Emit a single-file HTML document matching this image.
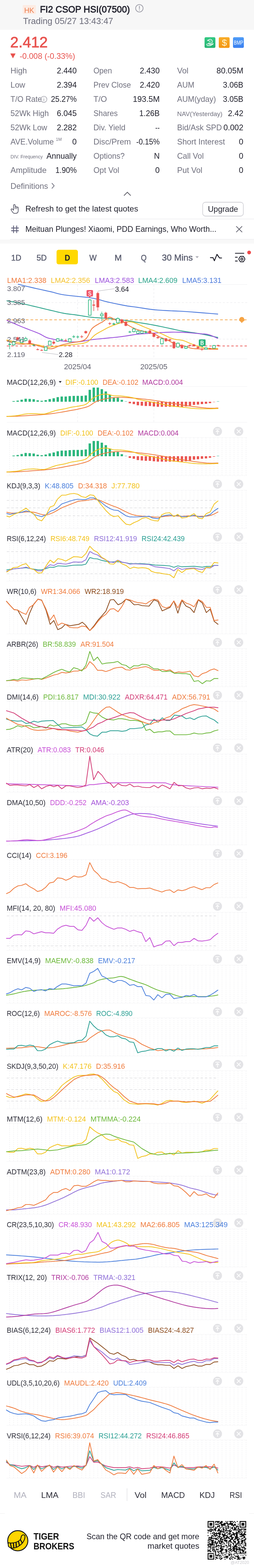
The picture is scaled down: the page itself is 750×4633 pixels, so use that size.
<!DOCTYPE html>
<html><head><meta charset="utf-8"><title>FI2 CSOP HSI(07500)</title>
<style>
html,body{margin:0;padding:0;background:#fff;}
#page{position:relative;width:750px;height:4633px;overflow:hidden;background:#fff;}
svg{position:absolute;left:0;top:0;font-family:"Liberation Sans",Arial,sans-serif;}
</style></head><body><div id="page">
<svg width="750" height="4633" viewBox="0 0 750 4633" xmlns="http://www.w3.org/2000/svg">
<rect x="0" y="0" width="750" height="88" fill="#f7f7f7"/>
<rect x="67" y="15" width="39" height="26" rx="2" fill="#fdebe2"/>
<text x="71.5" y="38.0" font-size="22" fill="#ec7e4f" textLength="29.5" lengthAdjust="spacingAndGlyphs">HK</text>
<text x="118.0" y="37.0" font-size="27.6" fill="#1d1d29" stroke="#1d1d29" stroke-width="0.99" textLength="265.7" lengthAdjust="spacingAndGlyphs">FI2 CSOP HSI(07500)</text>
<circle cx="411.5" cy="24.5" r="11" fill="none" stroke="#9b9ba6" stroke-width="2"/>
<rect x="410.5" y="17.5" width="2.2" height="9" fill="#9b9ba6"/><rect x="410.5" y="28.5" width="2.2" height="2.4" fill="#9b9ba6"/>
<text x="68.0" y="71.0" font-size="25.7" fill="#6c6c7a" textLength="266.2" lengthAdjust="spacingAndGlyphs">Trading 05/27 13:43:47</text>
<text x="30.0" y="140.0" font-size="43.5" fill="#e8524e" stroke="#e8524e" stroke-width="1.04" textLength="111.0" lengthAdjust="spacingAndGlyphs">2.412</text>
<path d="M30.5,158 L46,158 L38.2,172.5 Z" fill="#e8524e"/>
<text x="58.0" y="173.5" font-size="24.5" fill="#e8524e" textLength="163.8" lengthAdjust="spacingAndGlyphs">-0.008 (-0.33%)</text>
<defs><linearGradient id="gG" x1="0" y1="0" x2="0" y2="1"><stop offset="0" stop-color="#34c983"/><stop offset="1" stop-color="#24b372"/></linearGradient><linearGradient id="gO" x1="0" y1="0" x2="0" y2="1"><stop offset="0" stop-color="#f9ad2a"/><stop offset="1" stop-color="#f39512"/></linearGradient><linearGradient id="gB" x1="0" y1="0" x2="0" y2="1"><stop offset="0" stop-color="#4f9cf7"/><stop offset="1" stop-color="#3a7ff0"/></linearGradient></defs>
<rect x="604" y="110" width="32" height="31.5" rx="4" fill="url(#gG)"/>
<g stroke="#fff" stroke-width="1.8" fill="none" stroke-linecap="round"><path d="M614.5,120 A6.5,6.5 0 1 1 615.5,127"/><path d="M612.5,118.5 L614.5,120.5 L616.8,118.6"/><path d="M609.5,131.5 q4,-3 8,-1 l4,1 q3,0.5 5,-1 l3,-2"/><path d="M611,134.5 q6,1 11,0 l7,-4"/></g>
<text x="617.2" y="126.3" font-size="8.5" fill="#fff" font-weight="bold">C</text>
<rect x="646" y="110" width="32" height="31.5" rx="4" fill="url(#gO)"/>
<text x="655" y="134.5" font-size="26" fill="#fff7d6" textLength="15" lengthAdjust="spacingAndGlyphs">$</text>
<rect x="688" y="110" width="32" height="31.5" rx="4" fill="url(#gB)"/>
<text x="690.5" y="132.4" font-size="16.5" fill="#fff" textLength="27.5" lengthAdjust="spacingAndGlyphs">BMP</text>
<text x="31.0" y="217.0" font-size="23.4" fill="#70707e" textLength="48.4" lengthAdjust="spacingAndGlyphs">High</text>
<text x="167.7" y="217.0" font-size="23.4" fill="#22222e" textLength="58.8" lengthAdjust="spacingAndGlyphs">2.440</text>
<text x="276.0" y="217.0" font-size="23.4" fill="#70707e" textLength="54.6" lengthAdjust="spacingAndGlyphs">Open</text>
<text x="412.7" y="217.0" font-size="23.4" fill="#22222e" textLength="58.8" lengthAdjust="spacingAndGlyphs">2.430</text>
<text x="523.0" y="217.0" font-size="23.4" fill="#70707e" textLength="33.4" lengthAdjust="spacingAndGlyphs">Vol</text>
<text x="639.3" y="217.0" font-size="23.4" fill="#22222e" textLength="79.2" lengthAdjust="spacingAndGlyphs">80.05M</text>
<text x="31.0" y="259.0" font-size="23.4" fill="#70707e" textLength="43.5" lengthAdjust="spacingAndGlyphs">Low</text>
<text x="167.7" y="259.0" font-size="23.4" fill="#22222e" textLength="58.8" lengthAdjust="spacingAndGlyphs">2.394</text>
<text x="276.0" y="259.0" font-size="23.4" fill="#70707e" textLength="110.6" lengthAdjust="spacingAndGlyphs">Prev Close</text>
<text x="412.7" y="259.0" font-size="23.4" fill="#22222e" textLength="58.8" lengthAdjust="spacingAndGlyphs">2.420</text>
<text x="523.0" y="259.0" font-size="23.4" fill="#70707e" textLength="50.7" lengthAdjust="spacingAndGlyphs">AUM</text>
<text x="658.3" y="259.0" font-size="23.4" fill="#22222e" textLength="60.2" lengthAdjust="spacingAndGlyphs">3.06B</text>
<text x="31.0" y="301.0" font-size="23.4" fill="#70707e" textLength="92.7" lengthAdjust="spacingAndGlyphs">T/O Rate</text>
<text x="150.6" y="301.0" font-size="23.4" fill="#22222e" textLength="75.9" lengthAdjust="spacingAndGlyphs">25.27%</text>
<text x="276.0" y="301.0" font-size="23.4" fill="#70707e" textLength="39.7" lengthAdjust="spacingAndGlyphs">T/O</text>
<text x="392.3" y="301.0" font-size="23.4" fill="#22222e" textLength="79.2" lengthAdjust="spacingAndGlyphs">193.5M</text>
<text x="523.0" y="301.0" font-size="23.4" fill="#70707e" textLength="114.6" lengthAdjust="spacingAndGlyphs">AUM(yday)</text>
<text x="658.3" y="301.0" font-size="23.4" fill="#22222e" textLength="60.2" lengthAdjust="spacingAndGlyphs">3.05B</text>
<text x="31.0" y="343.0" font-size="23.4" fill="#70707e" textLength="113.1" lengthAdjust="spacingAndGlyphs">52Wk High</text>
<text x="167.7" y="343.0" font-size="23.4" fill="#22222e" textLength="58.8" lengthAdjust="spacingAndGlyphs">6.045</text>
<text x="276.0" y="343.0" font-size="23.4" fill="#70707e" textLength="71.7" lengthAdjust="spacingAndGlyphs">Shares</text>
<text x="411.3" y="343.0" font-size="23.4" fill="#22222e" textLength="60.2" lengthAdjust="spacingAndGlyphs">1.26B</text>
<text x="523.0" y="343.0" font-size="19" fill="#70707e" textLength="133.9" lengthAdjust="spacingAndGlyphs">NAV(Yesterday)</text>
<text x="672.9" y="343.0" font-size="23.4" fill="#22222e" textLength="45.6" lengthAdjust="spacingAndGlyphs">2.42</text>
<text x="31.0" y="385.0" font-size="23.4" fill="#70707e" textLength="108.3" lengthAdjust="spacingAndGlyphs">52Wk Low</text>
<text x="167.7" y="385.0" font-size="23.4" fill="#22222e" textLength="58.8" lengthAdjust="spacingAndGlyphs">2.282</text>
<text x="276.0" y="385.0" font-size="23.4" fill="#70707e" textLength="94.2" lengthAdjust="spacingAndGlyphs">Div. Yield</text>
<text x="458.6" y="385.0" font-size="23.4" fill="#22222e" textLength="12.9" lengthAdjust="spacingAndGlyphs">--</text>
<text x="523.0" y="385.0" font-size="23.4" fill="#70707e" textLength="132.1" lengthAdjust="spacingAndGlyphs">Bid/Ask SPD</text>
<text x="659.7" y="385.0" font-size="23.4" fill="#22222e" textLength="58.8" lengthAdjust="spacingAndGlyphs">0.002</text>
<text x="31.0" y="427.0" font-size="23.4" fill="#70707e" textLength="127.9" lengthAdjust="spacingAndGlyphs">AVE.Volume</text>
<text x="213.3" y="427.0" font-size="23.4" fill="#22222e" textLength="13.2" lengthAdjust="spacingAndGlyphs">0</text>
<text x="276.0" y="427.0" font-size="23.4" fill="#70707e" textLength="110.4" lengthAdjust="spacingAndGlyphs">Disc/Prem</text>
<text x="402.3" y="427.0" font-size="23.4" fill="#22222e" textLength="69.2" lengthAdjust="spacingAndGlyphs">-0.15%</text>
<text x="523.0" y="427.0" font-size="23.4" fill="#70707e" textLength="141.3" lengthAdjust="spacingAndGlyphs">Short Interest</text>
<text x="705.3" y="427.0" font-size="23.4" fill="#22222e" textLength="13.2" lengthAdjust="spacingAndGlyphs">0</text>
<text x="31.0" y="468.0" font-size="14.5" fill="#70707e" textLength="95.2" lengthAdjust="spacingAndGlyphs">DIV. Frequency</text>
<text x="137.3" y="469.0" font-size="23.4" fill="#22222e" textLength="89.2" lengthAdjust="spacingAndGlyphs">Annually</text>
<text x="276.0" y="469.0" font-size="23.4" fill="#70707e" textLength="92.0" lengthAdjust="spacingAndGlyphs">Options?</text>
<text x="454.8" y="469.0" font-size="23.4" fill="#22222e" textLength="16.7" lengthAdjust="spacingAndGlyphs">N</text>
<text x="523.0" y="469.0" font-size="23.4" fill="#70707e" textLength="78.6" lengthAdjust="spacingAndGlyphs">Call Vol</text>
<text x="705.3" y="469.0" font-size="23.4" fill="#22222e" textLength="13.2" lengthAdjust="spacingAndGlyphs">0</text>
<text x="31.0" y="511.0" font-size="23.4" fill="#70707e" textLength="106.5" lengthAdjust="spacingAndGlyphs">Amplitude</text>
<text x="163.7" y="511.0" font-size="23.4" fill="#22222e" textLength="62.8" lengthAdjust="spacingAndGlyphs">1.90%</text>
<text x="276.0" y="511.0" font-size="23.4" fill="#70707e" textLength="76.1" lengthAdjust="spacingAndGlyphs">Opt Vol</text>
<text x="458.3" y="511.0" font-size="23.4" fill="#22222e" textLength="13.2" lengthAdjust="spacingAndGlyphs">0</text>
<text x="523.0" y="511.0" font-size="23.4" fill="#70707e" textLength="74.5" lengthAdjust="spacingAndGlyphs">Put Vol</text>
<text x="705.3" y="511.0" font-size="23.4" fill="#22222e" textLength="13.2" lengthAdjust="spacingAndGlyphs">0</text>
<circle cx="129.5" cy="293.5" r="9" fill="none" stroke="#9b9ba6" stroke-width="1.5"/><rect x="128.7" y="292" width="1.7" height="6.5" fill="#9b9ba6"/><rect x="128.7" y="288.3" width="1.7" height="1.8" fill="#9b9ba6"/>
<text x="165.0" y="416.0" font-size="12" fill="#70707e" textLength="17.2" lengthAdjust="spacingAndGlyphs">1M</text>
<text x="31.0" y="558.0" font-size="23.4" fill="#70707e" textLength="111.0" lengthAdjust="spacingAndGlyphs">Definitions</text>
<path d="M153,541 L160,549 L153,557" stroke="#70707e" stroke-width="2" fill="none"/>
<path d="M366,578 L376,568 L386,578" stroke="#55555f" stroke-width="2" fill="none"/>
<g stroke="#5a5a6a" stroke-width="2" fill="none" stroke-linejoin="round" stroke-linecap="round"><path d="M40,620 L40,607 q0,-2.6 2.4,-2.6 q2.4,0 2.4,2.6 L44.8,617 M44.8,613 q0,-2.4 2.3,-2.4 q2.3,0 2.3,2.4 L49.4,617 M49.4,614 q0,-2.2 2.2,-2.2 q2.2,0 2.2,2.2 L53.8,622 q0,8 -7,8.5 L43,630.5 q-3.5,0 -6,-4 L33,620.5 q-0.8,-2.5 1.2,-3.2 q2,-0.6 3.5,1.2 L40,621"/></g>
<text x="75.0" y="625.0" font-size="23.9" fill="#22222e" textLength="332.9" lengthAdjust="spacingAndGlyphs">Refresh to get the latest quotes</text>
<rect x="598.5" y="597.5" width="120" height="41" rx="8" fill="#fff" stroke="#bcbcc4" stroke-width="1.3"/>
<text x="614.1" y="626.0" font-size="23.8" fill="#22222e" textLength="88.8" lengthAdjust="spacingAndGlyphs">Upgrade</text>
<rect x="30" y="646.5" width="720" height="1.2" fill="#e8e8ec"/>
<g stroke="#5d5d78" stroke-width="2.4"><path d="M40,666.5 L40,688.5 M49.3,666.5 L49.3,688.5 M33,673.7 L55.5,673.7 M33,681.8 L55.5,681.8"/></g>
<text x="75.0" y="685.0" font-size="23.9" fill="#22222e" textLength="564.0" lengthAdjust="spacingAndGlyphs">Meituan Plunges! Xiaomi, PDD Earnings, Who Worth...</text>
<path d="M697.5,668.5 L715,686 M715,668.5 L697.5,686" stroke="#5f5f6c" stroke-width="2"/>
<rect x="30" y="706.5" width="720" height="1.2" fill="#e8e8ec"/>
<rect x="0" y="708" width="750" height="11.5" fill="#f8f8f8"/>
<text x="33.0" y="770.0" font-size="24.6" fill="#5b5e70" stroke="#5b5e70" stroke-width="0.59" textLength="30.1" lengthAdjust="spacingAndGlyphs">1D</text>
<text x="108.0" y="770.0" font-size="24.6" fill="#5b5e70" stroke="#5b5e70" stroke-width="0.59" textLength="30.1" lengthAdjust="spacingAndGlyphs">5D</text>
<rect x="167" y="738" width="63" height="43" rx="6" fill="#ffd800"/>
<text x="191.0" y="770.0" font-size="24.6" fill="#1d1d29" font-weight="bold" textLength="16.0" lengthAdjust="spacingAndGlyphs">D</text>
<text x="263.7" y="770.0" font-size="24.6" fill="#5b5e70" stroke="#5b5e70" stroke-width="0.59" textLength="21.7" lengthAdjust="spacingAndGlyphs">W</text>
<text x="338.2" y="770.0" font-size="24.6" fill="#5b5e70" stroke="#5b5e70" stroke-width="0.59" textLength="21.5" lengthAdjust="spacingAndGlyphs">M</text>
<text x="416.0" y="770.0" font-size="24.6" fill="#5b5e70" stroke="#5b5e70" stroke-width="0.59" textLength="17.0" lengthAdjust="spacingAndGlyphs">Q</text>
<text x="478.0" y="770.0" font-size="25.4" fill="#5b5e70" stroke="#5b5e70" stroke-width="0.61" textLength="91.2" lengthAdjust="spacingAndGlyphs">30 Mins</text>
<path d="M577,757 L587,757 L582,763 Z" fill="#b0b0b8"/>
<polyline points="621.3,761.3 629,761.3 633,770.4 640.7,751.6 648.2,762.3 654.3,762.3" fill="none" stroke="#1d1d29" stroke-width="2.6" stroke-linejoin="round" stroke-linecap="round"/>
<g stroke="#1d1d29" stroke-width="2.4" fill="none" stroke-linecap="round"><path d="M695,748.4 L720,748.4 M695,760 L700.6,760 M695,771.3 L700.6,771.3"/><polygon points="723.4,765.5 718.8,773.5 709.6,773.5 705.0,765.5 709.6,757.5 718.8,757.5" stroke-linejoin="round"/><circle cx="714.2" cy="765.5" r="3.2"/></g>
<circle cx="735.6" cy="746" r="5.5" fill="#ee4a4a"/>
<text x="21.0" y="836.0" font-size="21.5" fill="#ef7a3c" textLength="115.9" lengthAdjust="spacingAndGlyphs">LMA1:2.338</text>
<text x="150.0" y="836.0" font-size="21.5" fill="#f4c12a" textLength="115.9" lengthAdjust="spacingAndGlyphs">LMA2:2.356</text>
<text x="280.0" y="836.0" font-size="21.5" fill="#9b50dc" textLength="115.9" lengthAdjust="spacingAndGlyphs">LMA3:2.583</text>
<text x="408.0" y="836.0" font-size="21.5" fill="#2aa38a" textLength="115.9" lengthAdjust="spacingAndGlyphs">LMA4:2.609</text>
<text x="538.0" y="836.0" font-size="21.5" fill="#4b79dc" textLength="115.9" lengthAdjust="spacingAndGlyphs">LMA5:3.131</text>
<rect x="20" y="840" width="710" height="1" fill="#ececef"/>
<rect x="20" y="1060" width="710" height="1" fill="#ececef"/>
<line x1="20" y1="894" x2="730" y2="894" stroke="#e4e4e8" stroke-width="1" stroke-dasharray="6,5"/>
<line x1="20" y1="1002" x2="730" y2="1002" stroke="#e4e4e8" stroke-width="1" stroke-dasharray="6,5"/>
<line x1="229" y1="841" x2="229" y2="1060" stroke="#e4e4e8" stroke-width="1" stroke-dasharray="6,5"/>
<line x1="454.3" y1="841" x2="454.3" y2="1060" stroke="#e4e4e8" stroke-width="1" stroke-dasharray="6,5"/>
<line x1="20" y1="945" x2="730" y2="945" stroke="#f3a64a" stroke-width="2" stroke-dasharray="8,6"/>
<circle cx="714" cy="944" r="7.5" fill="#f6a444"/><rect x="706" y="945" width="16" height="2.5" fill="#f6a444"/><circle cx="714" cy="952" r="2" fill="#f6a444"/>
<line x1="20" y1="1022.3" x2="730" y2="1022.3" stroke="#ea5451" stroke-width="2" stroke-dasharray="7,6"/>
<polyline points="54.0,840.0 59.0,841.2 65.8,842.9 73.9,844.8 82.7,846.9 91.6,849.0 100.0,851.0 108.2,852.9 116.7,854.7 125.4,856.6 133.9,858.5 142.2,860.3 150.0,862.0 156.8,863.7 162.6,865.3 168.1,866.8 174.0,868.3 181.1,869.9 190.0,871.4 201.5,872.9 215.3,874.4 230.1,875.9 245.1,877.4 259.1,878.9 271.0,880.6 280.6,882.4 288.6,884.3 295.6,886.2 302.2,888.1 309.1,890.1 316.7,892.0 325.3,893.9 334.6,895.9 344.0,897.9 353.3,899.8 362.1,901.5 370.0,903.0 376.8,904.2 382.8,905.0 388.3,905.8 393.7,906.4 399.3,907.1 405.6,908.0 412.6,909.1 420.0,910.2 427.7,911.5 435.5,912.7 443.3,913.8 451.0,914.7 458.5,915.5 465.9,916.1 473.4,916.6 480.9,917.1 488.6,917.5 496.7,918.0 504.7,918.4 512.4,918.7 520.4,919.0 529.0,919.4 538.7,919.9 550.0,920.6 564.3,921.6 581.5,923.0 599.8,924.5 617.4,925.9 632.4,927.1 643.0,928.0" fill="none" stroke="#4b79dc" stroke-width="2.4" stroke-linejoin="round" stroke-linecap="round"/>
<polyline points="20.5,888.8 24.8,889.6 30.7,890.6 37.8,891.8 45.3,893.2 52.9,894.6 60.0,896.0 66.5,897.4 72.9,898.8 79.3,900.2 85.9,901.7 92.7,903.3 100.0,905.0 107.9,906.9 116.3,908.9 125.0,911.0 133.7,913.1 142.1,915.1 150.0,917.0 157.3,918.7 164.2,920.4 170.9,922.0 177.4,923.4 183.7,924.8 190.0,926.0 196.1,927.0 201.8,927.8 207.5,928.5 213.2,929.1 219.2,929.8 225.6,930.7 232.6,931.8 240.0,932.9 247.7,934.2 255.5,935.4 263.3,936.6 271.0,937.5 278.5,938.2 285.9,938.7 293.4,939.2 300.9,939.6 308.6,940.1 316.7,940.7 325.3,941.5 334.6,942.5 344.0,943.5 353.3,944.5 362.1,945.6 370.0,946.6 376.8,947.6 382.8,948.5 388.3,949.4 393.7,950.4 399.3,951.4 405.6,952.5 412.6,953.6 420.0,954.8 427.7,956.0 435.5,957.3 443.3,958.6 451.0,960.0 458.6,961.5 466.3,963.0 474.0,964.6 481.6,966.2 489.2,967.8 496.7,969.4 504.0,971.0 511.1,972.5 518.1,974.1 525.2,975.6 532.4,977.1 540.0,978.5 547.9,979.8 556.1,981.0 564.4,982.1 572.9,983.3 581.4,984.6 590.0,986.0 599.3,987.8 609.4,989.8 619.6,992.0 629.1,994.0 637.2,995.8 643.0,997.0" fill="none" stroke="#2aa38a" stroke-width="2.4" stroke-linejoin="round" stroke-linecap="round"/>
<polyline points="20.5,946.6 25.7,948.8 32.9,952.0 41.4,955.7 50.5,959.6 59.6,963.5 68.0,967.0 76.0,970.2 84.3,973.4 92.5,976.5 100.4,979.5 107.7,982.4 114.0,985.0 119.2,987.4 123.4,989.7 127.0,991.8 130.3,993.7 133.5,995.4 137.0,997.0 140.7,998.3 144.4,999.4 148.1,1000.3 151.8,1001.1 155.4,1001.8 159.0,1002.6 162.3,1003.4 165.2,1004.2 168.0,1004.9 171.2,1005.7 175.1,1006.3 180.0,1007.0 186.2,1007.7 193.4,1008.6 201.3,1009.4 209.5,1010.1 217.7,1010.4 225.6,1010.4 233.2,1009.8 240.7,1008.8 248.3,1007.5 255.9,1006.1 263.4,1004.7 271.0,1003.6 278.6,1002.7 286.3,1001.9 294.0,1001.2 301.6,1000.4 309.2,999.7 316.7,999.0 324.0,998.3 331.2,997.6 338.4,996.9 345.5,996.2 352.7,995.4 360.0,994.5 367.5,993.4 375.0,992.2 382.7,991.0 390.3,989.7 398.0,988.6 405.6,987.6 413.2,986.8 420.7,986.2 428.3,985.7 435.9,985.3 443.4,984.9 451.0,984.4 458.6,983.9 466.3,983.4 474.0,982.8 481.6,982.4 489.2,982.0 496.7,981.7 504.0,981.5 511.1,981.4 518.1,981.4 525.2,981.5 532.4,981.7 540.0,982.0 548.2,982.5 557.1,983.1 566.1,983.9 574.9,984.6 583.0,985.4 590.0,986.0 595.6,986.4 600.2,986.6 604.2,986.8 607.8,987.1 611.4,987.7 615.5,988.6 620.3,990.1 625.5,992.2 630.8,994.5 635.8,996.7 640.0,998.7 643.0,1000.0" fill="none" stroke="#9b50dc" stroke-width="2.4" stroke-linejoin="round" stroke-linecap="round"/>
<polyline points="20.5,1004.5 25.7,1005.7 32.9,1007.4 41.4,1009.5 50.5,1011.6 59.6,1013.5 68.0,1015.0 76.0,1016.1 84.3,1016.9 92.5,1017.5 100.4,1018.1 107.7,1018.7 114.0,1019.5 119.2,1020.6 123.4,1021.8 127.0,1023.2 130.3,1024.4 133.5,1025.4 137.0,1026.0 140.7,1026.2 144.4,1026.0 148.1,1025.5 151.8,1025.0 155.4,1024.4 159.0,1024.0 162.3,1023.7 165.2,1023.4 168.0,1023.1 171.2,1022.7 175.1,1022.3 180.0,1021.8 186.3,1021.2 193.9,1020.5 202.1,1019.7 210.5,1018.8 218.5,1017.9 225.6,1017.0 231.8,1016.2 237.6,1015.4 242.9,1014.7 248.0,1013.7 252.8,1012.3 257.4,1010.4 261.6,1007.7 265.4,1004.5 269.0,1000.8 272.4,997.0 276.1,993.3 280.0,990.0 284.4,987.0 289.2,984.1 294.1,981.3 298.9,978.7 303.5,976.2 307.6,974.0 311.1,972.1 314.0,970.5 316.7,969.0 319.4,967.7 322.4,966.3 325.8,964.8 329.9,963.1 334.6,961.3 339.5,959.5 344.4,957.8 349.0,956.2 353.0,955.0 356.4,954.1 359.2,953.4 361.8,952.9 364.3,952.5 367.0,952.2 370.0,952.0 373.2,951.7 376.4,951.2 379.8,950.9 383.4,950.8 387.5,951.1 392.0,952.0 397.1,953.6 402.6,955.8 408.5,958.4 414.7,961.2 421.3,964.2 428.0,967.0 435.2,969.8 443.0,972.9 451.0,975.9 459.0,979.0 466.8,982.1 474.0,985.0 480.6,987.9 487.0,990.9 493.0,993.8 498.8,996.6 504.5,999.0 510.0,1001.0 515.4,1002.4 520.6,1003.3 525.7,1003.9 530.6,1004.4 535.4,1005.0 540.0,1006.0 544.5,1007.4 548.7,1009.0 552.8,1010.8 556.9,1012.6 560.9,1014.3 565.0,1016.0 569.2,1017.6 573.3,1019.3 577.5,1020.9 581.7,1022.4 585.8,1023.8 590.0,1025.0 594.1,1026.0 598.2,1026.8 602.3,1027.5 606.4,1028.1 610.7,1028.6 615.0,1029.0 619.8,1029.4 625.1,1029.6 630.6,1029.8 635.6,1029.9 639.9,1029.9 643.0,1030.0" fill="none" stroke="#f4c12a" stroke-width="2.4" stroke-linejoin="round" stroke-linecap="round"/>
<polyline points="20.5,1007.0 23.2,1007.9 27.1,1009.3 31.6,1010.9 36.4,1012.5 41.2,1013.9 45.5,1015.0 49.4,1015.7 53.2,1016.3 56.9,1016.6 60.6,1016.9 64.2,1017.0 68.0,1017.0 71.8,1016.8 75.6,1016.3 79.5,1015.7 83.3,1015.1 87.2,1014.9 91.0,1015.0 94.8,1015.7 98.7,1016.7 102.5,1018.0 106.3,1019.4 110.2,1020.8 114.0,1022.0 117.9,1023.2 121.9,1024.4 125.8,1025.7 129.7,1026.8 133.5,1027.8 137.0,1028.6 140.2,1029.3 143.1,1029.9 145.9,1030.3 148.7,1030.6 151.7,1030.5 155.0,1030.0 158.7,1029.0 162.7,1027.4 166.9,1025.5 171.3,1023.5 175.6,1021.6 180.0,1020.0 184.2,1018.8 188.2,1017.7 192.3,1016.8 196.7,1015.9 201.5,1014.8 207.0,1013.6 213.6,1012.4 221.2,1011.3 229.2,1010.2 237.2,1008.7 244.5,1006.6 250.6,1003.6 255.3,999.4 259.1,994.0 262.2,987.9 265.0,981.9 267.9,976.3 271.0,971.7 274.5,968.2 278.2,965.2 281.9,962.7 285.4,960.6 288.7,958.7 291.6,957.0 294.0,955.5 296.0,954.5 297.7,953.7 299.4,953.0 301.1,952.1 303.0,951.0 305.2,949.4 307.6,947.6 310.0,945.7 312.4,943.8 314.7,942.1 316.7,940.7 318.4,939.6 319.7,938.7 321.0,937.9 322.3,937.4 323.8,937.2 325.8,937.5 328.3,938.4 331.3,940.0 334.5,941.9 337.8,943.8 341.0,945.5 344.0,946.6 346.8,947.0 349.6,946.9 352.3,946.5 354.9,946.1 357.5,946.0 360.0,946.6 362.2,947.8 364.1,949.4 365.9,951.3 367.9,953.4 370.4,955.7 373.7,958.0 377.8,960.5 382.5,963.2 387.7,966.0 393.3,968.8 399.3,971.6 405.6,974.0 412.6,976.2 420.6,978.1 428.9,979.9 437.0,981.7 444.6,983.5 451.0,985.3 456.1,987.2 460.3,989.2 463.9,991.1 467.2,993.1 470.4,994.9 474.0,996.7 477.9,998.3 481.8,999.9 485.6,1001.4 489.5,1002.8 493.2,1004.3 496.7,1005.8 499.8,1007.3 502.5,1008.9 505.1,1010.4 507.8,1011.9 511.0,1013.5 515.0,1015.0 520.1,1016.6 526.2,1018.2 532.7,1019.8 539.2,1021.3 545.1,1022.7 550.0,1024.0 553.5,1025.1 556.1,1026.1 558.1,1026.9 560.0,1027.7 562.2,1028.4 565.0,1029.0 568.3,1029.5 571.6,1029.9 575.1,1030.2 579.2,1030.5 584.1,1030.8 590.0,1031.0 597.8,1031.2 607.6,1031.4 618.1,1031.6 628.2,1031.8 636.9,1031.9 643.0,1032.0" fill="none" stroke="#ef7a3c" stroke-width="2.4" stroke-linejoin="round" stroke-linecap="round"/>
<line x1="28.5" y1="1011" x2="28.5" y2="1032" stroke="#2bb67d" stroke-width="1.6"/>
<rect x="24.5" y="1016" width="8" height="3.0" fill="#2bb67d"/>
<line x1="40.3" y1="1007" x2="40.3" y2="1021" stroke="#2bb67d" stroke-width="1.6"/>
<rect x="36.3" y="1010" width="8" height="9.0" fill="#fff" stroke="#2bb67d" stroke-width="1.8"/>
<line x1="52.2" y1="995" x2="52.2" y2="1006" stroke="#ea5451" stroke-width="1.6"/>
<rect x="48.2" y="997" width="8" height="7.5" fill="#ea5451"/>
<line x1="64.0" y1="1001" x2="64.0" y2="1014" stroke="#2bb67d" stroke-width="1.6"/>
<rect x="60.0" y="1003.5" width="8" height="9.2" fill="#fff" stroke="#2bb67d" stroke-width="1.8"/>
<line x1="75.8" y1="995" x2="75.8" y2="1009" stroke="#2bb67d" stroke-width="1.6"/>
<rect x="71.8" y="1000" width="8" height="6.0" fill="#fff" stroke="#2bb67d" stroke-width="1.8"/>
<line x1="87.7" y1="1003" x2="87.7" y2="1018" stroke="#ea5451" stroke-width="1.6"/>
<rect x="83.7" y="1006" width="8" height="10.0" fill="#ea5451"/>
<line x1="99.5" y1="1017" x2="99.5" y2="1023" stroke="#2bb67d" stroke-width="1.6"/>
<rect x="95.5" y="1019" width="8" height="2.0" fill="#2bb67d"/>
<line x1="111.3" y1="1029" x2="111.3" y2="1035" stroke="#ea5451" stroke-width="1.6"/>
<rect x="107.3" y="1032" width="8" height="2.0" fill="#ea5451"/>
<line x1="123.1" y1="1032" x2="123.1" y2="1037" stroke="#ea5451" stroke-width="1.6"/>
<rect x="119.1" y="1034" width="8" height="2.0" fill="#ea5451"/>
<line x1="135.0" y1="1023" x2="135.0" y2="1037" stroke="#2bb67d" stroke-width="1.6"/>
<rect x="131.0" y="1025" width="8" height="10.5" fill="#fff" stroke="#2bb67d" stroke-width="1.8"/>
<line x1="146.8" y1="1006" x2="146.8" y2="1021" stroke="#2bb67d" stroke-width="1.6"/>
<rect x="142.8" y="1008" width="8" height="11.5" fill="#fff" stroke="#2bb67d" stroke-width="1.8"/>
<line x1="158.6" y1="1005" x2="158.6" y2="1018" stroke="#ea5451" stroke-width="1.6"/>
<rect x="154.6" y="1010" width="8" height="5.0" fill="#ea5451"/>
<line x1="170.5" y1="999" x2="170.5" y2="1010" stroke="#2bb67d" stroke-width="1.6"/>
<rect x="166.5" y="1001" width="8" height="7.0" fill="#fff" stroke="#2bb67d" stroke-width="1.8"/>
<line x1="182.3" y1="1000" x2="182.3" y2="1007" stroke="#2bb67d" stroke-width="1.6"/>
<rect x="178.3" y="1003" width="8" height="2.0" fill="#2bb67d"/>
<line x1="194.1" y1="1001" x2="194.1" y2="1010" stroke="#ea5451" stroke-width="1.6"/>
<rect x="190.1" y="1005" width="8" height="2.0" fill="#ea5451"/>
<line x1="205.9" y1="999" x2="205.9" y2="1012" stroke="#2bb67d" stroke-width="1.6"/>
<rect x="201.9" y="1001" width="8" height="9.0" fill="#fff" stroke="#2bb67d" stroke-width="1.8"/>
<line x1="217.8" y1="990" x2="217.8" y2="999" stroke="#2bb67d" stroke-width="1.6"/>
<rect x="213.8" y="994" width="8" height="2.0" fill="#2bb67d"/>
<line x1="229.6" y1="991" x2="229.6" y2="1000" stroke="#2bb67d" stroke-width="1.6"/>
<rect x="225.6" y="994.5" width="8" height="2.0" fill="#2bb67d"/>
<line x1="241.4" y1="990" x2="241.4" y2="999" stroke="#ea5451" stroke-width="1.6"/>
<rect x="237.4" y="994" width="8" height="2.0" fill="#ea5451"/>
<line x1="253.3" y1="977" x2="253.3" y2="986" stroke="#ea5451" stroke-width="1.6"/>
<rect x="249.3" y="978.5" width="8" height="5.9" fill="#ea5451"/>
<line x1="265.1" y1="884" x2="265.1" y2="933" stroke="#2bb67d" stroke-width="1.6"/>
<rect x="261.1" y="886" width="8" height="45.6" fill="#fff" stroke="#2bb67d" stroke-width="1.8"/>
<line x1="276.9" y1="887" x2="276.9" y2="919" stroke="#ea5451" stroke-width="1.6"/>
<rect x="272.9" y="900" width="8" height="3.0" fill="#ea5451"/>
<line x1="288.8" y1="862" x2="288.8" y2="918" stroke="#ea5451" stroke-width="1.6"/>
<rect x="284.8" y="866" width="8" height="42.0" fill="#ea5451"/>
<line x1="300.6" y1="921" x2="300.6" y2="949" stroke="#2bb67d" stroke-width="1.6"/>
<rect x="296.6" y="928" width="8" height="5.0" fill="#fff" stroke="#2bb67d" stroke-width="1.8"/>
<line x1="312.4" y1="921" x2="312.4" y2="943" stroke="#ea5451" stroke-width="1.6"/>
<rect x="308.4" y="924" width="8" height="16.0" fill="#ea5451"/>
<line x1="324.2" y1="952" x2="324.2" y2="961" stroke="#ea5451" stroke-width="1.6"/>
<rect x="320.2" y="955" width="8" height="2.0" fill="#ea5451"/>
<line x1="336.1" y1="953" x2="336.1" y2="960" stroke="#2bb67d" stroke-width="1.6"/>
<rect x="332.1" y="956" width="8" height="3.0" fill="#2bb67d"/>
<line x1="347.9" y1="938" x2="347.9" y2="956" stroke="#2bb67d" stroke-width="1.6"/>
<rect x="343.9" y="941" width="8" height="13.0" fill="#fff" stroke="#2bb67d" stroke-width="1.8"/>
<line x1="359.7" y1="942" x2="359.7" y2="957" stroke="#ea5451" stroke-width="1.6"/>
<rect x="355.7" y="944" width="8" height="10.0" fill="#ea5451"/>
<line x1="371.6" y1="948" x2="371.6" y2="964" stroke="#ea5451" stroke-width="1.6"/>
<rect x="367.6" y="951" width="8" height="11.6" fill="#ea5451"/>
<line x1="383.4" y1="977" x2="383.4" y2="984" stroke="#2bb67d" stroke-width="1.6"/>
<rect x="379.4" y="980" width="8" height="2.0" fill="#2bb67d"/>
<line x1="395.2" y1="968" x2="395.2" y2="982" stroke="#2bb67d" stroke-width="1.6"/>
<rect x="391.2" y="971.7" width="8" height="8.3" fill="#fff" stroke="#2bb67d" stroke-width="1.8"/>
<line x1="407.1" y1="976" x2="407.1" y2="987" stroke="#2bb67d" stroke-width="1.6"/>
<rect x="403.1" y="978.5" width="8" height="6.5" fill="#fff" stroke="#2bb67d" stroke-width="1.8"/>
<line x1="418.9" y1="976" x2="418.9" y2="986" stroke="#2bb67d" stroke-width="1.6"/>
<rect x="414.9" y="978.5" width="8" height="5.9" fill="#fff" stroke="#2bb67d" stroke-width="1.8"/>
<line x1="430.7" y1="977" x2="430.7" y2="986" stroke="#2bb67d" stroke-width="1.6"/>
<rect x="426.7" y="980" width="8" height="3.0" fill="#2bb67d"/>
<line x1="442.6" y1="974" x2="442.6" y2="987" stroke="#ea5451" stroke-width="1.6"/>
<rect x="438.6" y="977" width="8" height="8.0" fill="#ea5451"/>
<line x1="454.4" y1="983" x2="454.4" y2="997" stroke="#ea5451" stroke-width="1.6"/>
<rect x="450.4" y="985" width="8" height="10.0" fill="#ea5451"/>
<line x1="466.2" y1="993" x2="466.2" y2="1001" stroke="#ea5451" stroke-width="1.6"/>
<rect x="462.2" y="996" width="8" height="3.0" fill="#ea5451"/>
<line x1="478.0" y1="999" x2="478.0" y2="1018" stroke="#2bb67d" stroke-width="1.6"/>
<rect x="474.0" y="1001" width="8" height="15.0" fill="#fff" stroke="#2bb67d" stroke-width="1.8"/>
<line x1="489.9" y1="998" x2="489.9" y2="1010" stroke="#ea5451" stroke-width="1.6"/>
<rect x="485.9" y="1000" width="8" height="8.0" fill="#ea5451"/>
<line x1="501.7" y1="1000" x2="501.7" y2="1008" stroke="#ea5451" stroke-width="1.6"/>
<rect x="497.7" y="1003" width="8" height="3.0" fill="#ea5451"/>
<line x1="513.5" y1="1008" x2="513.5" y2="1031" stroke="#ea5451" stroke-width="1.6"/>
<rect x="509.5" y="1010" width="8" height="18.6" fill="#ea5451"/>
<line x1="525.4" y1="1012" x2="525.4" y2="1027" stroke="#2bb67d" stroke-width="1.6"/>
<rect x="521.4" y="1014" width="8" height="11.4" fill="#fff" stroke="#2bb67d" stroke-width="1.8"/>
<line x1="537.2" y1="1017" x2="537.2" y2="1030" stroke="#ea5451" stroke-width="1.6"/>
<rect x="533.2" y="1019.5" width="8" height="9.1" fill="#ea5451"/>
<line x1="549.0" y1="1022" x2="549.0" y2="1031" stroke="#2bb67d" stroke-width="1.6"/>
<rect x="545.0" y="1024" width="8" height="5.0" fill="#fff" stroke="#2bb67d" stroke-width="1.8"/>
<line x1="560.9" y1="1017" x2="560.9" y2="1024" stroke="#ea5451" stroke-width="1.6"/>
<rect x="556.9" y="1020" width="8" height="2.0" fill="#ea5451"/>
<line x1="572.7" y1="1016" x2="572.7" y2="1024" stroke="#ea5451" stroke-width="1.6"/>
<rect x="568.7" y="1018" width="8" height="5.0" fill="#ea5451"/>
<line x1="584.5" y1="1023" x2="584.5" y2="1031" stroke="#ea5451" stroke-width="1.6"/>
<rect x="580.5" y="1025" width="8" height="4.0" fill="#ea5451"/>
<line x1="596.3" y1="1029" x2="596.3" y2="1037" stroke="#ea5451" stroke-width="1.6"/>
<rect x="592.3" y="1031" width="8" height="2.0" fill="#ea5451"/>
<line x1="608.2" y1="1026" x2="608.2" y2="1033" stroke="#2bb67d" stroke-width="1.6"/>
<rect x="604.2" y="1028" width="8" height="4.0" fill="#fff" stroke="#2bb67d" stroke-width="1.8"/>
<line x1="620.0" y1="1027" x2="620.0" y2="1033" stroke="#ea5451" stroke-width="1.6"/>
<rect x="616.0" y="1029" width="8" height="2.0" fill="#ea5451"/>
<line x1="631.8" y1="1019" x2="631.8" y2="1030" stroke="#2bb67d" stroke-width="1.6"/>
<rect x="627.8" y="1021" width="8" height="8.0" fill="#fff" stroke="#2bb67d" stroke-width="1.8"/>
<line x1="643.7" y1="1018" x2="643.7" y2="1024" stroke="#ea5451" stroke-width="1.6"/>
<rect x="639.7" y="1020" width="8" height="2.0" fill="#ea5451"/>
<text x="21.0" y="860.0" font-size="21.1" fill="#62626f" textLength="53.0" lengthAdjust="spacingAndGlyphs">3.807</text>
<text x="21.0" y="901.0" font-size="21.1" fill="#62626f" textLength="53.0" lengthAdjust="spacingAndGlyphs">3.385</text>
<text x="21.0" y="955.0" font-size="21.1" fill="#62626f" textLength="53.0" lengthAdjust="spacingAndGlyphs">2.963</text>
<text x="21.0" y="1009.5" font-size="21.1" fill="#62626f" textLength="53.0" lengthAdjust="spacingAndGlyphs">2.541</text>
<text x="21.0" y="1054.6" font-size="21.1" fill="#62626f" textLength="53.0" lengthAdjust="spacingAndGlyphs">2.119</text>
<line x1="289" y1="860" x2="338" y2="853" stroke="#a8a8b0" stroke-width="1.2"/>
<text x="339.6" y="862.2" font-size="21.2" fill="#22222e" textLength="41.3" lengthAdjust="spacingAndGlyphs">3.64</text>
<line x1="124" y1="1041.5" x2="172" y2="1047.5" stroke="#a8a8b0" stroke-width="1.2"/>
<text x="173.5" y="1055.3" font-size="20.8" fill="#22222e" textLength="40.6" lengthAdjust="spacingAndGlyphs">2.28</text>
<rect x="255.6" y="857" width="19" height="19" rx="3" fill="#f0566a"/><path d="M262,876 L265,880 L268,876Z" fill="#f0566a"/>
<text x="260.3" y="873.0" font-size="16" fill="#fff" stroke="#fff" stroke-width="0.38" textLength="9.7" lengthAdjust="spacingAndGlyphs">S</text>
<rect x="587" y="1002.7" width="20" height="20" rx="3" fill="#2bb67d"/><path d="M594,1022.5 L597,1026.5 L600,1022.5Z" fill="#2bb67d"/>
<text x="591.6" y="1019.0" font-size="17" fill="#fff" stroke="#fff" stroke-width="0.41" textLength="10.7" lengthAdjust="spacingAndGlyphs">B</text>
<text x="188.9" y="1091.0" font-size="21.2" fill="#62626f" textLength="80.2" lengthAdjust="spacingAndGlyphs">2025/04</text>
<text x="414.2" y="1091.0" font-size="21.2" fill="#62626f" textLength="80.2" lengthAdjust="spacingAndGlyphs">2025/05</text>
<text x="20.0" y="1137.4" font-size="21.5" fill="#2d2d38" textLength="144.7" lengthAdjust="spacingAndGlyphs">MACD(12,26,9)</text>
<path d="M173.5,1126 L182,1126 L177.7,1131.5Z" fill="#2d2d38"/>
<text x="193.0" y="1137.4" font-size="21.5" fill="#f2c21b" textLength="97.0" lengthAdjust="spacingAndGlyphs">DIF:-0.100</text>
<text x="303.0" y="1137.4" font-size="21.5" fill="#ef7a3c" textLength="105.5" lengthAdjust="spacingAndGlyphs">DEA:-0.102</text>
<text x="420.0" y="1137.4" font-size="21.5" fill="#b0389e" textLength="120.2" lengthAdjust="spacingAndGlyphs">MACD:0.004</text>
<line x1="20" y1="1142" x2="730" y2="1142" stroke="#f0f0f2" stroke-width="1"/>
<line x1="20" y1="1248" x2="730" y2="1248" stroke="#f0f0f2" stroke-width="1"/>
<line x1="229" y1="1142" x2="229" y2="1248" stroke="#e8e8ec" stroke-width="1" stroke-dasharray="6,5"/>
<line x1="454.3" y1="1142" x2="454.3" y2="1248" stroke="#e8e8ec" stroke-width="1" stroke-dasharray="6,5"/>
<rect x="36.8" y="1185.1" width="7" height="1.9" fill="#2bb67d"/>
<rect x="48.7" y="1183.7" width="7" height="3.3" fill="#2bb67d"/>
<rect x="60.5" y="1181.0" width="7" height="6.0" fill="#2bb67d"/>
<rect x="72.3" y="1178.1" width="7" height="8.9" fill="#2bb67d"/>
<rect x="84.2" y="1178.6" width="7" height="8.4" fill="#2bb67d"/>
<rect x="96.0" y="1179.6" width="7" height="7.4" fill="#2bb67d"/>
<rect x="107.8" y="1182.8" width="7" height="4.2" fill="#2bb67d"/>
<rect x="119.6" y="1184.2" width="7" height="2.8" fill="#2bb67d"/>
<rect x="131.5" y="1182.3" width="7" height="4.7" fill="#2bb67d"/>
<rect x="143.3" y="1179.1" width="7" height="7.9" fill="#2bb67d"/>
<rect x="155.1" y="1176.8" width="7" height="10.2" fill="#2bb67d"/>
<rect x="167.0" y="1173.4" width="7" height="13.6" fill="#2bb67d"/>
<rect x="178.8" y="1171.6" width="7" height="15.4" fill="#2bb67d"/>
<rect x="190.6" y="1171.6" width="7" height="15.4" fill="#2bb67d"/>
<rect x="202.4" y="1170.3" width="7" height="16.7" fill="#2bb67d"/>
<rect x="214.3" y="1169.7" width="7" height="17.3" fill="#2bb67d"/>
<rect x="226.1" y="1169.7" width="7" height="17.3" fill="#2bb67d"/>
<rect x="237.9" y="1169.7" width="7" height="17.3" fill="#2bb67d"/>
<rect x="249.8" y="1168.4" width="7" height="18.6" fill="#2bb67d"/>
<rect x="261.6" y="1151.8" width="7" height="35.2" fill="#2bb67d"/>
<rect x="273.4" y="1145.2" width="7" height="41.9" fill="#2bb67d"/>
<rect x="285.3" y="1145.2" width="7" height="41.9" fill="#2bb67d"/>
<rect x="297.1" y="1149.8" width="7" height="37.2" fill="#2bb67d"/>
<rect x="308.9" y="1156.6" width="7" height="30.4" fill="#2bb67d"/>
<rect x="320.8" y="1165.9" width="7" height="21.1" fill="#2bb67d"/>
<rect x="332.6" y="1174.4" width="7" height="12.6" fill="#2bb67d"/>
<rect x="344.4" y="1175.3" width="7" height="11.7" fill="#2bb67d"/>
<rect x="356.2" y="1181.4" width="7" height="5.6" fill="#2bb67d"/>
<rect x="368.1" y="1185.5" width="7" height="1.5" fill="#7fd0c0"/>
<rect x="379.9" y="1187.0" width="7" height="4.7" fill="#ea5451"/>
<rect x="391.7" y="1187.0" width="7" height="7.0" fill="#ea5451"/>
<rect x="403.6" y="1187.0" width="7" height="10.5" fill="#ea5451"/>
<rect x="415.4" y="1187.0" width="7" height="11.7" fill="#ea5451"/>
<rect x="427.2" y="1187.0" width="7" height="12.6" fill="#ea5451"/>
<rect x="439.1" y="1187.0" width="7" height="12.6" fill="#ea5451"/>
<rect x="450.9" y="1187.0" width="7" height="14.0" fill="#ea5451"/>
<rect x="462.7" y="1187.0" width="7" height="14.9" fill="#ea5451"/>
<rect x="474.5" y="1187.0" width="7" height="14.9" fill="#ea5451"/>
<rect x="486.4" y="1187.0" width="7" height="14.9" fill="#ea5451"/>
<rect x="498.2" y="1187.0" width="7" height="14.9" fill="#ea5451"/>
<rect x="510.0" y="1187.0" width="7" height="14.9" fill="#ea5451"/>
<rect x="521.9" y="1187.0" width="7" height="14.9" fill="#ea5451"/>
<rect x="533.7" y="1187.0" width="7" height="14.9" fill="#ea5451"/>
<rect x="545.5" y="1187.0" width="7" height="14.0" fill="#ea5451"/>
<rect x="557.4" y="1187.0" width="7" height="11.7" fill="#ea5451"/>
<rect x="569.2" y="1187.0" width="7" height="9.3" fill="#ea5451"/>
<rect x="581.0" y="1187.0" width="7" height="8.4" fill="#ea5451"/>
<rect x="592.8" y="1187.0" width="7" height="7.0" fill="#ea5451"/>
<rect x="604.7" y="1187.0" width="7" height="6.0" fill="#ea5451"/>
<rect x="616.5" y="1187.0" width="7" height="4.2" fill="#ea5451"/>
<rect x="628.3" y="1187.0" width="7" height="1.5" fill="#f0a0a0"/>
<rect x="640.2" y="1185.5" width="7" height="1.5" fill="#7fd0c0"/>
<polyline points="20.0,1230.4 23.1,1230.4 27.1,1230.4 32.1,1230.3 37.7,1230.2 43.8,1230.0 50.4,1229.8 57.8,1229.4 66.2,1228.9 75.2,1228.4 84.3,1227.8 93.0,1227.2 100.7,1226.7 107.5,1226.3 113.6,1225.9 119.3,1225.6 124.8,1225.2 130.3,1224.7 136.0,1224.2 141.8,1223.6 147.5,1222.9 153.3,1222.1 159.0,1221.3 164.9,1220.5 171.0,1219.5 177.5,1218.5 184.4,1217.3 191.4,1216.1 198.3,1214.8 204.6,1213.7 210.0,1212.7 214.3,1211.9 217.7,1211.4 220.6,1210.9 223.3,1210.4 226.3,1209.8 230.0,1208.9 234.5,1207.9 239.6,1206.8 245.0,1205.5 250.3,1204.1 255.4,1202.6 260.0,1201.0 264.0,1199.1 267.6,1196.9 270.9,1194.6 274.1,1192.3 277.3,1190.2 280.6,1188.3 283.9,1186.7 287.1,1185.3 290.4,1184.1 293.6,1183.0 297.1,1181.9 300.7,1180.9 304.6,1179.8 308.8,1178.9 313.0,1178.0 317.4,1177.2 321.7,1176.5 326.0,1175.8 330.2,1175.3 334.4,1174.9 338.5,1174.5 342.7,1174.3 346.8,1174.1 351.0,1174.0 355.1,1174.0 359.0,1174.0 362.9,1174.2 367.0,1174.4 371.3,1174.6 376.0,1174.9 381.1,1175.2 386.4,1175.6 392.0,1176.1 397.9,1176.6 403.9,1177.1 410.0,1177.7 416.2,1178.3 422.6,1179.0 429.2,1179.7 436.0,1180.5 443.0,1181.4 450.4,1182.3 458.2,1183.5 466.4,1184.7 474.9,1186.0 483.6,1187.4 492.2,1188.8 500.7,1190.2 509.0,1191.6 517.1,1193.0 525.3,1194.4 533.6,1195.9 542.1,1197.3 551.0,1198.6 560.6,1200.0 571.0,1201.3 581.5,1202.6 591.9,1203.8 601.5,1204.9 610.0,1205.6 617.5,1206.0 624.4,1206.1 630.5,1206.0 635.9,1205.9 640.3,1205.7 643.7,1205.6" fill="none" stroke="#ef7a3c" stroke-width="2.2" stroke-linejoin="round" stroke-linecap="round"/>
<polyline points="20.0,1230.4 23.4,1230.2 28.1,1229.9 33.6,1229.5 39.5,1229.0 45.3,1228.5 50.4,1227.9 54.9,1227.2 59.2,1226.4 63.3,1225.5 67.3,1224.6 71.4,1223.9 75.5,1223.3 79.8,1222.8 84.1,1222.5 88.4,1222.3 92.7,1222.2 96.8,1222.1 100.7,1222.1 104.4,1222.2 108.0,1222.4 111.5,1222.7 114.8,1223.0 118.0,1223.2 121.0,1223.3 123.6,1223.3 125.8,1223.3 127.9,1223.3 130.1,1223.2 132.7,1222.8 136.0,1222.1 140.2,1220.9 145.1,1219.4 150.4,1217.6 155.8,1215.8 161.1,1214.1 166.0,1212.7 170.5,1211.6 174.9,1210.8 179.2,1210.1 183.3,1209.4 187.2,1208.7 191.0,1208.0 194.6,1207.2 197.9,1206.4 201.1,1205.5 204.2,1204.7 207.1,1203.9 210.0,1203.3 212.6,1202.8 214.8,1202.5 216.9,1202.2 219.2,1201.9 221.8,1201.5 225.0,1201.0 229.0,1200.3 233.8,1199.6 238.8,1198.7 244.0,1197.7 248.8,1196.5 253.0,1194.9 256.5,1192.8 259.6,1190.3 262.4,1187.5 265.1,1184.6 267.7,1181.9 270.5,1179.6 273.4,1177.5 276.3,1175.6 279.2,1173.8 282.2,1172.1 285.1,1170.7 288.0,1169.3 291.0,1168.2 294.0,1167.2 297.0,1166.3 300.0,1165.6 302.9,1165.1 305.7,1164.7 308.4,1164.5 311.0,1164.5 313.5,1164.6 316.0,1164.9 318.5,1165.2 321.0,1165.6 323.4,1166.1 325.7,1166.7 327.9,1167.5 330.3,1168.2 332.9,1168.8 336.0,1169.3 339.5,1169.6 343.4,1169.7 347.6,1169.7 351.9,1169.8 356.4,1169.9 361.0,1170.3 365.8,1170.8 371.0,1171.5 376.4,1172.3 381.6,1173.2 386.6,1174.0 391.0,1174.9 394.6,1175.8 397.4,1176.6 399.8,1177.5 402.5,1178.4 405.7,1179.4 410.0,1180.5 415.4,1181.6 421.5,1182.8 428.2,1184.1 435.4,1185.4 442.8,1186.8 450.4,1188.3 458.3,1189.9 466.8,1191.8 475.6,1193.7 484.3,1195.5 492.8,1197.2 500.7,1198.6 508.1,1199.7 515.1,1200.6 521.8,1201.4 528.3,1202.0 534.7,1202.6 541.0,1203.3 547.2,1204.0 553.1,1204.7 558.9,1205.4 564.6,1206.1 570.3,1206.6 576.0,1207.1 581.7,1207.4 587.4,1207.7 593.1,1207.8 598.7,1208.0 604.4,1208.0 610.0,1208.0 616.0,1208.0 622.5,1207.8 629.0,1207.6 635.0,1207.4 640.0,1207.2 643.7,1207.1" fill="none" stroke="#f2c21b" stroke-width="2.2" stroke-linejoin="round" stroke-linecap="round"/>
<g id="p0">
<path d="M28.5,1293.4V1405.4 M40.3,1293.4V1405.4 M52.2,1293.4V1405.4 M64.0,1293.4V1405.4 M75.8,1293.4V1405.4 M87.7,1293.4V1405.4 M99.5,1293.4V1405.4 M111.3,1293.4V1405.4 M123.1,1293.4V1405.4 M135.0,1293.4V1405.4 M146.8,1293.4V1405.4 M158.6,1293.4V1405.4 M170.5,1293.4V1405.4 M182.3,1293.4V1405.4 M194.1,1293.4V1405.4 M205.9,1293.4V1405.4 M217.8,1293.4V1405.4 M229.6,1293.4V1405.4 M241.4,1293.4V1405.4 M253.3,1293.4V1405.4 M265.1,1293.4V1405.4 M276.9,1293.4V1405.4 M288.8,1293.4V1405.4 M300.6,1293.4V1405.4 M312.4,1293.4V1405.4 M324.2,1293.4V1405.4 M336.1,1293.4V1405.4 M347.9,1293.4V1405.4 M359.7,1293.4V1405.4 M371.6,1293.4V1405.4 M383.4,1293.4V1405.4 M395.2,1293.4V1405.4 M407.1,1293.4V1405.4 M418.9,1293.4V1405.4 M430.7,1293.4V1405.4 M442.6,1293.4V1405.4 M454.4,1293.4V1405.4 M466.2,1293.4V1405.4 M478.0,1293.4V1405.4 M489.9,1293.4V1405.4 M501.7,1293.4V1405.4 M513.5,1293.4V1405.4 M525.4,1293.4V1405.4 M537.2,1293.4V1405.4 M549.0,1293.4V1405.4 M560.9,1293.4V1405.4 M572.7,1293.4V1405.4 M584.5,1293.4V1405.4 M596.3,1293.4V1405.4 M608.2,1293.4V1405.4 M620.0,1293.4V1405.4 M631.8,1293.4V1405.4 M643.7,1293.4V1405.4 M655.5,1293.4V1405.4 M667.3,1293.4V1405.4 M679.1,1293.4V1405.4 M691.0,1293.4V1405.4 M702.8,1293.4V1405.4 M714.6,1293.4V1405.4 M726.5,1293.4V1405.4" stroke="#e2e2e6" stroke-width="1" stroke-dasharray="2.5,3.5" fill="none"/>
<line x1="20" y1="1292.4" x2="730" y2="1292.4" stroke="#ececef" stroke-width="1" stroke-dasharray="3,2"/>
<line x1="20" y1="1405.4" x2="730" y2="1405.4" stroke="#ececef" stroke-width="1" stroke-dasharray="3,2"/>
<circle cx="642.2" cy="1274.5" r="13.3" fill="#e3e3e6"/>
<path d="M635.8,1267.7 L648.6,1267.7 M642.2,1283.0 L642.2,1271.5 M637.5,1276.3 L642.2,1271.5 L646.9,1276.3" stroke="#fff" stroke-width="2.1" fill="none"/>
<circle cx="705" cy="1274.5" r="13.3" fill="#e3e3e6"/>
<path d="M699.3,1268.8 L710.7,1280.2 M710.7,1268.8 L699.3,1280.2" stroke="#fff" stroke-width="2.1"/>
<text x="20.0" y="1287.4" font-size="21.5" fill="#2d2d38" textLength="144.7" lengthAdjust="spacingAndGlyphs">MACD(12,26,9)</text>
<text x="178.0" y="1287.4" font-size="21.5" fill="#f2c21b" textLength="97.0" lengthAdjust="spacingAndGlyphs">DIF:-0.100</text>
<text x="288.3" y="1287.4" font-size="21.5" fill="#ef7a3c" textLength="105.5" lengthAdjust="spacingAndGlyphs">DEA:-0.102</text>
<text x="407.1" y="1287.4" font-size="21.5" fill="#b0389e" textLength="120.2" lengthAdjust="spacingAndGlyphs">MACD:0.004</text>
<rect x="36.8" y="1346.0" width="7" height="2.0" fill="#2bb67d"/>
<rect x="48.7" y="1344.5" width="7" height="3.5" fill="#2bb67d"/>
<rect x="60.5" y="1341.5" width="7" height="6.5" fill="#2bb67d"/>
<rect x="72.3" y="1338.4" width="7" height="9.6" fill="#2bb67d"/>
<rect x="84.2" y="1339.0" width="7" height="9.0" fill="#2bb67d"/>
<rect x="96.0" y="1340.0" width="7" height="8.0" fill="#2bb67d"/>
<rect x="107.8" y="1343.5" width="7" height="4.5" fill="#2bb67d"/>
<rect x="119.6" y="1345.0" width="7" height="3.0" fill="#2bb67d"/>
<rect x="131.5" y="1343.0" width="7" height="5.0" fill="#2bb67d"/>
<rect x="143.3" y="1339.5" width="7" height="8.5" fill="#2bb67d"/>
<rect x="155.1" y="1337.0" width="7" height="11.0" fill="#2bb67d"/>
<rect x="167.0" y="1333.4" width="7" height="14.6" fill="#2bb67d"/>
<rect x="178.8" y="1331.4" width="7" height="16.6" fill="#2bb67d"/>
<rect x="190.6" y="1331.4" width="7" height="16.6" fill="#2bb67d"/>
<rect x="202.4" y="1330.0" width="7" height="18.0" fill="#2bb67d"/>
<rect x="214.3" y="1329.4" width="7" height="18.6" fill="#2bb67d"/>
<rect x="226.1" y="1329.4" width="7" height="18.6" fill="#2bb67d"/>
<rect x="237.9" y="1329.4" width="7" height="18.6" fill="#2bb67d"/>
<rect x="249.8" y="1328.0" width="7" height="20.0" fill="#2bb67d"/>
<rect x="261.6" y="1310.2" width="7" height="37.8" fill="#2bb67d"/>
<rect x="273.4" y="1303.0" width="7" height="45.0" fill="#2bb67d"/>
<rect x="285.3" y="1303.0" width="7" height="45.0" fill="#2bb67d"/>
<rect x="297.1" y="1308.0" width="7" height="40.0" fill="#2bb67d"/>
<rect x="308.9" y="1315.3" width="7" height="32.7" fill="#2bb67d"/>
<rect x="320.8" y="1325.3" width="7" height="22.7" fill="#2bb67d"/>
<rect x="332.6" y="1334.4" width="7" height="13.6" fill="#2bb67d"/>
<rect x="344.4" y="1335.4" width="7" height="12.6" fill="#2bb67d"/>
<rect x="356.2" y="1342.0" width="7" height="6.0" fill="#2bb67d"/>
<rect x="368.1" y="1346.5" width="7" height="1.5" fill="#7fd0c0"/>
<rect x="379.9" y="1348.0" width="7" height="5.0" fill="#ea5451"/>
<rect x="391.7" y="1348.0" width="7" height="7.5" fill="#ea5451"/>
<rect x="403.6" y="1348.0" width="7" height="11.3" fill="#ea5451"/>
<rect x="415.4" y="1348.0" width="7" height="12.6" fill="#ea5451"/>
<rect x="427.2" y="1348.0" width="7" height="13.6" fill="#ea5451"/>
<rect x="439.1" y="1348.0" width="7" height="13.6" fill="#ea5451"/>
<rect x="450.9" y="1348.0" width="7" height="15.0" fill="#ea5451"/>
<rect x="462.7" y="1348.0" width="7" height="16.0" fill="#ea5451"/>
<rect x="474.5" y="1348.0" width="7" height="16.0" fill="#ea5451"/>
<rect x="486.4" y="1348.0" width="7" height="16.0" fill="#ea5451"/>
<rect x="498.2" y="1348.0" width="7" height="16.0" fill="#ea5451"/>
<rect x="510.0" y="1348.0" width="7" height="16.0" fill="#ea5451"/>
<rect x="521.9" y="1348.0" width="7" height="16.0" fill="#ea5451"/>
<rect x="533.7" y="1348.0" width="7" height="16.0" fill="#ea5451"/>
<rect x="545.5" y="1348.0" width="7" height="15.0" fill="#ea5451"/>
<rect x="557.4" y="1348.0" width="7" height="12.6" fill="#ea5451"/>
<rect x="569.2" y="1348.0" width="7" height="10.0" fill="#ea5451"/>
<rect x="581.0" y="1348.0" width="7" height="9.0" fill="#ea5451"/>
<rect x="592.8" y="1348.0" width="7" height="7.5" fill="#ea5451"/>
<rect x="604.7" y="1348.0" width="7" height="6.5" fill="#ea5451"/>
<rect x="616.5" y="1348.0" width="7" height="4.5" fill="#ea5451"/>
<rect x="628.3" y="1348.0" width="7" height="1.5" fill="#ea5451"/>
<rect x="640.2" y="1346.5" width="7" height="1.5" fill="#7fd0c0"/>
<polyline points="20.0,1394.7 23.1,1394.7 27.1,1394.6 32.1,1394.6 37.7,1394.5 43.8,1394.3 50.4,1394.0 57.8,1393.6 66.2,1393.1 75.2,1392.5 84.3,1391.9 93.0,1391.2 100.7,1390.7 107.5,1390.2 113.6,1389.8 119.3,1389.5 124.8,1389.0 130.3,1388.6 136.0,1388.0 141.8,1387.3 147.5,1386.6 153.3,1385.8 159.0,1384.9 164.9,1384.0 171.0,1383.0 177.5,1381.9 184.4,1380.6 191.4,1379.2 198.3,1377.9 204.6,1376.7 210.0,1375.6 214.3,1374.8 217.7,1374.2 220.6,1373.7 223.3,1373.1 226.3,1372.5 230.0,1371.6 234.5,1370.5 239.6,1369.3 245.0,1367.9 250.3,1366.4 255.4,1364.8 260.0,1363.0 264.0,1361.0 267.6,1358.6 270.9,1356.2 274.1,1353.7 277.3,1351.4 280.6,1349.4 283.9,1347.7 287.1,1346.2 290.4,1344.9 293.6,1343.7 297.1,1342.5 300.7,1341.4 304.6,1340.3 308.8,1339.3 313.0,1338.3 317.4,1337.5 321.7,1336.7 326.0,1336.0 330.2,1335.4 334.4,1335.0 338.5,1334.6 342.7,1334.3 346.8,1334.1 351.0,1334.0 355.1,1334.0 359.0,1334.0 362.9,1334.2 367.0,1334.4 371.3,1334.7 376.0,1335.0 381.1,1335.4 386.4,1335.8 392.0,1336.2 397.9,1336.8 403.9,1337.4 410.0,1338.0 416.2,1338.7 422.6,1339.4 429.2,1340.2 436.0,1341.0 443.0,1341.9 450.4,1343.0 458.2,1344.2 466.4,1345.5 474.9,1346.9 483.6,1348.4 492.2,1349.9 500.7,1351.4 509.0,1352.9 517.1,1354.4 525.3,1356.0 533.6,1357.6 542.1,1359.1 551.0,1360.5 560.6,1361.9 571.0,1363.4 581.5,1364.8 591.9,1366.1 601.5,1367.2 610.0,1368.0 617.5,1368.4 624.4,1368.6 630.5,1368.5 635.9,1368.3 640.3,1368.1 643.7,1368.0" fill="none" stroke="#ef7a3c" stroke-width="2.2" stroke-linejoin="round" stroke-linecap="round"/>
<polyline points="20.0,1394.7 23.4,1394.4 28.1,1394.1 33.6,1393.7 39.5,1393.2 45.3,1392.6 50.4,1392.0 54.9,1391.3 59.2,1390.4 63.3,1389.4 67.3,1388.5 71.4,1387.6 75.5,1387.0 79.8,1386.5 84.1,1386.2 88.4,1386.0 92.7,1385.8 96.8,1385.7 100.7,1385.7 104.4,1385.8 108.0,1386.0 111.5,1386.3 114.8,1386.7 118.0,1386.9 121.0,1387.0 123.6,1387.0 125.8,1387.1 127.9,1387.1 130.1,1386.9 132.7,1386.5 136.0,1385.7 140.2,1384.5 145.1,1382.8 150.4,1380.9 155.8,1378.9 161.1,1377.1 166.0,1375.6 170.5,1374.5 174.9,1373.6 179.2,1372.8 183.3,1372.1 187.2,1371.4 191.0,1370.6 194.6,1369.7 197.9,1368.8 201.1,1367.9 204.2,1367.0 207.1,1366.2 210.0,1365.5 212.6,1365.0 214.8,1364.6 216.9,1364.3 219.2,1364.0 221.8,1363.6 225.0,1363.0 229.0,1362.3 233.8,1361.5 238.8,1360.6 244.0,1359.6 248.8,1358.2 253.0,1356.5 256.5,1354.3 259.6,1351.5 262.4,1348.5 265.1,1345.5 267.7,1342.5 270.5,1340.0 273.4,1337.8 276.3,1335.7 279.2,1333.8 282.2,1332.0 285.1,1330.4 288.0,1329.0 291.0,1327.8 294.0,1326.7 297.0,1325.8 300.0,1325.0 302.9,1324.4 305.7,1324.0 308.4,1323.8 311.0,1323.8 313.5,1323.9 316.0,1324.2 318.5,1324.6 321.0,1325.0 323.4,1325.5 325.7,1326.2 327.9,1327.0 330.3,1327.8 332.9,1328.5 336.0,1329.0 339.5,1329.3 343.4,1329.4 347.6,1329.4 351.9,1329.5 356.4,1329.6 361.0,1330.0 365.8,1330.6 371.0,1331.3 376.4,1332.2 381.6,1333.1 386.6,1334.1 391.0,1335.0 394.6,1335.9 397.4,1336.8 399.8,1337.8 402.5,1338.8 405.7,1339.8 410.0,1341.0 415.4,1342.2 421.5,1343.5 428.2,1344.9 435.4,1346.3 442.8,1347.8 450.4,1349.4 458.3,1351.2 466.8,1353.1 475.6,1355.2 484.3,1357.2 492.8,1359.0 500.7,1360.5 508.1,1361.7 515.1,1362.7 521.8,1363.4 528.3,1364.1 534.7,1364.8 541.0,1365.5 547.2,1366.3 553.1,1367.0 558.9,1367.8 564.6,1368.5 570.3,1369.1 576.0,1369.6 581.7,1370.0 587.4,1370.2 593.1,1370.4 598.7,1370.5 604.4,1370.6 610.0,1370.6 616.0,1370.5 622.5,1370.4 629.0,1370.2 635.0,1369.9 640.0,1369.7 643.7,1369.6" fill="none" stroke="#f2c21b" stroke-width="2.2" stroke-linejoin="round" stroke-linecap="round"/>
</g>
<g id="p1">
<path d="M28.5,1449.3V1561.3 M40.3,1449.3V1561.3 M52.2,1449.3V1561.3 M64.0,1449.3V1561.3 M75.8,1449.3V1561.3 M87.7,1449.3V1561.3 M99.5,1449.3V1561.3 M111.3,1449.3V1561.3 M123.1,1449.3V1561.3 M135.0,1449.3V1561.3 M146.8,1449.3V1561.3 M158.6,1449.3V1561.3 M170.5,1449.3V1561.3 M182.3,1449.3V1561.3 M194.1,1449.3V1561.3 M205.9,1449.3V1561.3 M217.8,1449.3V1561.3 M229.6,1449.3V1561.3 M241.4,1449.3V1561.3 M253.3,1449.3V1561.3 M265.1,1449.3V1561.3 M276.9,1449.3V1561.3 M288.8,1449.3V1561.3 M300.6,1449.3V1561.3 M312.4,1449.3V1561.3 M324.2,1449.3V1561.3 M336.1,1449.3V1561.3 M347.9,1449.3V1561.3 M359.7,1449.3V1561.3 M371.6,1449.3V1561.3 M383.4,1449.3V1561.3 M395.2,1449.3V1561.3 M407.1,1449.3V1561.3 M418.9,1449.3V1561.3 M430.7,1449.3V1561.3 M442.6,1449.3V1561.3 M454.4,1449.3V1561.3 M466.2,1449.3V1561.3 M478.0,1449.3V1561.3 M489.9,1449.3V1561.3 M501.7,1449.3V1561.3 M513.5,1449.3V1561.3 M525.4,1449.3V1561.3 M537.2,1449.3V1561.3 M549.0,1449.3V1561.3 M560.9,1449.3V1561.3 M572.7,1449.3V1561.3 M584.5,1449.3V1561.3 M596.3,1449.3V1561.3 M608.2,1449.3V1561.3 M620.0,1449.3V1561.3 M631.8,1449.3V1561.3 M643.7,1449.3V1561.3 M655.5,1449.3V1561.3 M667.3,1449.3V1561.3 M679.1,1449.3V1561.3 M691.0,1449.3V1561.3 M702.8,1449.3V1561.3 M714.6,1449.3V1561.3 M726.5,1449.3V1561.3" stroke="#e2e2e6" stroke-width="1" stroke-dasharray="2.5,3.5" fill="none"/>
<line x1="20" y1="1448.3" x2="730" y2="1448.3" stroke="#ececef" stroke-width="1" stroke-dasharray="3,2"/>
<line x1="20" y1="1561.3" x2="730" y2="1561.3" stroke="#ececef" stroke-width="1" stroke-dasharray="3,2"/>
<line x1="20" y1="1478.5" x2="644" y2="1478.5" stroke="#c8c8cc" stroke-width="1" stroke-dasharray="7,6"/>
<line x1="20" y1="1500.7" x2="644" y2="1500.7" stroke="#c8c8cc" stroke-width="1" stroke-dasharray="7,6"/>
<line x1="20" y1="1524.0" x2="644" y2="1524.0" stroke="#c8c8cc" stroke-width="1" stroke-dasharray="7,6"/>
<circle cx="642.2" cy="1430.4" r="13.3" fill="#e3e3e6"/>
<path d="M635.8,1423.6 L648.6,1423.6 M642.2,1438.9 L642.2,1427.4 M637.5,1432.2 L642.2,1427.4 L646.9,1432.2" stroke="#fff" stroke-width="2.1" fill="none"/>
<circle cx="705" cy="1430.4" r="13.3" fill="#e3e3e6"/>
<path d="M699.3,1424.7 L710.7,1436.1 M710.7,1424.7 L699.3,1436.1" stroke="#fff" stroke-width="2.1"/>
<text x="20.0" y="1443.3" font-size="21.5" fill="#2d2d38" textLength="99.0" lengthAdjust="spacingAndGlyphs">KDJ(9,3,3)</text>
<text x="132.3" y="1443.3" font-size="21.5" fill="#4a7fdc" textLength="84.8" lengthAdjust="spacingAndGlyphs">K:48.805</text>
<text x="230.4" y="1443.3" font-size="21.5" fill="#ef7a3c" textLength="85.4" lengthAdjust="spacingAndGlyphs">D:34.318</text>
<text x="329.1" y="1443.3" font-size="21.5" fill="#f2c21b" textLength="83.2" lengthAdjust="spacingAndGlyphs">J:77.780</text>
<polyline points="20.0,1513.6 21.6,1513.9 23.9,1514.3 26.5,1514.9 29.5,1515.4 32.5,1515.8 35.6,1516.0 38.7,1516.0 42.0,1516.0 45.5,1515.8 49.0,1515.6 52.5,1515.3 56.0,1515.0 59.4,1514.6 62.8,1514.2 66.3,1513.7 69.8,1513.2 73.3,1512.8 76.9,1512.6 80.6,1512.5 84.4,1512.5 88.3,1512.5 92.2,1512.7 96.1,1513.1 100.0,1513.6 103.9,1514.4 107.9,1515.5 112.0,1516.8 115.9,1518.1 119.6,1519.2 123.0,1520.0 126.0,1520.6 128.6,1521.0 131.0,1521.4 133.4,1521.5 135.9,1521.4 138.7,1521.0 141.8,1520.3 145.1,1519.3 148.5,1518.1 152.0,1516.7 155.5,1515.2 159.0,1513.6 162.5,1511.8 166.0,1509.8 169.5,1507.7 173.0,1505.6 176.5,1503.6 180.0,1501.7 183.5,1500.1 186.9,1498.5 190.3,1497.1 193.8,1495.7 197.2,1494.4 200.6,1493.0 204.1,1491.6 207.8,1490.1 211.5,1488.7 215.1,1487.3 218.3,1486.1 221.0,1485.0 223.1,1484.1 224.8,1483.5 226.1,1482.9 227.3,1482.4 228.5,1482.0 230.0,1481.6 231.6,1481.2 233.2,1480.9 234.8,1480.7 236.6,1480.5 238.4,1480.2 240.5,1480.0 242.7,1479.8 245.1,1479.6 247.6,1479.4 250.3,1479.1 253.1,1478.9 256.0,1478.5 259.2,1478.0 262.6,1477.3 266.2,1476.5 269.9,1475.8 273.3,1475.3 276.5,1475.0 279.4,1475.0 282.0,1475.2 284.6,1475.6 287.0,1476.1 289.5,1476.8 292.0,1477.5 294.5,1478.3 297.0,1479.3 299.4,1480.3 302.0,1481.5 304.6,1482.7 307.5,1484.0 310.6,1485.4 314.0,1486.9 317.4,1488.4 321.0,1490.0 324.5,1491.5 328.0,1493.0 331.4,1494.3 334.9,1495.6 338.4,1496.8 341.8,1498.0 345.3,1499.3 348.7,1500.7 352.1,1502.3 355.5,1504.0 358.8,1505.8 362.2,1507.6 365.6,1509.3 369.0,1511.0 372.5,1512.6 376.0,1514.3 379.5,1515.9 383.0,1517.4 386.5,1518.8 390.0,1520.0 393.4,1521.0 396.6,1521.8 399.8,1522.4 403.1,1523.0 406.7,1523.5 410.6,1524.0 415.0,1524.5 419.8,1525.0 424.9,1525.4 430.1,1525.8 435.1,1526.2 440.0,1526.5 444.7,1526.9 449.4,1527.2 454.0,1527.6 458.5,1527.8 462.8,1528.0 467.0,1528.0 470.9,1527.8 474.6,1527.4 478.2,1526.9 481.7,1526.4 485.3,1525.9 489.0,1525.5 492.9,1525.2 497.0,1524.8 501.1,1524.5 505.2,1524.2 509.4,1524.1 513.4,1524.0 517.4,1524.1 521.3,1524.4 525.2,1524.8 529.1,1525.1 533.0,1525.4 537.0,1525.5 541.0,1525.4 545.1,1525.1 549.1,1524.8 553.2,1524.4 557.2,1524.1 561.3,1524.0 565.3,1524.1 569.4,1524.4 573.4,1524.7 577.5,1525.0 581.5,1525.3 585.5,1525.5 589.6,1525.5 593.8,1525.5 598.0,1525.5 602.1,1525.4 605.8,1525.2 609.0,1525.0 611.6,1524.8 613.7,1524.5 615.5,1524.2 617.2,1523.9 618.8,1523.5 620.6,1523.0 622.6,1522.4 624.5,1521.8 626.5,1521.1 628.5,1520.4 630.5,1519.5 632.4,1518.7 634.5,1517.7 636.7,1516.6 638.8,1515.4 640.9,1514.2 642.6,1513.3 643.8,1512.6" fill="none" stroke="#ef7a3c" stroke-width="2.2" stroke-linejoin="round" stroke-linecap="round"/>
<polyline points="20.0,1517.7 30.5,1519.8 46.0,1516.0 64.0,1513.6 76.9,1509.5 89.7,1512.6 102.6,1521.0 123.0,1526.5 136.0,1521.0 148.0,1511.0 159.0,1507.0 169.6,1500.7 182.5,1489.0 194.0,1485.0 205.7,1481.0 218.6,1477.0 230.0,1475.0 240.5,1476.0 253.0,1476.0 266.0,1471.0 276.5,1471.0 286.9,1476.0 299.7,1485.0 312.6,1495.5 325.5,1503.0 335.8,1507.0 348.7,1508.4 360.0,1516.0 372.0,1524.0 383.8,1527.5 400.0,1527.5 421.0,1526.5 440.0,1525.5 450.5,1530.6 467.0,1532.7 477.3,1525.5 489.0,1522.9 501.0,1521.3 513.4,1525.5 525.0,1522.4 537.0,1526.5 561.3,1525.5 573.0,1522.4 585.5,1526.5 597.4,1527.5 609.0,1524.0 620.6,1520.3 632.4,1509.5 643.8,1502.0" fill="none" stroke="#4a7fdc" stroke-width="2.2" stroke-linejoin="round" stroke-linecap="round"/>
<polyline points="20.0,1525.0 27.9,1527.5 40.8,1520.0 51.0,1516.0 64.0,1509.5 76.9,1501.7 89.7,1512.0 100.0,1518.7 110.4,1534.0 123.0,1539.0 136.0,1522.0 148.0,1498.0 159.0,1494.0 169.6,1475.0 182.5,1463.0 194.0,1463.0 205.7,1459.5 218.6,1458.0 230.0,1460.5 240.5,1467.0 253.0,1470.0 266.0,1462.0 276.5,1463.6 286.9,1476.0 299.7,1493.0 312.6,1508.4 325.5,1521.0 335.8,1526.5 348.7,1524.0 360.0,1536.8 372.0,1548.6 383.8,1551.0 395.0,1544.5 408.0,1539.0 419.8,1531.6 431.0,1529.0 440.0,1532.7 445.3,1535.8 455.6,1538.3 467.0,1539.4 477.3,1521.3 489.0,1516.0 501.0,1515.0 513.4,1526.5 525.0,1519.8 537.0,1530.6 549.4,1529.0 561.3,1524.0 573.0,1517.7 585.5,1530.6 597.4,1532.7 609.0,1517.7 620.6,1512.6 632.4,1489.4 643.8,1480.0" fill="none" stroke="#f2c21b" stroke-width="2.2" stroke-linejoin="round" stroke-linecap="round"/>
</g>
<g id="p2">
<path d="M28.5,1605.2V1717.2 M40.3,1605.2V1717.2 M52.2,1605.2V1717.2 M64.0,1605.2V1717.2 M75.8,1605.2V1717.2 M87.7,1605.2V1717.2 M99.5,1605.2V1717.2 M111.3,1605.2V1717.2 M123.1,1605.2V1717.2 M135.0,1605.2V1717.2 M146.8,1605.2V1717.2 M158.6,1605.2V1717.2 M170.5,1605.2V1717.2 M182.3,1605.2V1717.2 M194.1,1605.2V1717.2 M205.9,1605.2V1717.2 M217.8,1605.2V1717.2 M229.6,1605.2V1717.2 M241.4,1605.2V1717.2 M253.3,1605.2V1717.2 M265.1,1605.2V1717.2 M276.9,1605.2V1717.2 M288.8,1605.2V1717.2 M300.6,1605.2V1717.2 M312.4,1605.2V1717.2 M324.2,1605.2V1717.2 M336.1,1605.2V1717.2 M347.9,1605.2V1717.2 M359.7,1605.2V1717.2 M371.6,1605.2V1717.2 M383.4,1605.2V1717.2 M395.2,1605.2V1717.2 M407.1,1605.2V1717.2 M418.9,1605.2V1717.2 M430.7,1605.2V1717.2 M442.6,1605.2V1717.2 M454.4,1605.2V1717.2 M466.2,1605.2V1717.2 M478.0,1605.2V1717.2 M489.9,1605.2V1717.2 M501.7,1605.2V1717.2 M513.5,1605.2V1717.2 M525.4,1605.2V1717.2 M537.2,1605.2V1717.2 M549.0,1605.2V1717.2 M560.9,1605.2V1717.2 M572.7,1605.2V1717.2 M584.5,1605.2V1717.2 M596.3,1605.2V1717.2 M608.2,1605.2V1717.2 M620.0,1605.2V1717.2 M631.8,1605.2V1717.2 M643.7,1605.2V1717.2 M655.5,1605.2V1717.2 M667.3,1605.2V1717.2 M679.1,1605.2V1717.2 M691.0,1605.2V1717.2 M702.8,1605.2V1717.2 M714.6,1605.2V1717.2 M726.5,1605.2V1717.2" stroke="#e2e2e6" stroke-width="1" stroke-dasharray="2.5,3.5" fill="none"/>
<line x1="20" y1="1604.2" x2="730" y2="1604.2" stroke="#ececef" stroke-width="1" stroke-dasharray="3,2"/>
<line x1="20" y1="1717.2" x2="730" y2="1717.2" stroke="#ececef" stroke-width="1" stroke-dasharray="3,2"/>
<line x1="20" y1="1629.9" x2="644" y2="1629.9" stroke="#c8c8cc" stroke-width="1" stroke-dasharray="7,6"/>
<line x1="20" y1="1662.9" x2="644" y2="1662.9" stroke="#c8c8cc" stroke-width="1" stroke-dasharray="7,6"/>
<line x1="20" y1="1695.4" x2="644" y2="1695.4" stroke="#c8c8cc" stroke-width="1" stroke-dasharray="7,6"/>
<circle cx="642.2" cy="1586.3" r="13.3" fill="#e3e3e6"/>
<path d="M635.8,1579.5 L648.6,1579.5 M642.2,1594.8 L642.2,1583.3 M637.5,1588.1 L642.2,1583.3 L646.9,1588.1" stroke="#fff" stroke-width="2.1" fill="none"/>
<circle cx="705" cy="1586.3" r="13.3" fill="#e3e3e6"/>
<path d="M699.3,1580.6 L710.7,1592.0 M710.7,1580.6 L699.3,1592.0" stroke="#fff" stroke-width="2.1"/>
<text x="20.0" y="1599.2" font-size="21.5" fill="#2d2d38" textLength="115.6" lengthAdjust="spacingAndGlyphs">RSI(6,12,24)</text>
<text x="148.9" y="1599.2" font-size="21.5" fill="#f2c21b" textLength="115.2" lengthAdjust="spacingAndGlyphs">RSI6:48.749</text>
<text x="277.4" y="1599.2" font-size="21.5" fill="#8f6fd8" textLength="127.3" lengthAdjust="spacingAndGlyphs">RSI12:41.919</text>
<text x="418.0" y="1599.2" font-size="21.5" fill="#2a9f93" textLength="127.3" lengthAdjust="spacingAndGlyphs">RSI24:42.439</text>
<polyline points="20.0,1683.5 39.7,1681.0 76.9,1677.3 89.7,1680.0 112.0,1683.5 123.0,1683.5 136.0,1680.0 148.0,1675.8 159.0,1676.3 171.0,1672.0 194.0,1673.2 217.6,1670.0 230.0,1669.6 241.5,1669.6 253.4,1667.0 265.2,1647.4 276.5,1650.5 287.9,1651.5 299.7,1655.7 324.0,1660.8 347.7,1659.3 372.0,1663.0 383.8,1665.5 419.8,1665.5 440.0,1667.0 458.2,1669.6 482.4,1670.6 501.0,1672.0 513.4,1676.3 525.2,1672.0 537.0,1674.7 573.0,1673.2 597.4,1675.8 609.2,1673.7 620.6,1673.7 632.4,1670.6 643.8,1670.6" fill="none" stroke="#2a9f93" stroke-width="2.2" stroke-linejoin="round" stroke-linecap="round"/>
<polyline points="20.0,1687.6 39.7,1681.0 65.5,1678.4 76.9,1675.8 89.7,1680.0 112.0,1686.6 123.0,1686.6 136.0,1677.0 148.0,1668.6 159.0,1671.0 171.0,1664.4 194.0,1667.0 205.7,1664.4 217.6,1660.3 230.0,1660.8 241.5,1660.8 253.4,1654.0 265.2,1629.4 276.5,1636.0 287.9,1639.7 299.7,1648.0 311.6,1654.0 324.0,1660.3 335.8,1661.9 347.7,1655.0 360.0,1660.8 372.0,1663.0 383.8,1667.0 395.0,1666.0 419.8,1667.0 440.0,1668.0 458.2,1674.7 482.4,1677.3 501.0,1680.0 513.4,1686.6 525.2,1677.3 537.0,1682.5 549.4,1680.0 573.0,1678.4 585.5,1681.4 597.4,1682.5 609.2,1677.3 620.6,1678.4 632.4,1671.0 643.8,1671.0" fill="none" stroke="#8f6fd8" stroke-width="2.2" stroke-linejoin="round" stroke-linecap="round"/>
<polyline points="20.0,1690.0 27.9,1685.0 39.7,1677.0 52.0,1675.8 65.5,1668.6 76.9,1665.5 89.7,1680.0 100.0,1682.5 112.0,1692.8 123.0,1692.8 136.0,1672.0 148.0,1655.0 159.0,1663.0 171.0,1650.5 182.5,1653.0 194.0,1657.7 205.7,1651.5 217.6,1644.8 230.0,1645.4 241.5,1647.4 253.4,1636.0 265.2,1614.0 276.5,1625.8 287.9,1632.0 299.7,1646.4 311.6,1653.0 324.0,1666.0 335.8,1667.0 347.7,1655.7 360.0,1666.0 372.0,1670.6 383.8,1680.0 395.0,1675.8 408.0,1678.4 419.8,1677.3 431.0,1678.4 440.0,1681.4 446.3,1687.6 458.2,1691.8 470.0,1692.8 482.4,1695.4 494.3,1697.0 501.0,1698.0 513.4,1707.2 525.2,1682.5 537.0,1691.8 549.4,1682.5 561.3,1681.0 573.0,1680.0 585.5,1687.6 597.4,1691.8 609.2,1676.3 620.6,1677.3 632.4,1661.9 643.8,1663.4" fill="none" stroke="#f2c21b" stroke-width="2.2" stroke-linejoin="round" stroke-linecap="round"/>
</g>
<g id="p3">
<path d="M28.5,1761.1V1873.1 M40.3,1761.1V1873.1 M52.2,1761.1V1873.1 M64.0,1761.1V1873.1 M75.8,1761.1V1873.1 M87.7,1761.1V1873.1 M99.5,1761.1V1873.1 M111.3,1761.1V1873.1 M123.1,1761.1V1873.1 M135.0,1761.1V1873.1 M146.8,1761.1V1873.1 M158.6,1761.1V1873.1 M170.5,1761.1V1873.1 M182.3,1761.1V1873.1 M194.1,1761.1V1873.1 M205.9,1761.1V1873.1 M217.8,1761.1V1873.1 M229.6,1761.1V1873.1 M241.4,1761.1V1873.1 M253.3,1761.1V1873.1 M265.1,1761.1V1873.1 M276.9,1761.1V1873.1 M288.8,1761.1V1873.1 M300.6,1761.1V1873.1 M312.4,1761.1V1873.1 M324.2,1761.1V1873.1 M336.1,1761.1V1873.1 M347.9,1761.1V1873.1 M359.7,1761.1V1873.1 M371.6,1761.1V1873.1 M383.4,1761.1V1873.1 M395.2,1761.1V1873.1 M407.1,1761.1V1873.1 M418.9,1761.1V1873.1 M430.7,1761.1V1873.1 M442.6,1761.1V1873.1 M454.4,1761.1V1873.1 M466.2,1761.1V1873.1 M478.0,1761.1V1873.1 M489.9,1761.1V1873.1 M501.7,1761.1V1873.1 M513.5,1761.1V1873.1 M525.4,1761.1V1873.1 M537.2,1761.1V1873.1 M549.0,1761.1V1873.1 M560.9,1761.1V1873.1 M572.7,1761.1V1873.1 M584.5,1761.1V1873.1 M596.3,1761.1V1873.1 M608.2,1761.1V1873.1 M620.0,1761.1V1873.1 M631.8,1761.1V1873.1 M643.7,1761.1V1873.1 M655.5,1761.1V1873.1 M667.3,1761.1V1873.1 M679.1,1761.1V1873.1 M691.0,1761.1V1873.1 M702.8,1761.1V1873.1 M714.6,1761.1V1873.1 M726.5,1761.1V1873.1" stroke="#e2e2e6" stroke-width="1" stroke-dasharray="2.5,3.5" fill="none"/>
<line x1="20" y1="1760.1" x2="730" y2="1760.1" stroke="#ececef" stroke-width="1" stroke-dasharray="3,2"/>
<line x1="20" y1="1873.1" x2="730" y2="1873.1" stroke="#ececef" stroke-width="1" stroke-dasharray="3,2"/>
<circle cx="642.2" cy="1742.2" r="13.3" fill="#e3e3e6"/>
<path d="M635.8,1735.4 L648.6,1735.4 M642.2,1750.7 L642.2,1739.2 M637.5,1744.0 L642.2,1739.2 L646.9,1744.0" stroke="#fff" stroke-width="2.1" fill="none"/>
<circle cx="705" cy="1742.2" r="13.3" fill="#e3e3e6"/>
<path d="M699.3,1736.5 L710.7,1747.9 M710.7,1736.5 L699.3,1747.9" stroke="#fff" stroke-width="2.1"/>
<text x="20.0" y="1755.1" font-size="21.5" fill="#2d2d38" textLength="87.6" lengthAdjust="spacingAndGlyphs">WR(10,6)</text>
<text x="120.9" y="1755.1" font-size="21.5" fill="#ef7a3c" textLength="115.7" lengthAdjust="spacingAndGlyphs">WR1:34.066</text>
<text x="249.9" y="1755.1" font-size="21.5" fill="#8b4a1c" textLength="115.7" lengthAdjust="spacingAndGlyphs">WR2:18.919</text>
<polyline points="19.0,1776.6 30.5,1789.5 41.8,1801.4 52.0,1802.4 64.0,1823.0 76.9,1844.7 87.0,1812.7 99.0,1786.0 112.0,1770.4 123.0,1773.0 136.0,1803.4 148.0,1844.7 159.0,1833.3 170.7,1860.6 182.5,1855.0 192.8,1844.7 206.8,1848.8 232.7,1844.7 243.0,1838.5 253.4,1847.8 265.2,1863.2 276.5,1850.3 289.4,1832.3 301.3,1818.9 312.6,1806.0 325.5,1772.5 335.8,1771.5 348.7,1787.0 360.0,1781.8 372.0,1770.4 383.8,1775.0 396.0,1787.0 408.0,1786.0 419.8,1789.5 440.0,1791.0 454.6,1772.5 466.0,1776.6 478.8,1805.0 490.7,1799.8 502.0,1794.7 513.4,1775.6 525.2,1811.7 537.0,1774.0 549.4,1791.0 561.3,1796.2 573.0,1810.0 585.5,1772.5 597.4,1781.8 609.2,1810.0 620.6,1799.8 632.4,1835.9 643.8,1844.7" fill="none" stroke="#8b4a1c" stroke-width="2.2" stroke-linejoin="round" stroke-linecap="round"/>
<polyline points="19.0,1776.6 30.5,1789.5 41.8,1801.4 52.0,1802.4 64.0,1810.0 76.9,1815.3 87.0,1794.7 99.0,1787.0 112.0,1770.4 123.0,1774.0 136.0,1799.8 148.0,1832.3 159.0,1816.8 170.7,1847.8 182.5,1841.0 192.8,1844.7 206.8,1854.0 218.6,1855.0 230.0,1855.0 241.5,1849.8 253.4,1851.4 265.2,1863.2 276.5,1852.9 289.4,1835.9 301.3,1823.0 312.6,1815.3 325.5,1799.8 335.8,1798.3 348.7,1807.5 360.0,1792.0 372.0,1770.0 383.8,1772.5 396.0,1777.6 408.0,1780.7 419.8,1781.8 431.0,1784.4 440.0,1778.0 444.3,1775.6 454.6,1770.4 466.0,1772.5 478.8,1792.0 490.7,1796.2 502.0,1792.0 513.4,1775.6 525.2,1796.2 537.0,1772.5 549.4,1781.8 561.3,1786.0 573.0,1793.0 585.5,1771.5 597.4,1777.6 609.2,1794.7 620.6,1794.7 632.4,1833.3 643.8,1831.8" fill="none" stroke="#ef7a3c" stroke-width="2.2" stroke-linejoin="round" stroke-linecap="round"/>
</g>
<g id="p4">
<path d="M28.5,1917.0V2029.0 M40.3,1917.0V2029.0 M52.2,1917.0V2029.0 M64.0,1917.0V2029.0 M75.8,1917.0V2029.0 M87.7,1917.0V2029.0 M99.5,1917.0V2029.0 M111.3,1917.0V2029.0 M123.1,1917.0V2029.0 M135.0,1917.0V2029.0 M146.8,1917.0V2029.0 M158.6,1917.0V2029.0 M170.5,1917.0V2029.0 M182.3,1917.0V2029.0 M194.1,1917.0V2029.0 M205.9,1917.0V2029.0 M217.8,1917.0V2029.0 M229.6,1917.0V2029.0 M241.4,1917.0V2029.0 M253.3,1917.0V2029.0 M265.1,1917.0V2029.0 M276.9,1917.0V2029.0 M288.8,1917.0V2029.0 M300.6,1917.0V2029.0 M312.4,1917.0V2029.0 M324.2,1917.0V2029.0 M336.1,1917.0V2029.0 M347.9,1917.0V2029.0 M359.7,1917.0V2029.0 M371.6,1917.0V2029.0 M383.4,1917.0V2029.0 M395.2,1917.0V2029.0 M407.1,1917.0V2029.0 M418.9,1917.0V2029.0 M430.7,1917.0V2029.0 M442.6,1917.0V2029.0 M454.4,1917.0V2029.0 M466.2,1917.0V2029.0 M478.0,1917.0V2029.0 M489.9,1917.0V2029.0 M501.7,1917.0V2029.0 M513.5,1917.0V2029.0 M525.4,1917.0V2029.0 M537.2,1917.0V2029.0 M549.0,1917.0V2029.0 M560.9,1917.0V2029.0 M572.7,1917.0V2029.0 M584.5,1917.0V2029.0 M596.3,1917.0V2029.0 M608.2,1917.0V2029.0 M620.0,1917.0V2029.0 M631.8,1917.0V2029.0 M643.7,1917.0V2029.0 M655.5,1917.0V2029.0 M667.3,1917.0V2029.0 M679.1,1917.0V2029.0 M691.0,1917.0V2029.0 M702.8,1917.0V2029.0 M714.6,1917.0V2029.0 M726.5,1917.0V2029.0" stroke="#e2e2e6" stroke-width="1" stroke-dasharray="2.5,3.5" fill="none"/>
<line x1="20" y1="1916.0" x2="730" y2="1916.0" stroke="#ececef" stroke-width="1" stroke-dasharray="3,2"/>
<line x1="20" y1="2029.0" x2="730" y2="2029.0" stroke="#ececef" stroke-width="1" stroke-dasharray="3,2"/>
<circle cx="642.2" cy="1898.1" r="13.3" fill="#e3e3e6"/>
<path d="M635.8,1891.3 L648.6,1891.3 M642.2,1906.6 L642.2,1895.1 M637.5,1899.9 L642.2,1895.1 L646.9,1899.9" stroke="#fff" stroke-width="2.1" fill="none"/>
<circle cx="705" cy="1898.1" r="13.3" fill="#e3e3e6"/>
<path d="M699.3,1892.4 L710.7,1903.8 M710.7,1892.4 L699.3,1903.8" stroke="#fff" stroke-width="2.1"/>
<text x="20.0" y="1911.0" font-size="21.5" fill="#2d2d38" textLength="92.9" lengthAdjust="spacingAndGlyphs">ARBR(26)</text>
<text x="126.2" y="1911.0" font-size="21.5" fill="#6cb83a" textLength="97.9" lengthAdjust="spacingAndGlyphs">BR:58.839</text>
<text x="237.5" y="1911.0" font-size="21.5" fill="#ef7a3c" textLength="98.6" lengthAdjust="spacingAndGlyphs">AR:91.504</text>
<polyline points="19.0,2011.5 40.8,2010.0 52.0,2012.5 64.0,2009.0 76.9,2010.0 89.7,2008.4 100.0,2006.3 112.0,2004.8 123.0,2007.4 136.0,2003.2 148.0,1998.6 159.0,1994.5 170.7,1992.0 182.5,1986.7 194.4,1988.3 205.7,1986.7 217.6,1983.0 230.0,1982.6 245.6,1978.0 253.4,1973.9 265.2,1954.8 276.5,1964.6 287.9,1980.6 301.3,1980.6 312.6,1984.2 325.5,1980.0 335.8,1974.9 347.7,1972.3 360.0,1971.3 372.0,1979.0 383.8,1980.0 395.0,1974.9 408.0,1973.9 419.8,1971.3 431.0,1969.7 440.0,1972.8 454.6,1980.6 467.0,1980.6 478.8,1978.0 490.7,1981.6 502.0,1979.0 515.0,1988.3 526.8,1985.2 538.0,1986.7 549.4,1985.7 561.3,1983.0 573.0,1997.0 585.5,1999.6 597.4,1990.4 609.2,1986.7 620.6,1980.0 632.4,1976.4 643.8,1981.6" fill="none" stroke="#ef7a3c" stroke-width="2.2" stroke-linejoin="round" stroke-linecap="round"/>
<polyline points="19.0,2011.0 29.4,2010.0 40.8,2007.4 52.0,2009.0 64.0,2003.2 76.9,2003.8 89.7,2004.8 100.0,2005.8 112.0,2004.8 123.0,2006.3 136.0,1999.6 148.0,1993.0 159.0,1986.7 170.7,1981.6 182.5,1977.5 194.4,1982.6 205.7,1985.7 217.6,1972.8 230.0,1976.4 241.5,1982.6 253.4,1966.0 265.2,1924.9 276.5,1952.2 287.9,1941.4 301.3,1962.0 313.7,1959.4 335.8,1957.4 347.7,1954.3 360.0,1963.5 372.0,1966.0 383.8,1974.9 395.0,1967.0 408.0,1967.7 419.8,1962.5 431.0,1963.5 440.0,1966.0 442.7,1968.7 454.6,1976.4 467.0,1976.4 478.8,1984.2 490.7,1984.2 502.0,1982.6 515.0,1989.3 526.8,1989.3 538.0,1990.4 549.4,1990.4 561.3,1993.0 573.0,2013.5 585.5,2011.0 597.4,2020.2 609.2,2011.5 620.6,2012.5 632.4,2004.8 643.8,2004.8" fill="none" stroke="#6cb83a" stroke-width="2.2" stroke-linejoin="round" stroke-linecap="round"/>
</g>
<g id="p5">
<path d="M28.5,2072.9V2184.9 M40.3,2072.9V2184.9 M52.2,2072.9V2184.9 M64.0,2072.9V2184.9 M75.8,2072.9V2184.9 M87.7,2072.9V2184.9 M99.5,2072.9V2184.9 M111.3,2072.9V2184.9 M123.1,2072.9V2184.9 M135.0,2072.9V2184.9 M146.8,2072.9V2184.9 M158.6,2072.9V2184.9 M170.5,2072.9V2184.9 M182.3,2072.9V2184.9 M194.1,2072.9V2184.9 M205.9,2072.9V2184.9 M217.8,2072.9V2184.9 M229.6,2072.9V2184.9 M241.4,2072.9V2184.9 M253.3,2072.9V2184.9 M265.1,2072.9V2184.9 M276.9,2072.9V2184.9 M288.8,2072.9V2184.9 M300.6,2072.9V2184.9 M312.4,2072.9V2184.9 M324.2,2072.9V2184.9 M336.1,2072.9V2184.9 M347.9,2072.9V2184.9 M359.7,2072.9V2184.9 M371.6,2072.9V2184.9 M383.4,2072.9V2184.9 M395.2,2072.9V2184.9 M407.1,2072.9V2184.9 M418.9,2072.9V2184.9 M430.7,2072.9V2184.9 M442.6,2072.9V2184.9 M454.4,2072.9V2184.9 M466.2,2072.9V2184.9 M478.0,2072.9V2184.9 M489.9,2072.9V2184.9 M501.7,2072.9V2184.9 M513.5,2072.9V2184.9 M525.4,2072.9V2184.9 M537.2,2072.9V2184.9 M549.0,2072.9V2184.9 M560.9,2072.9V2184.9 M572.7,2072.9V2184.9 M584.5,2072.9V2184.9 M596.3,2072.9V2184.9 M608.2,2072.9V2184.9 M620.0,2072.9V2184.9 M631.8,2072.9V2184.9 M643.7,2072.9V2184.9 M655.5,2072.9V2184.9 M667.3,2072.9V2184.9 M679.1,2072.9V2184.9 M691.0,2072.9V2184.9 M702.8,2072.9V2184.9 M714.6,2072.9V2184.9 M726.5,2072.9V2184.9" stroke="#e2e2e6" stroke-width="1" stroke-dasharray="2.5,3.5" fill="none"/>
<line x1="20" y1="2071.9" x2="730" y2="2071.9" stroke="#ececef" stroke-width="1" stroke-dasharray="3,2"/>
<line x1="20" y1="2184.9" x2="730" y2="2184.9" stroke="#ececef" stroke-width="1" stroke-dasharray="3,2"/>
<circle cx="642.2" cy="2054.0" r="13.3" fill="#e3e3e6"/>
<path d="M635.8,2047.2 L648.6,2047.2 M642.2,2062.5 L642.2,2051.0 M637.5,2055.8 L642.2,2051.0 L646.9,2055.8" stroke="#fff" stroke-width="2.1" fill="none"/>
<circle cx="705" cy="2054.0" r="13.3" fill="#e3e3e6"/>
<path d="M699.3,2048.3 L710.7,2059.7 M710.7,2048.3 L699.3,2059.7" stroke="#fff" stroke-width="2.1"/>
<text x="20.0" y="2066.9" font-size="21.5" fill="#2d2d38" textLength="94.1" lengthAdjust="spacingAndGlyphs">DMI(14,6)</text>
<text x="127.4" y="2066.9" font-size="21.5" fill="#6cb83a" textLength="104.8" lengthAdjust="spacingAndGlyphs">PDI:16.817</text>
<text x="245.5" y="2066.9" font-size="21.5" fill="#2a9f93" textLength="110.0" lengthAdjust="spacingAndGlyphs">MDI:30.922</text>
<text x="368.8" y="2066.9" font-size="21.5" fill="#d23c76" textLength="125.9" lengthAdjust="spacingAndGlyphs">ADXR:64.471</text>
<text x="508.0" y="2066.9" font-size="21.5" fill="#ef7a3c" textLength="112.7" lengthAdjust="spacingAndGlyphs">ADX:56.791</text>
<polyline points="19.0,2155.6 29.4,2154.6 40.8,2150.5 52.0,2144.3 64.0,2148.0 76.9,2143.8 88.2,2144.3 100.0,2150.5 112.0,2148.9 123.0,2146.9 136.0,2151.5 148.0,2141.7 159.0,2145.3 170.7,2142.7 182.5,2138.6 194.4,2138.6 205.7,2142.7 217.6,2144.3 230.0,2143.8 241.5,2142.7 253.4,2135.0 265.2,2103.0 276.5,2106.7 287.9,2107.7 301.3,2118.5 313.7,2124.7 325.5,2126.2 335.8,2127.3 348.7,2123.7 360.0,2123.7 372.0,2125.7 383.8,2128.8 396.0,2128.3 408.0,2129.9 419.8,2134.0 431.0,2158.2 440.0,2155.6 442.7,2154.6 454.6,2164.9 467.0,2162.3 478.8,2162.3 490.7,2159.8 502.0,2159.8 515.0,2171.0 526.8,2171.0 549.4,2171.0 561.3,2169.5 573.0,2165.9 585.5,2168.5 597.4,2168.5 609.2,2165.9 620.6,2164.9 632.4,2159.8 643.8,2156.7" fill="none" stroke="#6cb83a" stroke-width="2.2" stroke-linejoin="round" stroke-linecap="round"/>
<polyline points="19.0,2124.7 30.5,2128.3 52.0,2130.9 64.0,2129.9 76.9,2137.6 88.2,2136.0 100.0,2130.9 112.0,2134.0 123.0,2130.9 136.0,2129.9 156.8,2128.8 169.6,2140.2 182.5,2151.5 194.4,2150.5 217.6,2149.4 230.0,2148.9 241.5,2147.9 253.4,2155.6 265.2,2168.5 276.5,2173.7 287.9,2175.2 301.3,2163.4 313.7,2163.4 325.5,2159.2 348.7,2159.2 360.0,2160.8 372.0,2159.2 383.8,2153.0 396.0,2153.0 408.0,2151.5 419.8,2150.5 431.0,2141.7 440.0,2140.2 444.3,2137.6 454.6,2124.7 467.0,2134.0 478.8,2121.0 490.7,2128.8 502.0,2128.8 515.0,2112.8 526.8,2114.4 538.0,2116.0 549.4,2123.7 561.3,2121.0 573.0,2126.2 585.5,2119.5 597.4,2116.0 609.2,2115.4 620.6,2122.0 632.4,2127.3 643.8,2136.6" fill="none" stroke="#2a9f93" stroke-width="2.2" stroke-linejoin="round" stroke-linecap="round"/>
<polyline points="19.0,2122.0 30.5,2128.8 52.0,2140.2 64.0,2142.7 76.9,2146.4 88.2,2153.0 100.0,2156.7 112.0,2158.2 136.0,2156.7 159.0,2152.0 170.7,2156.7 194.4,2156.7 205.7,2159.8 230.0,2163.4 241.5,2160.8 253.4,2157.2 265.2,2144.3 276.5,2128.8 287.9,2111.8 301.3,2098.9 313.7,2089.6 324.0,2088.6 335.8,2096.4 348.7,2105.0 360.0,2111.8 372.0,2116.0 383.8,2121.0 396.0,2123.7 408.0,2127.3 419.8,2132.4 431.0,2136.6 440.0,2139.1 445.3,2140.2 455.6,2135.0 467.0,2132.4 478.8,2127.3 490.7,2121.0 502.0,2117.0 515.0,2106.7 526.8,2101.5 538.0,2093.8 549.4,2089.6 561.3,2084.5 573.0,2081.9 585.5,2083.5 597.4,2086.0 609.2,2088.6 620.6,2091.2 632.4,2094.8 643.8,2102.5" fill="none" stroke="#ef7a3c" stroke-width="2.2" stroke-linejoin="round" stroke-linecap="round"/>
<polyline points="19.0,2100.0 40.8,2106.7 64.0,2122.0 87.2,2135.0 112.0,2145.3 136.0,2149.4 159.0,2153.0 182.5,2155.6 205.7,2156.7 230.0,2158.2 241.5,2159.8 253.4,2158.2 265.2,2153.0 276.5,2147.9 287.9,2139.1 301.3,2134.0 313.7,2127.3 325.5,2123.7 335.8,2120.6 348.7,2116.0 360.0,2111.8 372.0,2108.2 383.8,2105.6 396.0,2106.7 408.0,2113.4 419.8,2119.5 431.0,2124.7 440.0,2127.3 455.6,2128.8 478.8,2127.3 502.0,2127.3 515.0,2123.7 526.8,2118.0 538.0,2113.4 549.4,2108.2 561.3,2104.0 573.0,2100.0 585.5,2094.8 597.4,2092.7 609.2,2090.2 620.6,2089.6 632.4,2089.6 643.8,2091.2" fill="none" stroke="#d23c76" stroke-width="2.2" stroke-linejoin="round" stroke-linecap="round"/>
</g>
<g id="p6">
<path d="M28.5,2228.8V2340.8 M40.3,2228.8V2340.8 M52.2,2228.8V2340.8 M64.0,2228.8V2340.8 M75.8,2228.8V2340.8 M87.7,2228.8V2340.8 M99.5,2228.8V2340.8 M111.3,2228.8V2340.8 M123.1,2228.8V2340.8 M135.0,2228.8V2340.8 M146.8,2228.8V2340.8 M158.6,2228.8V2340.8 M170.5,2228.8V2340.8 M182.3,2228.8V2340.8 M194.1,2228.8V2340.8 M205.9,2228.8V2340.8 M217.8,2228.8V2340.8 M229.6,2228.8V2340.8 M241.4,2228.8V2340.8 M253.3,2228.8V2340.8 M265.1,2228.8V2340.8 M276.9,2228.8V2340.8 M288.8,2228.8V2340.8 M300.6,2228.8V2340.8 M312.4,2228.8V2340.8 M324.2,2228.8V2340.8 M336.1,2228.8V2340.8 M347.9,2228.8V2340.8 M359.7,2228.8V2340.8 M371.6,2228.8V2340.8 M383.4,2228.8V2340.8 M395.2,2228.8V2340.8 M407.1,2228.8V2340.8 M418.9,2228.8V2340.8 M430.7,2228.8V2340.8 M442.6,2228.8V2340.8 M454.4,2228.8V2340.8 M466.2,2228.8V2340.8 M478.0,2228.8V2340.8 M489.9,2228.8V2340.8 M501.7,2228.8V2340.8 M513.5,2228.8V2340.8 M525.4,2228.8V2340.8 M537.2,2228.8V2340.8 M549.0,2228.8V2340.8 M560.9,2228.8V2340.8 M572.7,2228.8V2340.8 M584.5,2228.8V2340.8 M596.3,2228.8V2340.8 M608.2,2228.8V2340.8 M620.0,2228.8V2340.8 M631.8,2228.8V2340.8 M643.7,2228.8V2340.8 M655.5,2228.8V2340.8 M667.3,2228.8V2340.8 M679.1,2228.8V2340.8 M691.0,2228.8V2340.8 M702.8,2228.8V2340.8 M714.6,2228.8V2340.8 M726.5,2228.8V2340.8" stroke="#e2e2e6" stroke-width="1" stroke-dasharray="2.5,3.5" fill="none"/>
<line x1="20" y1="2227.8" x2="730" y2="2227.8" stroke="#ececef" stroke-width="1" stroke-dasharray="3,2"/>
<line x1="20" y1="2340.8" x2="730" y2="2340.8" stroke="#ececef" stroke-width="1" stroke-dasharray="3,2"/>
<circle cx="642.2" cy="2209.9" r="13.3" fill="#e3e3e6"/>
<path d="M635.8,2203.1 L648.6,2203.1 M642.2,2218.4 L642.2,2206.9 M637.5,2211.7 L642.2,2206.9 L646.9,2211.7" stroke="#fff" stroke-width="2.1" fill="none"/>
<circle cx="705" cy="2209.9" r="13.3" fill="#e3e3e6"/>
<path d="M699.3,2204.2 L710.7,2215.6 M710.7,2204.2 L699.3,2215.6" stroke="#fff" stroke-width="2.1"/>
<text x="20.0" y="2222.8" font-size="21.5" fill="#2d2d38" textLength="77.8" lengthAdjust="spacingAndGlyphs">ATR(20)</text>
<text x="111.1" y="2222.8" font-size="21.5" fill="#c64fd6" textLength="98.0" lengthAdjust="spacingAndGlyphs">ATR:0.083</text>
<text x="222.3" y="2222.8" font-size="21.5" fill="#d23c76" textLength="85.3" lengthAdjust="spacingAndGlyphs">TR:0.046</text>
<polyline points="19.0,2315.8 66.5,2316.8 118.0,2318.3 169.6,2319.9 230.0,2322.0 250.8,2323.0 265.2,2318.3 276.5,2318.3 302.3,2315.2 328.0,2313.2 379.6,2312.7 440.0,2312.7 489.0,2313.2 502.0,2317.8 538.0,2320.9 589.6,2323.5 643.8,2326.0" fill="none" stroke="#c64fd6" stroke-width="2.2" stroke-linejoin="round" stroke-linecap="round"/>
<polyline points="19.0,2314.2 29.4,2320.9 40.8,2319.4 52.0,2319.4 64.0,2320.9 76.9,2322.0 88.2,2318.3 100.0,2327.0 112.0,2320.4 123.0,2330.7 136.0,2323.5 148.0,2320.4 159.0,2324.5 170.7,2320.4 182.5,2330.7 194.4,2322.0 205.7,2322.0 217.6,2324.5 230.0,2327.0 243.0,2324.5 253.4,2319.4 265.2,2234.3 276.5,2303.9 289.4,2279.2 301.3,2291.0 313.7,2309.0 325.5,2314.2 335.8,2327.0 348.7,2315.2 360.0,2320.9 372.0,2322.0 383.8,2316.8 395.0,2324.5 408.0,2323.0 419.8,2326.0 431.0,2327.0 442.7,2327.0 454.6,2320.9 467.0,2328.0 478.8,2319.4 490.7,2324.5 502.0,2330.7 513.9,2311.6 526.8,2322.0 538.0,2320.9 549.4,2328.0 561.3,2331.2 573.0,2328.0 585.5,2327.0 597.4,2330.7 609.2,2328.6 620.6,2329.7 632.4,2327.0 643.8,2331.2" fill="none" stroke="#d23c76" stroke-width="2.2" stroke-linejoin="round" stroke-linecap="round"/>
</g>
<g id="p7">
<path d="M28.5,2384.7V2496.7 M40.3,2384.7V2496.7 M52.2,2384.7V2496.7 M64.0,2384.7V2496.7 M75.8,2384.7V2496.7 M87.7,2384.7V2496.7 M99.5,2384.7V2496.7 M111.3,2384.7V2496.7 M123.1,2384.7V2496.7 M135.0,2384.7V2496.7 M146.8,2384.7V2496.7 M158.6,2384.7V2496.7 M170.5,2384.7V2496.7 M182.3,2384.7V2496.7 M194.1,2384.7V2496.7 M205.9,2384.7V2496.7 M217.8,2384.7V2496.7 M229.6,2384.7V2496.7 M241.4,2384.7V2496.7 M253.3,2384.7V2496.7 M265.1,2384.7V2496.7 M276.9,2384.7V2496.7 M288.8,2384.7V2496.7 M300.6,2384.7V2496.7 M312.4,2384.7V2496.7 M324.2,2384.7V2496.7 M336.1,2384.7V2496.7 M347.9,2384.7V2496.7 M359.7,2384.7V2496.7 M371.6,2384.7V2496.7 M383.4,2384.7V2496.7 M395.2,2384.7V2496.7 M407.1,2384.7V2496.7 M418.9,2384.7V2496.7 M430.7,2384.7V2496.7 M442.6,2384.7V2496.7 M454.4,2384.7V2496.7 M466.2,2384.7V2496.7 M478.0,2384.7V2496.7 M489.9,2384.7V2496.7 M501.7,2384.7V2496.7 M513.5,2384.7V2496.7 M525.4,2384.7V2496.7 M537.2,2384.7V2496.7 M549.0,2384.7V2496.7 M560.9,2384.7V2496.7 M572.7,2384.7V2496.7 M584.5,2384.7V2496.7 M596.3,2384.7V2496.7 M608.2,2384.7V2496.7 M620.0,2384.7V2496.7 M631.8,2384.7V2496.7 M643.7,2384.7V2496.7 M655.5,2384.7V2496.7 M667.3,2384.7V2496.7 M679.1,2384.7V2496.7 M691.0,2384.7V2496.7 M702.8,2384.7V2496.7 M714.6,2384.7V2496.7 M726.5,2384.7V2496.7" stroke="#e2e2e6" stroke-width="1" stroke-dasharray="2.5,3.5" fill="none"/>
<line x1="20" y1="2383.7" x2="730" y2="2383.7" stroke="#ececef" stroke-width="1" stroke-dasharray="3,2"/>
<line x1="20" y1="2496.7" x2="730" y2="2496.7" stroke="#ececef" stroke-width="1" stroke-dasharray="3,2"/>
<circle cx="642.2" cy="2365.8" r="13.3" fill="#e3e3e6"/>
<path d="M635.8,2359.0 L648.6,2359.0 M642.2,2374.3 L642.2,2362.8 M637.5,2367.6 L642.2,2362.8 L646.9,2367.6" stroke="#fff" stroke-width="2.1" fill="none"/>
<circle cx="705" cy="2365.8" r="13.3" fill="#e3e3e6"/>
<path d="M699.3,2360.1 L710.7,2371.5 M710.7,2360.1 L699.3,2371.5" stroke="#fff" stroke-width="2.1"/>
<text x="20.0" y="2378.7" font-size="21.5" fill="#2d2d38" textLength="114.5" lengthAdjust="spacingAndGlyphs">DMA(10,50)</text>
<text x="147.8" y="2378.7" font-size="21.5" fill="#c64fd6" textLength="107.5" lengthAdjust="spacingAndGlyphs">DDD:-0.252</text>
<text x="268.6" y="2378.7" font-size="21.5" fill="#a24fd8" textLength="112.2" lengthAdjust="spacingAndGlyphs">AMA:-0.203</text>
<polyline points="19.0,2485.2 23.6,2485.1 29.8,2485.0 37.3,2484.8 45.5,2484.7 54.1,2484.5 62.5,2484.4 71.2,2484.3 80.6,2484.2 90.4,2484.1 100.1,2484.0 109.4,2483.9 117.8,2483.6 125.3,2483.2 132.2,2482.8 138.6,2482.2 144.8,2481.7 151.0,2481.1 157.4,2480.5 164.1,2479.9 170.9,2479.3 177.7,2478.7 184.4,2478.0 190.9,2477.3 197.0,2476.5 202.8,2475.7 208.4,2474.9 213.8,2474.0 218.9,2473.1 223.9,2472.1 228.6,2471.0 232.9,2469.9 236.8,2468.7 240.4,2467.4 244.1,2466.0 248.0,2464.6 252.3,2463.0 257.1,2461.3 262.3,2459.4 267.7,2457.5 273.1,2455.5 278.6,2453.3 284.0,2451.2 289.4,2448.9 294.8,2446.6 300.3,2444.1 305.6,2441.7 310.8,2439.3 315.6,2437.0 320.1,2434.8 324.4,2432.7 328.4,2430.7 332.3,2428.7 336.2,2426.8 340.0,2425.0 343.7,2423.3 347.2,2421.7 350.6,2420.1 354.1,2418.7 357.7,2417.1 361.6,2415.6 365.9,2413.9 370.4,2412.1 375.1,2410.4 379.8,2408.7 384.6,2407.2 389.3,2406.0 393.9,2405.1 398.4,2404.5 402.9,2404.1 407.5,2403.9 412.2,2403.7 417.0,2403.7 422.1,2403.8 427.3,2403.9 432.6,2404.2 438.0,2404.6 443.4,2405.2 448.7,2406.0 453.9,2407.0 458.9,2408.2 464.0,2409.6 469.2,2411.1 474.6,2412.6 480.3,2414.0 486.4,2415.3 492.9,2416.7 499.6,2418.1 506.4,2419.4 513.2,2420.7 519.9,2422.0 526.5,2423.2 533.1,2424.4 539.6,2425.6 546.2,2426.7 552.8,2427.9 559.4,2429.0 565.9,2430.1 572.4,2431.2 578.9,2432.3 585.5,2433.3 592.2,2434.4 599.0,2435.4 606.5,2436.4 614.8,2437.5 623.2,2438.6 631.1,2439.6 637.7,2440.4 642.5,2441.0" fill="none" stroke="#9d55e0" stroke-width="2.2" stroke-linejoin="round" stroke-linecap="round"/>
<polyline points="19.0,2485.2 22.0,2485.1 26.2,2485.1 31.1,2485.0 36.4,2484.9 41.7,2484.7 46.6,2484.4 51.3,2484.0 56.1,2483.4 60.9,2482.8 65.7,2482.1 70.1,2481.6 74.3,2481.3 78.0,2481.2 81.3,2481.2 84.4,2481.4 87.4,2481.6 90.6,2481.8 94.0,2482.0 97.7,2482.3 101.6,2482.7 105.6,2483.1 109.7,2483.5 113.8,2483.7 117.8,2483.6 121.7,2483.2 125.4,2482.7 129.2,2481.9 133.1,2481.0 137.2,2480.0 141.6,2479.0 146.4,2477.9 151.5,2476.6 156.9,2475.2 162.4,2473.8 167.8,2472.4 173.2,2471.0 178.6,2469.7 184.1,2468.3 189.6,2467.0 195.0,2465.7 200.2,2464.3 205.0,2463.0 209.4,2461.7 213.5,2460.4 217.3,2459.2 221.0,2457.9 224.8,2456.6 228.6,2455.2 232.6,2453.7 236.8,2452.2 240.9,2450.6 245.0,2449.0 248.8,2447.3 252.3,2445.7 255.3,2444.0 258.0,2442.4 260.4,2440.7 262.7,2439.0 265.2,2437.2 268.0,2435.4 271.0,2433.5 274.2,2431.6 277.5,2429.6 280.9,2427.5 284.4,2425.5 288.0,2423.5 291.8,2421.5 295.8,2419.3 300.0,2417.2 304.1,2415.2 308.0,2413.3 311.7,2411.6 315.0,2410.2 318.1,2409.1 321.1,2408.2 324.0,2407.3 326.9,2406.4 330.0,2405.3 333.2,2404.0 336.5,2402.6 339.8,2401.2 343.1,2399.8 346.5,2398.5 349.8,2397.4 353.1,2396.4 356.4,2395.3 359.7,2394.4 363.0,2393.6 366.3,2393.3 369.6,2393.4 372.9,2394.1 376.2,2395.4 379.5,2397.1 382.7,2398.9 386.0,2400.7 389.3,2402.2 392.5,2403.5 395.7,2404.8 398.9,2406.1 402.1,2407.2 405.5,2408.3 409.0,2409.3 412.7,2410.2 416.6,2410.9 420.6,2411.5 424.7,2412.1 428.8,2412.7 432.8,2413.2 436.7,2413.6 440.4,2414.0 444.2,2414.2 448.1,2414.6 452.2,2415.0 456.6,2415.6 461.4,2416.4 466.6,2417.5 471.9,2418.6 477.4,2419.8 482.8,2420.9 488.2,2422.0 493.5,2423.0 498.8,2423.9 504.1,2424.8 509.3,2425.7 514.6,2426.6 519.9,2427.5 525.2,2428.4 530.4,2429.3 535.7,2430.2 541.0,2431.1 546.2,2432.0 551.5,2433.0 556.7,2434.0 561.9,2435.1 567.1,2436.1 572.3,2437.2 577.7,2438.3 583.2,2439.3 589.2,2440.4 595.6,2441.5 602.1,2442.6 608.4,2443.6 614.1,2444.4 618.8,2444.9 622.5,2445.0 625.3,2444.8 627.5,2444.4 629.4,2443.9 631.2,2443.5 633.0,2443.3 635.0,2443.4 636.9,2443.7 638.6,2444.0 640.2,2444.4 641.5,2444.7 642.5,2444.9" fill="none" stroke="#c64fd6" stroke-width="2.2" stroke-linejoin="round" stroke-linecap="round"/>
</g>
<g id="p8">
<path d="M28.5,2540.6V2652.6 M40.3,2540.6V2652.6 M52.2,2540.6V2652.6 M64.0,2540.6V2652.6 M75.8,2540.6V2652.6 M87.7,2540.6V2652.6 M99.5,2540.6V2652.6 M111.3,2540.6V2652.6 M123.1,2540.6V2652.6 M135.0,2540.6V2652.6 M146.8,2540.6V2652.6 M158.6,2540.6V2652.6 M170.5,2540.6V2652.6 M182.3,2540.6V2652.6 M194.1,2540.6V2652.6 M205.9,2540.6V2652.6 M217.8,2540.6V2652.6 M229.6,2540.6V2652.6 M241.4,2540.6V2652.6 M253.3,2540.6V2652.6 M265.1,2540.6V2652.6 M276.9,2540.6V2652.6 M288.8,2540.6V2652.6 M300.6,2540.6V2652.6 M312.4,2540.6V2652.6 M324.2,2540.6V2652.6 M336.1,2540.6V2652.6 M347.9,2540.6V2652.6 M359.7,2540.6V2652.6 M371.6,2540.6V2652.6 M383.4,2540.6V2652.6 M395.2,2540.6V2652.6 M407.1,2540.6V2652.6 M418.9,2540.6V2652.6 M430.7,2540.6V2652.6 M442.6,2540.6V2652.6 M454.4,2540.6V2652.6 M466.2,2540.6V2652.6 M478.0,2540.6V2652.6 M489.9,2540.6V2652.6 M501.7,2540.6V2652.6 M513.5,2540.6V2652.6 M525.4,2540.6V2652.6 M537.2,2540.6V2652.6 M549.0,2540.6V2652.6 M560.9,2540.6V2652.6 M572.7,2540.6V2652.6 M584.5,2540.6V2652.6 M596.3,2540.6V2652.6 M608.2,2540.6V2652.6 M620.0,2540.6V2652.6 M631.8,2540.6V2652.6 M643.7,2540.6V2652.6 M655.5,2540.6V2652.6 M667.3,2540.6V2652.6 M679.1,2540.6V2652.6 M691.0,2540.6V2652.6 M702.8,2540.6V2652.6 M714.6,2540.6V2652.6 M726.5,2540.6V2652.6" stroke="#e2e2e6" stroke-width="1" stroke-dasharray="2.5,3.5" fill="none"/>
<line x1="20" y1="2539.6" x2="730" y2="2539.6" stroke="#ececef" stroke-width="1" stroke-dasharray="3,2"/>
<line x1="20" y1="2652.6" x2="730" y2="2652.6" stroke="#ececef" stroke-width="1" stroke-dasharray="3,2"/>
<circle cx="642.2" cy="2521.7" r="13.3" fill="#e3e3e6"/>
<path d="M635.8,2514.9 L648.6,2514.9 M642.2,2530.2 L642.2,2518.7 M637.5,2523.5 L642.2,2518.7 L646.9,2523.5" stroke="#fff" stroke-width="2.1" fill="none"/>
<circle cx="705" cy="2521.7" r="13.3" fill="#e3e3e6"/>
<path d="M699.3,2516.0 L710.7,2527.4 M710.7,2516.0 L699.3,2527.4" stroke="#fff" stroke-width="2.1"/>
<text x="20.0" y="2534.6" font-size="21.5" fill="#2d2d38" textLength="72.8" lengthAdjust="spacingAndGlyphs">CCI(14)</text>
<text x="106.1" y="2534.6" font-size="21.5" fill="#ef7a3c" textLength="93.0" lengthAdjust="spacingAndGlyphs">CCI:3.196</text>
<polyline points="19.0,2640.4 29.2,2635.7 41.0,2624.6 53.0,2617.5 64.0,2616.0 76.0,2611.2 87.8,2619.9 99.7,2626.2 110.7,2634.1 122.6,2631.0 134.5,2622.2 146.3,2608.8 158.2,2606.4 170.0,2593.8 182.7,2595.3 194.6,2600.9 206.5,2596.1 218.3,2588.2 230.2,2591.4 242.0,2590.6 254.0,2585.0 265.0,2548.7 276.9,2571.6 288.7,2581.9 300.6,2596.1 312.5,2598.5 324.3,2605.6 336.3,2608.0 347.4,2604.8 359.3,2608.8 371.1,2613.5 383.0,2622.2 394.9,2622.2 406.7,2626.2 418.6,2625.4 430.5,2625.4 442.3,2623.8 454.2,2628.6 466.0,2631.7 478.0,2635.7 489.8,2631.0 501.7,2629.4 513.5,2637.3 525.4,2629.4 537.3,2631.7 549.1,2628.6 561.0,2623.0 572.9,2619.9 584.7,2624.6 596.6,2628.6 608.5,2623.0 620.3,2623.0 632.2,2613.5 643.3,2608.8" fill="none" stroke="#ef7a3c" stroke-width="2.2" stroke-linejoin="round" stroke-linecap="round"/>
</g>
<g id="p9">
<path d="M28.5,2696.5V2808.5 M40.3,2696.5V2808.5 M52.2,2696.5V2808.5 M64.0,2696.5V2808.5 M75.8,2696.5V2808.5 M87.7,2696.5V2808.5 M99.5,2696.5V2808.5 M111.3,2696.5V2808.5 M123.1,2696.5V2808.5 M135.0,2696.5V2808.5 M146.8,2696.5V2808.5 M158.6,2696.5V2808.5 M170.5,2696.5V2808.5 M182.3,2696.5V2808.5 M194.1,2696.5V2808.5 M205.9,2696.5V2808.5 M217.8,2696.5V2808.5 M229.6,2696.5V2808.5 M241.4,2696.5V2808.5 M253.3,2696.5V2808.5 M265.1,2696.5V2808.5 M276.9,2696.5V2808.5 M288.8,2696.5V2808.5 M300.6,2696.5V2808.5 M312.4,2696.5V2808.5 M324.2,2696.5V2808.5 M336.1,2696.5V2808.5 M347.9,2696.5V2808.5 M359.7,2696.5V2808.5 M371.6,2696.5V2808.5 M383.4,2696.5V2808.5 M395.2,2696.5V2808.5 M407.1,2696.5V2808.5 M418.9,2696.5V2808.5 M430.7,2696.5V2808.5 M442.6,2696.5V2808.5 M454.4,2696.5V2808.5 M466.2,2696.5V2808.5 M478.0,2696.5V2808.5 M489.9,2696.5V2808.5 M501.7,2696.5V2808.5 M513.5,2696.5V2808.5 M525.4,2696.5V2808.5 M537.2,2696.5V2808.5 M549.0,2696.5V2808.5 M560.9,2696.5V2808.5 M572.7,2696.5V2808.5 M584.5,2696.5V2808.5 M596.3,2696.5V2808.5 M608.2,2696.5V2808.5 M620.0,2696.5V2808.5 M631.8,2696.5V2808.5 M643.7,2696.5V2808.5 M655.5,2696.5V2808.5 M667.3,2696.5V2808.5 M679.1,2696.5V2808.5 M691.0,2696.5V2808.5 M702.8,2696.5V2808.5 M714.6,2696.5V2808.5 M726.5,2696.5V2808.5" stroke="#e2e2e6" stroke-width="1" stroke-dasharray="2.5,3.5" fill="none"/>
<line x1="20" y1="2695.5" x2="730" y2="2695.5" stroke="#ececef" stroke-width="1" stroke-dasharray="3,2"/>
<line x1="20" y1="2808.5" x2="730" y2="2808.5" stroke="#ececef" stroke-width="1" stroke-dasharray="3,2"/>
<line x1="20" y1="2706.2" x2="644" y2="2706.2" stroke="#c8c8cc" stroke-width="1" stroke-dasharray="7,6"/>
<line x1="20" y1="2794.8" x2="644" y2="2794.8" stroke="#c8c8cc" stroke-width="1" stroke-dasharray="7,6"/>
<circle cx="642.2" cy="2677.6" r="13.3" fill="#e3e3e6"/>
<path d="M635.8,2670.8 L648.6,2670.8 M642.2,2686.1 L642.2,2674.6 M637.5,2679.4 L642.2,2674.6 L646.9,2679.4" stroke="#fff" stroke-width="2.1" fill="none"/>
<circle cx="705" cy="2677.6" r="13.3" fill="#e3e3e6"/>
<path d="M699.3,2671.9 L710.7,2683.3 M710.7,2671.9 L699.3,2683.3" stroke="#fff" stroke-width="2.1"/>
<text x="20.0" y="2690.5" font-size="21.5" fill="#2d2d38" textLength="143.0" lengthAdjust="spacingAndGlyphs">MFI(14, 20, 80)</text>
<text x="176.3" y="2690.5" font-size="21.5" fill="#c64fd6" textLength="107.8" lengthAdjust="spacingAndGlyphs">MFI:45.080</text>
<polyline points="19.0,2772.7 29.2,2772.7 41.0,2763.2 53.0,2761.6 64.0,2762.4 76.0,2750.5 87.8,2752.1 99.7,2759.2 110.7,2756.1 122.6,2752.9 134.5,2756.1 146.3,2756.1 158.2,2757.7 170.0,2745.0 182.7,2737.1 194.6,2733.9 206.5,2737.1 218.3,2737.1 230.2,2747.4 242.0,2749.0 254.0,2733.9 265.0,2710.2 276.9,2722.1 288.7,2711.8 300.6,2726.0 312.5,2735.5 324.3,2741.0 336.3,2745.8 347.4,2741.8 359.3,2741.8 371.1,2745.8 383.0,2752.1 394.9,2748.2 406.7,2752.9 418.6,2756.1 430.5,2782.2 442.3,2770.3 454.2,2798.0 466.0,2793.3 478.0,2790.9 489.8,2780.6 501.7,2779.8 513.5,2794.1 525.4,2784.6 537.3,2784.6 549.1,2782.2 561.0,2782.2 572.9,2772.7 584.7,2779.8 596.6,2780.6 608.5,2779.0 620.3,2776.7 632.2,2765.6 643.3,2757.7" fill="none" stroke="#c64fd6" stroke-width="2.2" stroke-linejoin="round" stroke-linecap="round"/>
</g>
<g id="p10">
<path d="M28.5,2852.4V2964.4 M40.3,2852.4V2964.4 M52.2,2852.4V2964.4 M64.0,2852.4V2964.4 M75.8,2852.4V2964.4 M87.7,2852.4V2964.4 M99.5,2852.4V2964.4 M111.3,2852.4V2964.4 M123.1,2852.4V2964.4 M135.0,2852.4V2964.4 M146.8,2852.4V2964.4 M158.6,2852.4V2964.4 M170.5,2852.4V2964.4 M182.3,2852.4V2964.4 M194.1,2852.4V2964.4 M205.9,2852.4V2964.4 M217.8,2852.4V2964.4 M229.6,2852.4V2964.4 M241.4,2852.4V2964.4 M253.3,2852.4V2964.4 M265.1,2852.4V2964.4 M276.9,2852.4V2964.4 M288.8,2852.4V2964.4 M300.6,2852.4V2964.4 M312.4,2852.4V2964.4 M324.2,2852.4V2964.4 M336.1,2852.4V2964.4 M347.9,2852.4V2964.4 M359.7,2852.4V2964.4 M371.6,2852.4V2964.4 M383.4,2852.4V2964.4 M395.2,2852.4V2964.4 M407.1,2852.4V2964.4 M418.9,2852.4V2964.4 M430.7,2852.4V2964.4 M442.6,2852.4V2964.4 M454.4,2852.4V2964.4 M466.2,2852.4V2964.4 M478.0,2852.4V2964.4 M489.9,2852.4V2964.4 M501.7,2852.4V2964.4 M513.5,2852.4V2964.4 M525.4,2852.4V2964.4 M537.2,2852.4V2964.4 M549.0,2852.4V2964.4 M560.9,2852.4V2964.4 M572.7,2852.4V2964.4 M584.5,2852.4V2964.4 M596.3,2852.4V2964.4 M608.2,2852.4V2964.4 M620.0,2852.4V2964.4 M631.8,2852.4V2964.4 M643.7,2852.4V2964.4 M655.5,2852.4V2964.4 M667.3,2852.4V2964.4 M679.1,2852.4V2964.4 M691.0,2852.4V2964.4 M702.8,2852.4V2964.4 M714.6,2852.4V2964.4 M726.5,2852.4V2964.4" stroke="#e2e2e6" stroke-width="1" stroke-dasharray="2.5,3.5" fill="none"/>
<line x1="20" y1="2851.4" x2="730" y2="2851.4" stroke="#ececef" stroke-width="1" stroke-dasharray="3,2"/>
<line x1="20" y1="2964.4" x2="730" y2="2964.4" stroke="#ececef" stroke-width="1" stroke-dasharray="3,2"/>
<circle cx="642.2" cy="2833.5" r="13.3" fill="#e3e3e6"/>
<path d="M635.8,2826.7 L648.6,2826.7 M642.2,2842.0 L642.2,2830.5 M637.5,2835.3 L642.2,2830.5 L646.9,2835.3" stroke="#fff" stroke-width="2.1" fill="none"/>
<circle cx="705" cy="2833.5" r="13.3" fill="#e3e3e6"/>
<path d="M699.3,2827.8 L710.7,2839.2 M710.7,2827.8 L699.3,2839.2" stroke="#fff" stroke-width="2.1"/>
<text x="20.0" y="2846.4" font-size="21.5" fill="#2d2d38" textLength="100.0" lengthAdjust="spacingAndGlyphs">EMV(14,9)</text>
<text x="133.3" y="2846.4" font-size="21.5" fill="#6cb83a" textLength="142.8" lengthAdjust="spacingAndGlyphs">MAEMV:-0.838</text>
<text x="289.4" y="2846.4" font-size="21.5" fill="#4a7fdc" textLength="109.8" lengthAdjust="spacingAndGlyphs">EMV:-0.217</text>
<polyline points="19.0,2940.6 21.4,2940.2 24.7,2939.6 28.6,2939.0 32.8,2938.2 37.0,2937.4 41.0,2936.6 44.8,2935.7 48.6,2934.8 52.4,2933.8 56.2,2932.8 60.1,2931.9 64.0,2931.0 67.9,2930.2 71.9,2929.5 75.9,2928.8 79.9,2928.2 83.9,2927.6 87.8,2927.1 91.7,2926.7 95.5,2926.4 99.2,2926.1 103.0,2925.9 106.8,2925.7 110.7,2925.5 114.6,2925.3 118.6,2925.2 122.6,2925.1 126.5,2925.0 130.5,2924.9 134.5,2924.7 138.4,2924.5 142.4,2924.3 146.3,2924.0 150.2,2923.7 154.2,2923.5 158.2,2923.2 162.2,2922.9 166.3,2922.7 170.4,2922.5 174.6,2922.2 178.6,2921.9 182.7,2921.6 186.7,2921.3 190.7,2920.9 194.6,2920.5 198.6,2920.1 202.5,2919.7 206.5,2919.2 210.5,2918.7 214.4,2918.2 218.3,2917.7 222.3,2917.2 226.2,2916.6 230.2,2916.0 234.2,2915.3 238.2,2914.7 242.1,2913.9 246.1,2913.2 250.1,2912.3 254.0,2911.3 258.0,2910.2 262.1,2908.8 266.2,2907.5 270.1,2906.0 273.7,2904.7 276.9,2903.4 279.4,2902.2 281.2,2901.1 282.7,2900.0 284.3,2899.0 286.2,2898.0 288.7,2897.0 292.0,2896.0 295.7,2895.0 299.9,2894.0 304.1,2893.1 308.4,2892.2 312.5,2891.5 316.5,2890.9 320.4,2890.5 324.4,2890.2 328.3,2889.9 332.3,2889.6 336.2,2889.1 340.1,2888.4 343.9,2887.5 347.7,2886.5 351.6,2885.7 355.4,2885.2 359.3,2885.2 363.2,2885.8 367.2,2886.9 371.1,2888.4 375.1,2890.0 379.0,2891.6 383.0,2893.1 386.9,2894.5 390.9,2896.0 394.8,2897.4 398.8,2898.9 402.7,2900.4 406.7,2901.8 410.7,2903.1 414.6,2904.4 418.6,2905.6 422.6,2906.9 426.5,2908.2 430.5,2909.7 434.5,2911.4 438.4,2913.3 442.3,2915.2 446.3,2917.2 450.2,2919.1 454.2,2920.8 458.2,2922.4 462.1,2924.0 466.1,2925.5 470.1,2926.9 474.0,2928.3 478.0,2929.5 482.0,2930.6 485.9,2931.5 489.9,2932.3 493.8,2933.1 497.8,2934.0 501.7,2935.0 505.8,2936.3 510.0,2937.7 514.3,2939.2 518.4,2940.7 522.1,2942.0 525.4,2943.0 527.9,2943.7 529.8,2944.3 531.4,2944.7 532.9,2945.0 534.8,2945.2 537.3,2945.3 540.6,2945.3 544.3,2945.2 548.4,2945.0 552.7,2944.8 556.9,2944.6 561.0,2944.5 564.9,2944.5 568.9,2944.4 572.8,2944.4 576.8,2944.5 580.7,2944.5 584.7,2944.5 588.7,2944.5 592.6,2944.6 596.6,2944.7 600.6,2944.7 604.5,2944.6 608.5,2944.5 612.6,2944.2 616.9,2943.9 621.1,2943.4 625.2,2943.0 629.0,2942.5 632.2,2942.1 634.9,2941.7 637.2,2941.2 639.2,2940.8 640.9,2940.4 642.2,2940.0 643.3,2939.8" fill="none" stroke="#6cb83a" stroke-width="2.2" stroke-linejoin="round" stroke-linecap="round"/>
<polyline points="19.0,2936.6 29.2,2933.4 41.0,2926.3 53.0,2921.6 64.0,2924.7 76.0,2917.6 87.8,2920.0 99.7,2929.5 110.7,2925.5 122.6,2924.0 134.5,2927.9 146.3,2920.8 158.2,2923.2 170.0,2914.5 182.7,2907.3 194.6,2907.3 206.5,2909.7 218.3,2912.9 230.2,2912.1 242.0,2912.9 254.0,2905.0 265.0,2875.7 276.9,2870.2 288.7,2861.4 300.6,2883.6 312.5,2889.1 324.3,2897.8 336.3,2903.4 347.4,2897.0 359.3,2897.0 371.1,2901.8 383.0,2911.3 394.9,2909.0 406.7,2915.2 418.6,2915.2 430.5,2941.4 442.3,2943.0 454.2,2954.8 466.0,2939.0 478.0,2948.5 489.8,2938.2 501.7,2937.4 513.5,2950.8 525.4,2948.5 537.3,2946.9 549.1,2941.4 561.0,2943.0 572.9,2938.2 584.7,2945.3 596.6,2945.3 608.5,2945.3 620.3,2940.6 632.2,2933.4 643.3,2925.5" fill="none" stroke="#4a7fdc" stroke-width="2.2" stroke-linejoin="round" stroke-linecap="round"/>
</g>
<g id="p11">
<path d="M28.5,3008.3V3120.3 M40.3,3008.3V3120.3 M52.2,3008.3V3120.3 M64.0,3008.3V3120.3 M75.8,3008.3V3120.3 M87.7,3008.3V3120.3 M99.5,3008.3V3120.3 M111.3,3008.3V3120.3 M123.1,3008.3V3120.3 M135.0,3008.3V3120.3 M146.8,3008.3V3120.3 M158.6,3008.3V3120.3 M170.5,3008.3V3120.3 M182.3,3008.3V3120.3 M194.1,3008.3V3120.3 M205.9,3008.3V3120.3 M217.8,3008.3V3120.3 M229.6,3008.3V3120.3 M241.4,3008.3V3120.3 M253.3,3008.3V3120.3 M265.1,3008.3V3120.3 M276.9,3008.3V3120.3 M288.8,3008.3V3120.3 M300.6,3008.3V3120.3 M312.4,3008.3V3120.3 M324.2,3008.3V3120.3 M336.1,3008.3V3120.3 M347.9,3008.3V3120.3 M359.7,3008.3V3120.3 M371.6,3008.3V3120.3 M383.4,3008.3V3120.3 M395.2,3008.3V3120.3 M407.1,3008.3V3120.3 M418.9,3008.3V3120.3 M430.7,3008.3V3120.3 M442.6,3008.3V3120.3 M454.4,3008.3V3120.3 M466.2,3008.3V3120.3 M478.0,3008.3V3120.3 M489.9,3008.3V3120.3 M501.7,3008.3V3120.3 M513.5,3008.3V3120.3 M525.4,3008.3V3120.3 M537.2,3008.3V3120.3 M549.0,3008.3V3120.3 M560.9,3008.3V3120.3 M572.7,3008.3V3120.3 M584.5,3008.3V3120.3 M596.3,3008.3V3120.3 M608.2,3008.3V3120.3 M620.0,3008.3V3120.3 M631.8,3008.3V3120.3 M643.7,3008.3V3120.3 M655.5,3008.3V3120.3 M667.3,3008.3V3120.3 M679.1,3008.3V3120.3 M691.0,3008.3V3120.3 M702.8,3008.3V3120.3 M714.6,3008.3V3120.3 M726.5,3008.3V3120.3" stroke="#e2e2e6" stroke-width="1" stroke-dasharray="2.5,3.5" fill="none"/>
<line x1="20" y1="3007.3" x2="730" y2="3007.3" stroke="#ececef" stroke-width="1" stroke-dasharray="3,2"/>
<line x1="20" y1="3120.3" x2="730" y2="3120.3" stroke="#ececef" stroke-width="1" stroke-dasharray="3,2"/>
<circle cx="642.2" cy="2989.4" r="13.3" fill="#e3e3e6"/>
<path d="M635.8,2982.6 L648.6,2982.6 M642.2,2997.9 L642.2,2986.4 M637.5,2991.2 L642.2,2986.4 L646.9,2991.2" stroke="#fff" stroke-width="2.1" fill="none"/>
<circle cx="705" cy="2989.4" r="13.3" fill="#e3e3e6"/>
<path d="M699.3,2983.7 L710.7,2995.1 M710.7,2983.7 L699.3,2995.1" stroke="#fff" stroke-width="2.1"/>
<text x="20.0" y="3002.3" font-size="21.5" fill="#2d2d38" textLength="97.4" lengthAdjust="spacingAndGlyphs">ROC(12,6)</text>
<text x="130.7" y="3002.3" font-size="21.5" fill="#ef7a3c" textLength="140.2" lengthAdjust="spacingAndGlyphs">MAROC:-8.576</text>
<text x="284.1" y="3002.3" font-size="21.5" fill="#2a9f93" textLength="107.2" lengthAdjust="spacingAndGlyphs">ROC:-4.890</text>
<polyline points="19.0,3097.4 41.0,3096.6 64.0,3095.8 87.8,3092.6 110.7,3092.6 134.5,3096.6 158.2,3095.0 182.7,3089.4 206.5,3083.1 230.2,3080.7 254.0,3077.6 265.0,3067.3 276.9,3059.4 288.7,3051.5 300.6,3046.0 312.5,3043.6 324.3,3043.6 336.2,3049.9 347.4,3055.4 371.1,3063.3 394.9,3069.7 418.6,3085.5 442.3,3096.6 466.0,3104.5 489.8,3101.3 513.5,3101.3 537.3,3101.3 561.0,3100.5 584.7,3099.7 608.5,3098.9 632.2,3096.6 643.3,3095.0" fill="none" stroke="#ef7a3c" stroke-width="2.2" stroke-linejoin="round" stroke-linecap="round"/>
<polyline points="19.0,3100.5 29.2,3099.7 41.0,3099.7 53.0,3089.4 64.0,3088.7 76.0,3091.0 87.8,3087.9 99.7,3090.2 110.7,3104.5 122.6,3104.5 134.5,3099.7 146.3,3087.0 158.2,3080.7 170.0,3076.0 182.7,3080.7 194.6,3082.3 206.5,3081.5 218.3,3080.7 230.2,3074.4 242.0,3073.6 254.0,3061.8 265.0,3017.4 276.9,3031.7 288.7,3042.0 300.6,3046.0 312.5,3057.8 324.3,3063.3 336.3,3063.3 347.4,3060.2 359.3,3067.3 371.1,3069.7 383.0,3078.4 394.9,3080.0 406.7,3110.8 418.6,3106.8 430.5,3105.3 442.3,3102.1 454.2,3102.1 466.0,3098.1 478.0,3098.1 489.8,3105.3 501.7,3100.5 513.5,3106.1 525.4,3096.6 537.3,3103.7 549.1,3099.7 561.0,3098.9 572.9,3098.9 584.7,3100.5 596.6,3098.1 608.5,3095.0 620.3,3095.0 632.2,3090.2 643.3,3090.2" fill="none" stroke="#2a9f93" stroke-width="2.2" stroke-linejoin="round" stroke-linecap="round"/>
</g>
<g id="p12">
<path d="M28.5,3164.2V3276.2 M40.3,3164.2V3276.2 M52.2,3164.2V3276.2 M64.0,3164.2V3276.2 M75.8,3164.2V3276.2 M87.7,3164.2V3276.2 M99.5,3164.2V3276.2 M111.3,3164.2V3276.2 M123.1,3164.2V3276.2 M135.0,3164.2V3276.2 M146.8,3164.2V3276.2 M158.6,3164.2V3276.2 M170.5,3164.2V3276.2 M182.3,3164.2V3276.2 M194.1,3164.2V3276.2 M205.9,3164.2V3276.2 M217.8,3164.2V3276.2 M229.6,3164.2V3276.2 M241.4,3164.2V3276.2 M253.3,3164.2V3276.2 M265.1,3164.2V3276.2 M276.9,3164.2V3276.2 M288.8,3164.2V3276.2 M300.6,3164.2V3276.2 M312.4,3164.2V3276.2 M324.2,3164.2V3276.2 M336.1,3164.2V3276.2 M347.9,3164.2V3276.2 M359.7,3164.2V3276.2 M371.6,3164.2V3276.2 M383.4,3164.2V3276.2 M395.2,3164.2V3276.2 M407.1,3164.2V3276.2 M418.9,3164.2V3276.2 M430.7,3164.2V3276.2 M442.6,3164.2V3276.2 M454.4,3164.2V3276.2 M466.2,3164.2V3276.2 M478.0,3164.2V3276.2 M489.9,3164.2V3276.2 M501.7,3164.2V3276.2 M513.5,3164.2V3276.2 M525.4,3164.2V3276.2 M537.2,3164.2V3276.2 M549.0,3164.2V3276.2 M560.9,3164.2V3276.2 M572.7,3164.2V3276.2 M584.5,3164.2V3276.2 M596.3,3164.2V3276.2 M608.2,3164.2V3276.2 M620.0,3164.2V3276.2 M631.8,3164.2V3276.2 M643.7,3164.2V3276.2 M655.5,3164.2V3276.2 M667.3,3164.2V3276.2 M679.1,3164.2V3276.2 M691.0,3164.2V3276.2 M702.8,3164.2V3276.2 M714.6,3164.2V3276.2 M726.5,3164.2V3276.2" stroke="#e2e2e6" stroke-width="1" stroke-dasharray="2.5,3.5" fill="none"/>
<line x1="20" y1="3163.2" x2="730" y2="3163.2" stroke="#ececef" stroke-width="1" stroke-dasharray="3,2"/>
<line x1="20" y1="3276.2" x2="730" y2="3276.2" stroke="#ececef" stroke-width="1" stroke-dasharray="3,2"/>
<line x1="20" y1="3185.3" x2="644" y2="3185.3" stroke="#c8c8cc" stroke-width="1" stroke-dasharray="7,6"/>
<line x1="20" y1="3219.3" x2="644" y2="3219.3" stroke="#c8c8cc" stroke-width="1" stroke-dasharray="7,6"/>
<line x1="20" y1="3253.4" x2="644" y2="3253.4" stroke="#c8c8cc" stroke-width="1" stroke-dasharray="7,6"/>
<circle cx="642.2" cy="3145.3" r="13.3" fill="#e3e3e6"/>
<path d="M635.8,3138.5 L648.6,3138.5 M642.2,3153.8 L642.2,3142.3 M637.5,3147.1 L642.2,3142.3 L646.9,3147.1" stroke="#fff" stroke-width="2.1" fill="none"/>
<circle cx="705" cy="3145.3" r="13.3" fill="#e3e3e6"/>
<path d="M699.3,3139.6 L710.7,3151.0 M710.7,3139.6 L699.3,3151.0" stroke="#fff" stroke-width="2.1"/>
<text x="20.0" y="3158.2" font-size="21.5" fill="#2d2d38" textLength="152.3" lengthAdjust="spacingAndGlyphs">SKDJ(9,3,50,20)</text>
<text x="185.6" y="3158.2" font-size="21.5" fill="#f2c21b" textLength="84.8" lengthAdjust="spacingAndGlyphs">K:47.176</text>
<text x="283.6" y="3158.2" font-size="21.5" fill="#ef7a3c" textLength="85.4" lengthAdjust="spacingAndGlyphs">D:35.916</text>
<polyline points="19.0,3239.1 29.2,3243.0 41.0,3243.0 53.0,3239.1 64.0,3236.0 76.0,3232.0 87.8,3233.6 99.7,3237.5 110.7,3247.0 122.6,3255.0 134.5,3252.6 146.3,3245.4 158.2,3235.2 170.0,3223.3 182.7,3207.5 194.6,3198.0 206.5,3190.0 218.3,3182.2 230.2,3178.2 242.0,3177.4 254.0,3177.4 265.0,3174.2 276.9,3173.4 288.7,3177.4 300.6,3187.7 312.5,3201.1 324.3,3213.8 336.2,3224.9 347.4,3229.6 365.6,3249.4 383.0,3260.5 406.7,3262.8 430.5,3261.3 454.2,3262.8 466.0,3265.2 478.0,3260.5 489.8,3253.4 501.7,3251.0 513.5,3253.4 525.4,3253.4 537.3,3256.5 549.1,3257.3 561.0,3256.5 572.9,3253.4 584.7,3256.5 596.6,3259.7 608.5,3254.9 620.3,3248.6 632.2,3235.2 643.3,3223.3" fill="none" stroke="#f2c21b" stroke-width="2.2" stroke-linejoin="round" stroke-linecap="round"/>
<polyline points="19.0,3231.2 29.2,3236.7 41.0,3241.5 53.0,3240.7 76.0,3235.2 99.7,3235.2 110.7,3241.5 122.6,3249.4 134.5,3253.4 146.3,3251.0 158.2,3243.0 170.0,3232.8 182.7,3220.9 194.6,3209.8 206.5,3199.6 218.3,3190.0 230.2,3183.7 242.0,3179.8 254.0,3177.4 265.0,3177.4 276.9,3175.8 288.7,3175.8 300.6,3182.2 312.5,3191.6 324.3,3203.5 336.2,3213.8 347.4,3221.7 365.6,3239.1 383.0,3253.4 406.7,3261.3 430.5,3260.5 454.2,3261.3 466.0,3263.6 478.0,3262.8 489.8,3258.9 501.7,3254.1 525.4,3253.4 549.1,3255.7 572.9,3254.9 596.6,3255.7 620.3,3254.1 632.2,3245.4 643.3,3236.0" fill="none" stroke="#ef7a3c" stroke-width="2.2" stroke-linejoin="round" stroke-linecap="round"/>
</g>
<g id="p13">
<path d="M28.5,3320.1V3432.1 M40.3,3320.1V3432.1 M52.2,3320.1V3432.1 M64.0,3320.1V3432.1 M75.8,3320.1V3432.1 M87.7,3320.1V3432.1 M99.5,3320.1V3432.1 M111.3,3320.1V3432.1 M123.1,3320.1V3432.1 M135.0,3320.1V3432.1 M146.8,3320.1V3432.1 M158.6,3320.1V3432.1 M170.5,3320.1V3432.1 M182.3,3320.1V3432.1 M194.1,3320.1V3432.1 M205.9,3320.1V3432.1 M217.8,3320.1V3432.1 M229.6,3320.1V3432.1 M241.4,3320.1V3432.1 M253.3,3320.1V3432.1 M265.1,3320.1V3432.1 M276.9,3320.1V3432.1 M288.8,3320.1V3432.1 M300.6,3320.1V3432.1 M312.4,3320.1V3432.1 M324.2,3320.1V3432.1 M336.1,3320.1V3432.1 M347.9,3320.1V3432.1 M359.7,3320.1V3432.1 M371.6,3320.1V3432.1 M383.4,3320.1V3432.1 M395.2,3320.1V3432.1 M407.1,3320.1V3432.1 M418.9,3320.1V3432.1 M430.7,3320.1V3432.1 M442.6,3320.1V3432.1 M454.4,3320.1V3432.1 M466.2,3320.1V3432.1 M478.0,3320.1V3432.1 M489.9,3320.1V3432.1 M501.7,3320.1V3432.1 M513.5,3320.1V3432.1 M525.4,3320.1V3432.1 M537.2,3320.1V3432.1 M549.0,3320.1V3432.1 M560.9,3320.1V3432.1 M572.7,3320.1V3432.1 M584.5,3320.1V3432.1 M596.3,3320.1V3432.1 M608.2,3320.1V3432.1 M620.0,3320.1V3432.1 M631.8,3320.1V3432.1 M643.7,3320.1V3432.1 M655.5,3320.1V3432.1 M667.3,3320.1V3432.1 M679.1,3320.1V3432.1 M691.0,3320.1V3432.1 M702.8,3320.1V3432.1 M714.6,3320.1V3432.1 M726.5,3320.1V3432.1" stroke="#e2e2e6" stroke-width="1" stroke-dasharray="2.5,3.5" fill="none"/>
<line x1="20" y1="3319.1" x2="730" y2="3319.1" stroke="#ececef" stroke-width="1" stroke-dasharray="3,2"/>
<line x1="20" y1="3432.1" x2="730" y2="3432.1" stroke="#ececef" stroke-width="1" stroke-dasharray="3,2"/>
<circle cx="642.2" cy="3301.2" r="13.3" fill="#e3e3e6"/>
<path d="M635.8,3294.4 L648.6,3294.4 M642.2,3309.7 L642.2,3298.2 M637.5,3303.0 L642.2,3298.2 L646.9,3303.0" stroke="#fff" stroke-width="2.1" fill="none"/>
<circle cx="705" cy="3301.2" r="13.3" fill="#e3e3e6"/>
<path d="M699.3,3295.5 L710.7,3306.9 M710.7,3295.5 L699.3,3306.9" stroke="#fff" stroke-width="2.1"/>
<text x="20.0" y="3314.1" font-size="21.5" fill="#2d2d38" textLength="105.4" lengthAdjust="spacingAndGlyphs">MTM(12,6)</text>
<text x="138.7" y="3314.1" font-size="21.5" fill="#f2c21b" textLength="115.2" lengthAdjust="spacingAndGlyphs">MTM:-0.124</text>
<text x="267.2" y="3314.1" font-size="21.5" fill="#6cb83a" textLength="148.2" lengthAdjust="spacingAndGlyphs">MTMMA:-0.224</text>
<polyline points="19.0,3403.0 29.2,3404.6 41.0,3404.6 53.0,3393.5 64.0,3392.7 76.0,3395.9 87.8,3392.7 99.7,3395.1 110.7,3409.4 122.6,3409.4 134.5,3404.6 146.3,3391.2 158.2,3385.6 170.0,3380.9 182.7,3385.6 194.6,3385.6 206.5,3385.6 218.3,3383.2 230.2,3379.3 242.0,3377.7 254.0,3367.4 265.0,3329.4 276.9,3339.7 288.7,3347.6 300.6,3353.2 312.5,3363.5 324.3,3369.0 336.3,3369.0 347.4,3365.0 359.3,3373.0 371.1,3375.3 383.0,3382.5 394.9,3384.0 406.7,3422.8 418.6,3417.3 430.5,3414.9 442.3,3409.4 454.2,3410.1 466.0,3404.6 478.0,3403.8 489.8,3410.9 501.7,3407.0 513.5,3412.5 525.4,3399.9 537.3,3407.0 549.1,3404.6 561.0,3404.6 572.9,3404.6 584.7,3405.4 596.6,3403.0 608.5,3398.3 620.3,3398.3 632.2,3393.5 643.3,3393.5" fill="none" stroke="#f2c21b" stroke-width="2.2" stroke-linejoin="round" stroke-linecap="round"/>
<polyline points="19.0,3403.0 41.0,3400.7 64.0,3399.9 87.8,3397.5 110.7,3395.1 134.5,3397.5 146.3,3399.9 170.0,3397.5 194.6,3391.2 218.3,3385.6 242.0,3383.2 254.0,3381.7 265.0,3375.3 276.9,3365.8 288.7,3357.9 300.6,3353.2 312.5,3350.8 324.3,3351.6 336.2,3357.1 347.4,3361.1 371.1,3368.2 394.9,3374.5 418.6,3393.5 442.3,3407.0 466.0,3412.5 489.8,3409.4 513.5,3407.8 537.3,3407.0 561.0,3406.2 584.7,3404.6 608.5,3402.2 632.2,3399.1 643.3,3398.3" fill="none" stroke="#6cb83a" stroke-width="2.2" stroke-linejoin="round" stroke-linecap="round"/>
</g>
<g id="p14">
<path d="M28.5,3476.0V3588.0 M40.3,3476.0V3588.0 M52.2,3476.0V3588.0 M64.0,3476.0V3588.0 M75.8,3476.0V3588.0 M87.7,3476.0V3588.0 M99.5,3476.0V3588.0 M111.3,3476.0V3588.0 M123.1,3476.0V3588.0 M135.0,3476.0V3588.0 M146.8,3476.0V3588.0 M158.6,3476.0V3588.0 M170.5,3476.0V3588.0 M182.3,3476.0V3588.0 M194.1,3476.0V3588.0 M205.9,3476.0V3588.0 M217.8,3476.0V3588.0 M229.6,3476.0V3588.0 M241.4,3476.0V3588.0 M253.3,3476.0V3588.0 M265.1,3476.0V3588.0 M276.9,3476.0V3588.0 M288.8,3476.0V3588.0 M300.6,3476.0V3588.0 M312.4,3476.0V3588.0 M324.2,3476.0V3588.0 M336.1,3476.0V3588.0 M347.9,3476.0V3588.0 M359.7,3476.0V3588.0 M371.6,3476.0V3588.0 M383.4,3476.0V3588.0 M395.2,3476.0V3588.0 M407.1,3476.0V3588.0 M418.9,3476.0V3588.0 M430.7,3476.0V3588.0 M442.6,3476.0V3588.0 M454.4,3476.0V3588.0 M466.2,3476.0V3588.0 M478.0,3476.0V3588.0 M489.9,3476.0V3588.0 M501.7,3476.0V3588.0 M513.5,3476.0V3588.0 M525.4,3476.0V3588.0 M537.2,3476.0V3588.0 M549.0,3476.0V3588.0 M560.9,3476.0V3588.0 M572.7,3476.0V3588.0 M584.5,3476.0V3588.0 M596.3,3476.0V3588.0 M608.2,3476.0V3588.0 M620.0,3476.0V3588.0 M631.8,3476.0V3588.0 M643.7,3476.0V3588.0 M655.5,3476.0V3588.0 M667.3,3476.0V3588.0 M679.1,3476.0V3588.0 M691.0,3476.0V3588.0 M702.8,3476.0V3588.0 M714.6,3476.0V3588.0 M726.5,3476.0V3588.0" stroke="#e2e2e6" stroke-width="1" stroke-dasharray="2.5,3.5" fill="none"/>
<line x1="20" y1="3475.0" x2="730" y2="3475.0" stroke="#ececef" stroke-width="1" stroke-dasharray="3,2"/>
<line x1="20" y1="3588.0" x2="730" y2="3588.0" stroke="#ececef" stroke-width="1" stroke-dasharray="3,2"/>
<circle cx="642.2" cy="3457.1" r="13.3" fill="#e3e3e6"/>
<path d="M635.8,3450.3 L648.6,3450.3 M642.2,3465.6 L642.2,3454.1 M637.5,3458.9 L642.2,3454.1 L646.9,3458.9" stroke="#fff" stroke-width="2.1" fill="none"/>
<circle cx="705" cy="3457.1" r="13.3" fill="#e3e3e6"/>
<path d="M699.3,3451.4 L710.7,3462.8 M710.7,3451.4 L699.3,3462.8" stroke="#fff" stroke-width="2.1"/>
<text x="20.0" y="3470.0" font-size="21.5" fill="#2d2d38" textLength="114.8" lengthAdjust="spacingAndGlyphs">ADTM(23,8)</text>
<text x="148.1" y="3470.0" font-size="21.5" fill="#ef7a3c" textLength="118.7" lengthAdjust="spacingAndGlyphs">ADTM:0.280</text>
<text x="280.0" y="3470.0" font-size="21.5" fill="#8f6fd8" textLength="104.3" lengthAdjust="spacingAndGlyphs">MA1:0.172</text>
<polyline points="19.0,3574.8 21.4,3574.8 24.7,3574.9 28.6,3574.9 32.8,3575.0 37.0,3574.9 41.0,3574.8 44.8,3574.6 48.6,3574.2 52.4,3573.8 56.2,3573.4 60.1,3572.9 64.0,3572.5 67.9,3572.1 71.9,3571.7 75.9,3571.3 79.9,3571.0 83.9,3570.5 87.8,3570.1 91.7,3569.7 95.5,3569.2 99.2,3568.8 103.0,3568.3 106.8,3567.7 110.7,3567.0 114.6,3566.2 118.6,3565.2 122.6,3564.2 126.5,3563.1 130.5,3561.9 134.5,3560.6 138.4,3559.2 142.4,3557.7 146.3,3556.1 150.2,3554.4 154.2,3552.8 158.2,3551.1 162.2,3549.4 166.3,3547.8 170.4,3546.1 174.6,3544.4 178.6,3542.6 182.7,3540.8 186.7,3538.9 190.7,3537.0 194.6,3535.0 198.6,3533.0 202.5,3531.0 206.5,3529.0 210.5,3527.0 214.4,3524.9 218.3,3522.8 222.3,3520.8 226.2,3518.9 230.2,3517.1 234.2,3515.5 238.2,3514.1 242.1,3512.8 246.1,3511.5 250.1,3510.3 254.0,3509.2 257.9,3508.2 261.7,3507.2 265.5,3506.4 269.2,3505.6 273.0,3504.6 276.9,3503.6 280.8,3502.4 284.7,3501.0 288.7,3499.5 292.7,3498.1 296.6,3496.8 300.6,3495.7 304.6,3494.8 308.6,3494.0 312.6,3493.4 316.6,3492.8 320.5,3492.3 324.3,3491.8 328.0,3491.3 331.7,3490.9 335.2,3490.5 338.7,3490.1 342.0,3489.7 345.0,3489.4 347.5,3489.0 349.5,3488.7 351.2,3488.4 353.2,3488.1 355.8,3487.9 359.3,3487.8 363.9,3487.9 369.2,3488.1 375.0,3488.4 381.4,3488.7 388.0,3489.1 394.9,3489.4 402.1,3489.6 409.8,3489.9 417.9,3490.1 426.1,3490.3 434.3,3490.6 442.3,3491.0 450.5,3491.4 459.0,3492.0 467.5,3492.5 475.7,3493.1 483.3,3493.7 489.8,3494.2 495.1,3494.7 499.5,3495.2 503.1,3495.6 506.5,3496.1 509.8,3496.7 513.5,3497.3 517.5,3498.0 521.4,3498.7 525.4,3499.4 529.4,3500.2 533.3,3501.1 537.3,3502.1 541.3,3503.3 545.2,3504.6 549.2,3506.0 553.1,3507.4 557.1,3508.8 561.0,3510.0 564.9,3511.0 568.9,3511.9 572.8,3512.8 576.8,3513.6 580.7,3514.5 584.7,3515.5 588.7,3516.7 592.6,3518.0 596.6,3519.4 600.6,3520.8 604.5,3522.1 608.5,3523.4 612.6,3524.6 616.9,3525.9 621.1,3527.1 625.2,3528.1 629.0,3529.1 632.2,3529.8 634.9,3530.3 637.2,3530.5 639.2,3530.6 640.9,3530.5 642.2,3530.5 643.3,3530.5" fill="none" stroke="#8f6fd8" stroke-width="2.2" stroke-linejoin="round" stroke-linecap="round"/>
<polyline points="19.0,3577.2 29.2,3574.8 41.0,3572.5 53.0,3568.5 64.0,3567.0 76.0,3559.0 87.8,3559.0 99.7,3561.4 110.7,3556.7 122.6,3551.1 134.5,3545.6 146.3,3531.3 158.2,3523.4 170.0,3523.4 182.7,3515.5 194.6,3511.6 206.5,3517.9 218.3,3503.6 230.2,3502.1 242.0,3505.2 254.0,3505.2 265.0,3499.7 276.9,3491.8 288.7,3486.2 300.6,3487.8 312.5,3487.8 324.3,3489.4 336.2,3489.4 359.3,3487.8 371.1,3491.8 383.0,3491.8 394.9,3489.4 418.6,3491.0 442.3,3491.0 454.2,3495.7 466.0,3497.3 489.8,3497.3 501.7,3495.7 513.5,3503.6 525.4,3505.2 537.3,3513.1 549.1,3523.4 561.0,3535.3 572.9,3521.0 584.7,3531.3 596.6,3531.3 608.5,3527.4 620.3,3535.3 632.2,3539.2 643.3,3525.0" fill="none" stroke="#ef7a3c" stroke-width="2.2" stroke-linejoin="round" stroke-linecap="round"/>
</g>
<g id="p15">
<path d="M28.5,3631.9V3743.9 M40.3,3631.9V3743.9 M52.2,3631.9V3743.9 M64.0,3631.9V3743.9 M75.8,3631.9V3743.9 M87.7,3631.9V3743.9 M99.5,3631.9V3743.9 M111.3,3631.9V3743.9 M123.1,3631.9V3743.9 M135.0,3631.9V3743.9 M146.8,3631.9V3743.9 M158.6,3631.9V3743.9 M170.5,3631.9V3743.9 M182.3,3631.9V3743.9 M194.1,3631.9V3743.9 M205.9,3631.9V3743.9 M217.8,3631.9V3743.9 M229.6,3631.9V3743.9 M241.4,3631.9V3743.9 M253.3,3631.9V3743.9 M265.1,3631.9V3743.9 M276.9,3631.9V3743.9 M288.8,3631.9V3743.9 M300.6,3631.9V3743.9 M312.4,3631.9V3743.9 M324.2,3631.9V3743.9 M336.1,3631.9V3743.9 M347.9,3631.9V3743.9 M359.7,3631.9V3743.9 M371.6,3631.9V3743.9 M383.4,3631.9V3743.9 M395.2,3631.9V3743.9 M407.1,3631.9V3743.9 M418.9,3631.9V3743.9 M430.7,3631.9V3743.9 M442.6,3631.9V3743.9 M454.4,3631.9V3743.9 M466.2,3631.9V3743.9 M478.0,3631.9V3743.9 M489.9,3631.9V3743.9 M501.7,3631.9V3743.9 M513.5,3631.9V3743.9 M525.4,3631.9V3743.9 M537.2,3631.9V3743.9 M549.0,3631.9V3743.9 M560.9,3631.9V3743.9 M572.7,3631.9V3743.9 M584.5,3631.9V3743.9 M596.3,3631.9V3743.9 M608.2,3631.9V3743.9 M620.0,3631.9V3743.9 M631.8,3631.9V3743.9 M643.7,3631.9V3743.9 M655.5,3631.9V3743.9 M667.3,3631.9V3743.9 M679.1,3631.9V3743.9 M691.0,3631.9V3743.9 M702.8,3631.9V3743.9 M714.6,3631.9V3743.9 M726.5,3631.9V3743.9" stroke="#e2e2e6" stroke-width="1" stroke-dasharray="2.5,3.5" fill="none"/>
<line x1="20" y1="3630.9" x2="730" y2="3630.9" stroke="#ececef" stroke-width="1" stroke-dasharray="3,2"/>
<line x1="20" y1="3743.9" x2="730" y2="3743.9" stroke="#ececef" stroke-width="1" stroke-dasharray="3,2"/>
<circle cx="642.2" cy="3613.0" r="13.3" fill="#e3e3e6"/>
<path d="M635.8,3606.2 L648.6,3606.2 M642.2,3621.5 L642.2,3610.0 M637.5,3614.8 L642.2,3610.0 L646.9,3614.8" stroke="#fff" stroke-width="2.1" fill="none"/>
<circle cx="705" cy="3613.0" r="13.3" fill="#e3e3e6"/>
<path d="M699.3,3607.3 L710.7,3618.7 M710.7,3607.3 L699.3,3618.7" stroke="#fff" stroke-width="2.1"/>
<text x="20.0" y="3625.9" font-size="21.5" fill="#2d2d38" textLength="139.4" lengthAdjust="spacingAndGlyphs">CR(23,5,10,30)</text>
<text x="172.7" y="3625.9" font-size="21.5" fill="#c64fd6" textLength="98.5" lengthAdjust="spacingAndGlyphs">CR:48.930</text>
<text x="284.5" y="3625.9" font-size="21.5" fill="#f2c21b" textLength="116.4" lengthAdjust="spacingAndGlyphs">MA1:43.292</text>
<text x="414.2" y="3625.9" font-size="21.5" fill="#ef7a3c" textLength="116.4" lengthAdjust="spacingAndGlyphs">MA2:66.805</text>
<text x="543.8" y="3625.9" font-size="21.5" fill="#4a7fdc" textLength="128.4" lengthAdjust="spacingAndGlyphs">MA3:125.349</text>
<polyline points="19.0,3707.9 24.1,3708.2 31.2,3708.6 39.5,3709.2 48.6,3709.7 57.8,3710.4 66.5,3711.0 74.9,3711.7 83.4,3712.4 92.0,3713.1 100.7,3713.9 109.4,3714.8 118.0,3715.7 126.5,3716.7 134.9,3717.8 143.2,3719.0 151.7,3720.2 160.5,3721.4 169.6,3722.4 179.3,3723.4 189.6,3724.3 200.1,3725.3 210.6,3726.1 220.6,3726.9 230.0,3727.5 238.8,3728.0 247.3,3728.4 255.4,3728.6 263.0,3728.8 270.1,3729.0 276.5,3729.1 282.0,3729.2 286.6,3729.3 290.7,3729.3 294.5,3729.3 298.2,3729.2 302.3,3729.1 306.6,3728.9 310.9,3728.7 315.1,3728.5 319.4,3728.2 323.7,3727.8 328.0,3727.5 332.3,3727.1 336.6,3726.7 340.9,3726.3 345.3,3725.8 349.6,3725.3 353.9,3724.9 358.2,3724.5 362.5,3724.1 366.8,3723.7 371.0,3723.2 375.3,3722.8 379.6,3722.4 383.8,3722.0 387.9,3721.7 391.9,3721.4 396.1,3721.0 400.6,3720.5 405.4,3719.8 410.7,3718.9 416.6,3717.9 422.6,3716.7 428.7,3715.4 434.6,3714.2 440.0,3713.1 444.8,3712.0 449.3,3711.0 453.5,3709.9 457.7,3708.9 462.1,3707.9 467.0,3706.9 472.4,3706.0 478.0,3705.1 483.9,3704.2 490.0,3703.4 496.0,3702.5 502.0,3701.7 508.0,3700.8 514.0,3699.9 520.0,3699.0 526.0,3698.2 532.0,3697.4 538.0,3696.6 543.9,3695.9 549.7,3695.2 555.5,3694.6 561.3,3694.0 567.1,3693.5 573.0,3693.0 579.0,3692.6 585.0,3692.3 591.1,3692.0 597.2,3691.8 603.2,3691.6 609.2,3691.4 615.5,3691.2 622.1,3691.0 628.8,3690.8 634.9,3690.6 640.1,3690.5 643.8,3690.4" fill="none" stroke="#4a7fdc" stroke-width="2.2" stroke-linejoin="round" stroke-linecap="round"/>
<polyline points="19.0,3735.2 24.3,3734.9 31.8,3734.5 40.7,3734.0 49.9,3733.6 58.8,3733.1 66.5,3732.7 73.0,3732.4 79.1,3732.1 84.8,3731.9 90.1,3731.6 95.2,3731.4 100.0,3731.1 104.4,3730.8 108.4,3730.4 112.0,3730.1 115.6,3729.8 119.2,3729.4 123.0,3729.1 127.1,3728.8 131.3,3728.5 135.5,3728.3 139.8,3728.0 143.9,3727.8 148.0,3727.5 151.9,3727.3 155.7,3727.0 159.4,3726.8 163.1,3726.5 166.9,3726.3 170.7,3726.0 174.6,3725.7 178.5,3725.4 182.5,3725.1 186.5,3724.8 190.5,3724.4 194.4,3723.9 198.4,3723.3 202.6,3722.6 206.7,3721.8 210.7,3721.1 214.4,3720.4 217.6,3719.8 220.2,3719.4 222.2,3719.1 223.9,3718.9 225.6,3718.6 227.6,3718.4 230.0,3718.0 232.9,3717.5 236.1,3717.0 239.6,3716.5 243.2,3715.9 247.0,3715.3 250.8,3714.6 254.8,3713.9 259.0,3713.1 263.3,3712.2 267.7,3711.3 272.2,3710.4 276.5,3709.5 280.8,3708.5 285.2,3707.5 289.6,3706.4 293.9,3705.3 298.1,3704.3 302.3,3703.3 306.3,3702.5 310.2,3701.7 314.1,3701.1 317.9,3700.3 321.7,3699.3 325.5,3698.1 329.4,3696.4 333.2,3694.4 337.1,3692.2 341.0,3690.0 344.8,3688.0 348.7,3686.3 352.6,3685.0 356.4,3684.0 360.3,3683.1 364.2,3682.4 368.1,3681.7 372.0,3681.1 376.0,3680.5 380.0,3680.1 384.0,3679.7 388.0,3679.3 392.0,3679.0 396.0,3678.5 400.1,3677.9 404.4,3677.3 408.7,3676.6 412.8,3675.9 416.6,3675.3 419.8,3674.9 422.4,3674.6 424.5,3674.5 426.3,3674.4 427.9,3674.4 429.4,3674.4 431.0,3674.4 432.6,3674.4 434.0,3674.4 435.3,3674.5 436.7,3674.6 438.2,3674.8 440.0,3675.0 442.1,3675.3 444.5,3675.7 447.1,3676.1 449.7,3676.5 452.2,3677.0 454.6,3677.5 456.7,3678.0 458.5,3678.6 460.2,3679.1 462.1,3679.7 464.3,3680.4 467.0,3681.1 470.3,3681.9 474.0,3682.8 478.1,3683.8 482.3,3684.7 486.6,3685.6 490.7,3686.3 494.7,3686.9 498.8,3687.3 502.9,3687.6 507.0,3687.9 511.0,3688.4 515.0,3688.9 518.9,3689.6 522.8,3690.5 526.6,3691.4 530.4,3692.3 534.2,3693.2 538.0,3694.0 541.9,3694.7 545.7,3695.3 549.6,3695.9 553.5,3696.4 557.4,3697.0 561.3,3697.6 565.3,3698.2 569.3,3698.8 573.4,3699.4 577.4,3700.0 581.5,3700.8 585.5,3701.7 589.5,3702.8 593.5,3704.1 597.4,3705.5 601.4,3706.9 605.3,3708.2 609.2,3709.5 613.2,3710.7 617.4,3711.8 621.6,3712.9 625.6,3713.9 629.2,3714.9 632.4,3715.7 635.1,3716.4 637.5,3717.1 639.5,3717.6 641.3,3718.1 642.7,3718.5 643.8,3718.8" fill="none" stroke="#ef7a3c" stroke-width="2.2" stroke-linejoin="round" stroke-linecap="round"/>
<polyline points="19.0,3734.2 24.3,3733.9 31.8,3733.5 40.7,3733.0 49.9,3732.5 58.8,3732.0 66.5,3731.6 73.0,3731.3 79.1,3731.2 84.8,3731.0 90.1,3730.8 95.2,3730.6 100.0,3730.1 104.4,3729.4 108.4,3728.5 112.0,3727.6 115.6,3726.6 119.2,3725.7 123.0,3724.9 127.1,3724.3 131.3,3723.9 135.5,3723.5 139.8,3723.1 143.9,3722.8 148.0,3722.4 151.9,3722.0 155.7,3721.6 159.4,3721.3 163.1,3720.9 166.9,3720.4 170.7,3719.8 174.6,3719.1 178.5,3718.3 182.5,3717.4 186.5,3716.5 190.5,3715.6 194.4,3714.6 198.4,3713.6 202.6,3712.5 206.7,3711.3 210.7,3710.2 214.4,3709.2 217.6,3708.4 220.3,3707.7 222.6,3707.2 224.5,3706.8 226.3,3706.4 228.1,3706.1 230.0,3705.9 231.8,3705.8 233.4,3705.9 235.0,3706.0 236.8,3706.1 238.9,3706.1 241.5,3705.9 244.7,3705.4 248.5,3704.8 252.6,3704.0 256.8,3703.2 261.1,3702.4 265.2,3701.7 269.3,3701.1 273.6,3700.6 278.0,3700.1 282.2,3699.5 286.0,3698.9 289.4,3698.1 292.2,3697.2 294.6,3696.1 296.6,3694.9 298.5,3693.7 300.4,3692.6 302.3,3691.4 304.3,3690.3 306.2,3689.3 308.1,3688.3 309.9,3687.3 311.8,3686.1 313.7,3684.7 315.7,3683.0 317.7,3681.1 319.7,3679.0 321.7,3677.0 323.6,3675.0 325.5,3673.4 327.3,3672.0 328.9,3670.8 330.6,3669.8 332.2,3668.8 334.0,3668.0 335.8,3667.2 337.8,3666.4 340.0,3665.7 342.2,3665.1 344.4,3664.6 346.6,3664.2 348.7,3664.1 350.7,3664.2 352.6,3664.6 354.4,3665.1 356.2,3665.8 358.1,3666.5 360.0,3667.2 362.0,3667.9 364.0,3668.7 366.0,3669.5 368.0,3670.4 370.0,3671.4 372.0,3672.4 374.0,3673.6 375.9,3675.0 377.9,3676.4 379.8,3677.8 381.8,3679.1 383.8,3680.1 385.7,3680.8 387.4,3681.4 389.1,3681.8 391.1,3682.1 393.3,3682.4 396.0,3682.7 399.3,3683.0 403.2,3683.2 407.4,3683.4 411.7,3683.5 415.9,3683.6 419.8,3683.7 423.4,3683.7 427.0,3683.7 430.5,3683.7 433.8,3683.6 437.0,3683.6 440.0,3683.7 442.6,3683.8 444.9,3684.0 447.0,3684.2 449.2,3684.4 451.7,3684.7 454.6,3685.2 458.1,3685.8 462.0,3686.5 466.2,3687.3 470.5,3688.1 474.7,3689.0 478.8,3689.9 482.7,3690.8 486.5,3691.7 490.4,3692.7 494.2,3693.7 498.1,3694.7 502.0,3695.6 506.1,3696.5 510.2,3697.4 514.4,3698.3 518.6,3699.1 522.8,3699.9 526.8,3700.7 530.8,3701.4 534.9,3702.0 538.9,3702.7 542.7,3703.2 546.3,3703.8 549.4,3704.3 552.0,3704.8 554.2,3705.1 556.0,3705.5 557.7,3705.9 559.5,3706.3 561.3,3706.9 563.3,3707.6 565.2,3708.4 567.1,3709.3 569.0,3710.2 571.0,3711.1 573.0,3712.0 575.0,3712.9 577.1,3713.7 579.2,3714.6 581.3,3715.5 583.4,3716.3 585.5,3717.2 587.5,3718.1 589.5,3719.0 591.5,3719.9 593.5,3720.7 595.4,3721.6 597.4,3722.4 599.4,3723.2 601.4,3723.9 603.3,3724.6 605.3,3725.3 607.3,3725.9 609.2,3726.5 611.1,3727.0 613.0,3727.5 614.9,3728.0 616.8,3728.4 618.7,3728.8 620.6,3729.1 622.5,3729.4 624.5,3729.6 626.5,3729.8 628.5,3729.9 630.5,3730.0 632.4,3730.1 634.5,3730.2 636.7,3730.2 638.8,3730.2 640.9,3730.1 642.6,3730.1 643.8,3730.1" fill="none" stroke="#f2c21b" stroke-width="2.2" stroke-linejoin="round" stroke-linecap="round"/>
<polyline points="19.0,3733.7 40.8,3730.1 52.0,3727.5 64.0,3724.9 76.9,3722.4 89.7,3723.9 100.0,3723.4 112.0,3721.3 123.0,3719.8 136.0,3715.7 148.0,3708.4 159.0,3708.4 170.7,3708.4 182.5,3703.3 194.4,3702.8 205.7,3705.9 217.6,3695.0 230.0,3694.0 241.5,3700.7 253.4,3695.0 265.2,3672.4 276.5,3664.1 289.4,3641.4 301.3,3668.2 313.7,3674.4 325.5,3687.3 335.8,3687.8 348.7,3684.7 360.0,3682.2 372.0,3680.1 383.8,3682.7 396.0,3681.1 408.0,3688.9 419.8,3691.4 431.0,3694.0 440.0,3695.0 454.6,3698.1 467.0,3699.2 478.8,3703.3 490.7,3705.4 502.0,3704.3 515.0,3709.5 526.8,3710.5 538.0,3726.5 549.4,3727.5 561.3,3732.7 573.0,3727.5 585.5,3730.1 597.4,3729.1 609.2,3727.5 620.6,3731.6 632.4,3729.1 643.8,3726.5" fill="none" stroke="#c64fd6" stroke-width="2.2" stroke-linejoin="round" stroke-linecap="round"/>
</g>
<g id="p16">
<path d="M28.5,3787.8V3899.8 M40.3,3787.8V3899.8 M52.2,3787.8V3899.8 M64.0,3787.8V3899.8 M75.8,3787.8V3899.8 M87.7,3787.8V3899.8 M99.5,3787.8V3899.8 M111.3,3787.8V3899.8 M123.1,3787.8V3899.8 M135.0,3787.8V3899.8 M146.8,3787.8V3899.8 M158.6,3787.8V3899.8 M170.5,3787.8V3899.8 M182.3,3787.8V3899.8 M194.1,3787.8V3899.8 M205.9,3787.8V3899.8 M217.8,3787.8V3899.8 M229.6,3787.8V3899.8 M241.4,3787.8V3899.8 M253.3,3787.8V3899.8 M265.1,3787.8V3899.8 M276.9,3787.8V3899.8 M288.8,3787.8V3899.8 M300.6,3787.8V3899.8 M312.4,3787.8V3899.8 M324.2,3787.8V3899.8 M336.1,3787.8V3899.8 M347.9,3787.8V3899.8 M359.7,3787.8V3899.8 M371.6,3787.8V3899.8 M383.4,3787.8V3899.8 M395.2,3787.8V3899.8 M407.1,3787.8V3899.8 M418.9,3787.8V3899.8 M430.7,3787.8V3899.8 M442.6,3787.8V3899.8 M454.4,3787.8V3899.8 M466.2,3787.8V3899.8 M478.0,3787.8V3899.8 M489.9,3787.8V3899.8 M501.7,3787.8V3899.8 M513.5,3787.8V3899.8 M525.4,3787.8V3899.8 M537.2,3787.8V3899.8 M549.0,3787.8V3899.8 M560.9,3787.8V3899.8 M572.7,3787.8V3899.8 M584.5,3787.8V3899.8 M596.3,3787.8V3899.8 M608.2,3787.8V3899.8 M620.0,3787.8V3899.8 M631.8,3787.8V3899.8 M643.7,3787.8V3899.8 M655.5,3787.8V3899.8 M667.3,3787.8V3899.8 M679.1,3787.8V3899.8 M691.0,3787.8V3899.8 M702.8,3787.8V3899.8 M714.6,3787.8V3899.8 M726.5,3787.8V3899.8" stroke="#e2e2e6" stroke-width="1" stroke-dasharray="2.5,3.5" fill="none"/>
<line x1="20" y1="3786.8" x2="730" y2="3786.8" stroke="#ececef" stroke-width="1" stroke-dasharray="3,2"/>
<line x1="20" y1="3899.8" x2="730" y2="3899.8" stroke="#ececef" stroke-width="1" stroke-dasharray="3,2"/>
<circle cx="642.2" cy="3768.9" r="13.3" fill="#e3e3e6"/>
<path d="M635.8,3762.1 L648.6,3762.1 M642.2,3777.4 L642.2,3765.9 M637.5,3770.7 L642.2,3765.9 L646.9,3770.7" stroke="#fff" stroke-width="2.1" fill="none"/>
<circle cx="705" cy="3768.9" r="13.3" fill="#e3e3e6"/>
<path d="M699.3,3763.2 L710.7,3774.6 M710.7,3763.2 L699.3,3774.6" stroke="#fff" stroke-width="2.1"/>
<text x="20.0" y="3781.8" font-size="21.5" fill="#2d2d38" textLength="118.3" lengthAdjust="spacingAndGlyphs">TRIX(12, 20)</text>
<text x="151.6" y="3781.8" font-size="21.5" fill="#b0389e" textLength="110.7" lengthAdjust="spacingAndGlyphs">TRIX:-0.706</text>
<text x="275.7" y="3781.8" font-size="21.5" fill="#8f6fd8" textLength="124.2" lengthAdjust="spacingAndGlyphs">TRMA:-0.321</text>
<polyline points="19.0,3881.1 22.0,3881.5 26.0,3882.0 30.8,3882.6 36.1,3883.2 41.4,3883.8 46.6,3884.3 51.6,3884.7 56.6,3885.2 61.7,3885.6 67.0,3885.9 72.5,3886.3 78.3,3886.6 84.4,3886.9 90.9,3887.3 97.6,3887.6 104.3,3887.9 111.1,3888.1 117.8,3888.2 124.4,3888.2 131.0,3888.2 137.6,3888.1 144.2,3888.0 150.8,3887.7 157.4,3887.4 164.0,3886.9 170.6,3886.4 177.2,3885.8 183.8,3885.0 190.4,3884.3 197.0,3883.5 203.7,3882.7 210.5,3881.8 217.2,3880.8 223.9,3879.9 230.4,3878.9 236.5,3877.9 242.2,3876.9 247.6,3876.0 252.8,3875.0 257.9,3874.0 263.0,3872.8 268.2,3871.6 273.6,3870.2 279.0,3868.7 284.5,3867.0 289.9,3865.4 295.0,3863.7 299.8,3862.1 304.2,3860.5 308.4,3858.8 312.3,3857.2 316.1,3855.6 319.8,3854.0 323.5,3852.6 327.3,3851.3 331.0,3850.2 334.7,3849.1 338.3,3848.0 341.7,3847.0 345.0,3846.0 347.9,3845.0 350.3,3844.1 352.7,3843.2 355.1,3842.2 358.0,3841.2 361.6,3840.0 366.0,3838.6 371.1,3837.0 376.5,3835.4 382.2,3833.7 387.8,3832.0 393.3,3830.5 398.6,3829.1 403.8,3827.6 409.1,3826.3 414.4,3824.9 419.6,3823.7 424.9,3822.6 430.2,3821.6 435.5,3820.7 440.7,3819.9 446.0,3819.1 451.3,3818.4 456.6,3817.8 461.9,3817.2 467.1,3816.6 472.4,3816.1 477.7,3815.7 482.9,3815.4 488.2,3815.4 493.5,3815.6 498.8,3815.9 504.1,3816.5 509.3,3817.1 514.6,3817.8 519.9,3818.6 525.2,3819.5 530.4,3820.4 535.7,3821.5 541.0,3822.6 546.2,3823.7 551.5,3824.9 556.8,3826.1 562.1,3827.4 567.4,3828.7 572.6,3830.1 577.9,3831.5 583.2,3832.8 588.5,3834.1 593.9,3835.5 599.2,3836.8 604.5,3838.1 609.7,3839.5 614.8,3840.8 620.1,3842.2 625.6,3843.7 631.0,3845.3 636.0,3846.7 640.2,3847.8 643.3,3848.7" fill="none" stroke="#8f6fd8" stroke-width="2.2" stroke-linejoin="round" stroke-linecap="round"/>
<polyline points="19.0,3891.4 22.0,3891.3 26.0,3891.1 30.8,3890.8 36.1,3890.6 41.4,3890.2 46.6,3889.8 51.7,3889.3 57.2,3888.6 62.7,3887.9 68.2,3887.2 73.4,3886.4 78.3,3885.8 82.6,3885.2 86.5,3884.6 90.1,3884.1 93.8,3883.6 97.7,3883.1 102.0,3882.7 106.9,3882.4 112.3,3882.2 117.8,3882.0 123.4,3881.8 128.8,3881.5 133.7,3881.1 138.0,3880.6 141.9,3880.0 145.6,3879.3 149.2,3878.5 153.1,3877.5 157.4,3876.4 162.2,3875.0 167.3,3873.4 172.7,3871.6 178.2,3869.7 183.6,3867.9 189.0,3866.1 194.3,3864.4 199.6,3862.6 204.8,3860.9 210.1,3859.2 215.4,3857.5 220.7,3855.8 226.1,3854.2 231.7,3852.7 237.2,3851.2 242.6,3849.6 247.7,3848.0 252.3,3846.3 256.3,3844.5 259.8,3842.7 262.9,3840.7 265.9,3838.7 268.9,3836.6 272.1,3834.4 275.4,3831.9 278.8,3829.3 282.2,3826.5 285.6,3823.7 288.8,3821.1 291.9,3818.6 294.8,3816.3 297.5,3814.2 300.0,3812.1 302.6,3810.2 305.1,3808.4 307.7,3806.7 310.3,3805.2 312.7,3803.8 315.2,3802.5 317.8,3801.4 320.5,3800.4 323.5,3799.5 326.8,3798.7 330.4,3798.1 334.1,3797.5 338.0,3797.2 341.9,3797.1 345.8,3797.2 349.6,3797.6 353.3,3798.3 357.1,3799.1 361.0,3800.2 365.2,3801.4 369.6,3802.8 374.4,3804.5 379.6,3806.4 384.9,3808.6 390.4,3810.7 395.8,3812.8 401.2,3814.6 406.5,3816.1 411.7,3817.5 417.0,3818.7 422.3,3819.9 427.5,3821.2 432.8,3822.6 438.1,3824.2 443.4,3825.9 448.7,3827.6 453.9,3829.4 459.2,3831.1 464.5,3832.8 469.8,3834.4 475.0,3836.0 480.3,3837.6 485.6,3839.2 490.8,3840.7 496.1,3842.3 501.4,3843.9 506.7,3845.5 511.9,3847.2 517.2,3848.8 522.5,3850.3 527.8,3851.8 533.1,3853.2 538.3,3854.7 543.6,3856.0 548.9,3857.4 554.1,3858.6 559.4,3859.7 564.7,3860.7 569.9,3861.6 575.2,3862.4 580.5,3863.2 585.7,3863.9 591.0,3864.5 596.4,3865.1 602.0,3865.6 607.5,3866.1 613.0,3866.4 618.1,3866.7 622.7,3866.9 627.0,3866.9 631.2,3866.8 635.0,3866.7 638.4,3866.4 641.2,3866.2 643.3,3866.1" fill="none" stroke="#b0389e" stroke-width="2.2" stroke-linejoin="round" stroke-linecap="round"/>
</g>
<g id="p17">
<path d="M28.5,3943.7V4055.7 M40.3,3943.7V4055.7 M52.2,3943.7V4055.7 M64.0,3943.7V4055.7 M75.8,3943.7V4055.7 M87.7,3943.7V4055.7 M99.5,3943.7V4055.7 M111.3,3943.7V4055.7 M123.1,3943.7V4055.7 M135.0,3943.7V4055.7 M146.8,3943.7V4055.7 M158.6,3943.7V4055.7 M170.5,3943.7V4055.7 M182.3,3943.7V4055.7 M194.1,3943.7V4055.7 M205.9,3943.7V4055.7 M217.8,3943.7V4055.7 M229.6,3943.7V4055.7 M241.4,3943.7V4055.7 M253.3,3943.7V4055.7 M265.1,3943.7V4055.7 M276.9,3943.7V4055.7 M288.8,3943.7V4055.7 M300.6,3943.7V4055.7 M312.4,3943.7V4055.7 M324.2,3943.7V4055.7 M336.1,3943.7V4055.7 M347.9,3943.7V4055.7 M359.7,3943.7V4055.7 M371.6,3943.7V4055.7 M383.4,3943.7V4055.7 M395.2,3943.7V4055.7 M407.1,3943.7V4055.7 M418.9,3943.7V4055.7 M430.7,3943.7V4055.7 M442.6,3943.7V4055.7 M454.4,3943.7V4055.7 M466.2,3943.7V4055.7 M478.0,3943.7V4055.7 M489.9,3943.7V4055.7 M501.7,3943.7V4055.7 M513.5,3943.7V4055.7 M525.4,3943.7V4055.7 M537.2,3943.7V4055.7 M549.0,3943.7V4055.7 M560.9,3943.7V4055.7 M572.7,3943.7V4055.7 M584.5,3943.7V4055.7 M596.3,3943.7V4055.7 M608.2,3943.7V4055.7 M620.0,3943.7V4055.7 M631.8,3943.7V4055.7 M643.7,3943.7V4055.7 M655.5,3943.7V4055.7 M667.3,3943.7V4055.7 M679.1,3943.7V4055.7 M691.0,3943.7V4055.7 M702.8,3943.7V4055.7 M714.6,3943.7V4055.7 M726.5,3943.7V4055.7" stroke="#e2e2e6" stroke-width="1" stroke-dasharray="2.5,3.5" fill="none"/>
<line x1="20" y1="3942.7" x2="730" y2="3942.7" stroke="#ececef" stroke-width="1" stroke-dasharray="3,2"/>
<line x1="20" y1="4055.7" x2="730" y2="4055.7" stroke="#ececef" stroke-width="1" stroke-dasharray="3,2"/>
<circle cx="642.2" cy="3924.8" r="13.3" fill="#e3e3e6"/>
<path d="M635.8,3918.0 L648.6,3918.0 M642.2,3933.3 L642.2,3921.8 M637.5,3926.6 L642.2,3921.8 L646.9,3926.6" stroke="#fff" stroke-width="2.1" fill="none"/>
<circle cx="705" cy="3924.8" r="13.3" fill="#e3e3e6"/>
<path d="M699.3,3919.1 L710.7,3930.5 M710.7,3919.1 L699.3,3930.5" stroke="#fff" stroke-width="2.1"/>
<text x="20.0" y="3937.7" font-size="21.5" fill="#2d2d38" textLength="129.9" lengthAdjust="spacingAndGlyphs">BIAS(6,12,24)</text>
<text x="163.2" y="3937.7" font-size="21.5" fill="#d23c76" textLength="117.5" lengthAdjust="spacingAndGlyphs">BIAS6:1.772</text>
<text x="294.1" y="3937.7" font-size="21.5" fill="#8f6fd8" textLength="129.6" lengthAdjust="spacingAndGlyphs">BIAS12:1.005</text>
<text x="437.0" y="3937.7" font-size="21.5" fill="#8b4a1c" textLength="135.5" lengthAdjust="spacingAndGlyphs">BIAS24:-4.827</text>
<polyline points="19.0,4045.8 29.2,4041.8 41.0,4035.5 53.0,4034.0 64.0,4030.0 76.0,4026.8 87.8,4032.4 99.7,4032.4 110.7,4037.9 122.6,4036.3 134.5,4030.0 146.3,4020.5 158.2,4022.1 170.0,4014.2 182.7,4014.2 194.6,4015.7 206.5,4012.6 218.3,4010.2 230.2,4008.6 242.0,4008.6 254.0,4003.9 265.0,3953.2 276.9,3961.2 288.7,3969.1 300.6,3978.6 312.5,3988.0 324.3,3998.3 336.2,4001.5 347.4,3996.0 359.3,4003.9 371.1,4008.6 383.0,4018.1 394.9,4016.5 406.7,4020.5 418.6,4020.5 430.5,4022.1 442.3,4024.4 454.2,4030.0 466.0,4032.4 478.0,4032.4 489.8,4034.0 501.7,4034.0 513.5,4043.4 525.4,4035.5 537.3,4043.4 549.1,4037.9 561.0,4035.5 572.9,4032.4 584.7,4036.3 596.6,4036.3 608.5,4031.6 620.3,4031.6 632.2,4024.4 643.3,4023.7" fill="none" stroke="#8b4a1c" stroke-width="2.2" stroke-linejoin="round" stroke-linecap="round"/>
<polyline points="19.0,4031.6 29.2,4027.6 41.0,4020.5 53.0,4018.1 64.0,4015.7 76.0,4014.2 87.8,4020.5 99.7,4022.1 110.7,4026.0 122.6,4024.4 134.5,4019.7 146.3,4011.8 158.2,4015.7 170.0,4007.0 182.7,4011.8 194.6,4012.6 206.5,4010.2 218.3,4006.2 230.2,4007.0 242.0,4008.6 254.0,4004.7 265.0,3961.2 276.9,3978.6 288.7,3986.5 300.6,3994.4 312.5,4004.7 324.3,4014.2 336.2,4018.1 347.4,4012.6 359.3,4019.7 371.1,4022.1 383.0,4031.6 394.9,4030.0 406.7,4028.4 418.6,4026.0 430.5,4023.7 442.3,4023.7 454.2,4026.0 466.0,4026.0 478.0,4026.0 489.8,4026.0 501.7,4026.0 513.5,4034.0 525.4,4027.6 537.3,4031.6 549.1,4027.6 561.0,4024.4 572.9,4022.1 584.7,4026.0 596.6,4026.0 608.5,4020.5 620.3,4020.5 632.2,4014.2 643.3,4014.2" fill="none" stroke="#8f6fd8" stroke-width="2.2" stroke-linejoin="round" stroke-linecap="round"/>
<polyline points="19.0,4030.0 29.2,4026.0 41.0,4018.1 53.0,4015.7 64.0,4011.8 76.0,4010.2 87.8,4018.1 99.7,4020.5 110.7,4027.6 122.6,4026.0 134.5,4018.1 146.3,4008.6 158.2,4012.6 170.0,4004.7 182.7,4010.2 194.6,4014.2 206.5,4012.6 218.3,4010.2 230.2,4011.8 242.0,4012.6 254.0,4007.8 265.0,3954.8 276.9,3978.6 288.7,3990.4 300.6,4002.3 312.5,4015.7 324.3,4030.0 336.2,4027.0 347.4,4018.1 359.3,4020.5 371.1,4020.5 383.0,4026.0 394.9,4022.1 406.7,4020.5 418.6,4019.7 430.5,4018.1 442.3,4018.1 454.2,4022.1 466.0,4022.1 478.0,4020.5 489.8,4019.7 501.7,4019.7 513.5,4026.0 525.4,4018.1 537.3,4023.7 549.1,4019.7 561.0,4016.5 572.9,4015.7 584.7,4019.7 596.6,4019.7 608.5,4015.7 620.3,4016.5 632.2,4011.8 643.3,4012.6" fill="none" stroke="#d23c76" stroke-width="2.2" stroke-linejoin="round" stroke-linecap="round"/>
</g>
<g id="p18">
<path d="M28.5,4099.6V4211.6 M40.3,4099.6V4211.6 M52.2,4099.6V4211.6 M64.0,4099.6V4211.6 M75.8,4099.6V4211.6 M87.7,4099.6V4211.6 M99.5,4099.6V4211.6 M111.3,4099.6V4211.6 M123.1,4099.6V4211.6 M135.0,4099.6V4211.6 M146.8,4099.6V4211.6 M158.6,4099.6V4211.6 M170.5,4099.6V4211.6 M182.3,4099.6V4211.6 M194.1,4099.6V4211.6 M205.9,4099.6V4211.6 M217.8,4099.6V4211.6 M229.6,4099.6V4211.6 M241.4,4099.6V4211.6 M253.3,4099.6V4211.6 M265.1,4099.6V4211.6 M276.9,4099.6V4211.6 M288.8,4099.6V4211.6 M300.6,4099.6V4211.6 M312.4,4099.6V4211.6 M324.2,4099.6V4211.6 M336.1,4099.6V4211.6 M347.9,4099.6V4211.6 M359.7,4099.6V4211.6 M371.6,4099.6V4211.6 M383.4,4099.6V4211.6 M395.2,4099.6V4211.6 M407.1,4099.6V4211.6 M418.9,4099.6V4211.6 M430.7,4099.6V4211.6 M442.6,4099.6V4211.6 M454.4,4099.6V4211.6 M466.2,4099.6V4211.6 M478.0,4099.6V4211.6 M489.9,4099.6V4211.6 M501.7,4099.6V4211.6 M513.5,4099.6V4211.6 M525.4,4099.6V4211.6 M537.2,4099.6V4211.6 M549.0,4099.6V4211.6 M560.9,4099.6V4211.6 M572.7,4099.6V4211.6 M584.5,4099.6V4211.6 M596.3,4099.6V4211.6 M608.2,4099.6V4211.6 M620.0,4099.6V4211.6 M631.8,4099.6V4211.6 M643.7,4099.6V4211.6 M655.5,4099.6V4211.6 M667.3,4099.6V4211.6 M679.1,4099.6V4211.6 M691.0,4099.6V4211.6 M702.8,4099.6V4211.6 M714.6,4099.6V4211.6 M726.5,4099.6V4211.6" stroke="#e2e2e6" stroke-width="1" stroke-dasharray="2.5,3.5" fill="none"/>
<line x1="20" y1="4098.6" x2="730" y2="4098.6" stroke="#ececef" stroke-width="1" stroke-dasharray="3,2"/>
<line x1="20" y1="4211.6" x2="730" y2="4211.6" stroke="#ececef" stroke-width="1" stroke-dasharray="3,2"/>
<circle cx="642.2" cy="4080.7" r="13.3" fill="#e3e3e6"/>
<path d="M635.8,4073.9 L648.6,4073.9 M642.2,4089.2 L642.2,4077.7 M637.5,4082.5 L642.2,4077.7 L646.9,4082.5" stroke="#fff" stroke-width="2.1" fill="none"/>
<circle cx="705" cy="4080.7" r="13.3" fill="#e3e3e6"/>
<path d="M699.3,4075.0 L710.7,4086.4 M710.7,4075.0 L699.3,4086.4" stroke="#fff" stroke-width="2.1"/>
<text x="20.0" y="4093.6" font-size="21.5" fill="#2d2d38" textLength="156.0" lengthAdjust="spacingAndGlyphs">UDL(3,5,10,20,6)</text>
<text x="189.3" y="4093.6" font-size="21.5" fill="#ef7a3c" textLength="131.6" lengthAdjust="spacingAndGlyphs">MAUDL:2.420</text>
<text x="334.2" y="4093.6" font-size="21.5" fill="#4a7fdc" textLength="98.8" lengthAdjust="spacingAndGlyphs">UDL:2.409</text>
<polyline points="19.0,4154.3 21.4,4155.0 24.7,4155.8 28.6,4156.9 32.8,4158.1 37.0,4159.4 41.0,4160.7 44.8,4162.1 48.6,4163.8 52.4,4165.5 56.2,4167.2 60.1,4168.8 64.0,4170.2 67.9,4171.5 71.9,4172.6 75.9,4173.7 79.9,4174.7 83.9,4175.6 87.8,4176.5 91.7,4177.3 95.5,4177.9 99.2,4178.5 103.0,4179.1 106.8,4179.7 110.7,4180.4 114.6,4181.2 118.6,4182.1 122.6,4183.1 126.5,4184.1 130.5,4185.1 134.5,4186.0 138.4,4186.9 142.4,4187.9 146.3,4188.9 150.2,4189.8 154.2,4190.7 158.2,4191.5 162.2,4192.2 166.3,4192.9 170.4,4193.6 174.6,4194.1 178.6,4194.5 182.7,4194.7 186.7,4194.6 190.7,4194.4 194.6,4193.9 198.6,4193.4 202.5,4192.9 206.5,4192.3 210.5,4191.8 214.4,4191.2 218.3,4190.6 222.3,4189.9 226.2,4189.2 230.2,4188.4 234.3,4187.5 238.6,4186.5 242.9,4185.4 247.0,4184.3 250.8,4183.2 254.0,4182.0 256.6,4180.8 258.6,4179.5 260.2,4178.2 261.7,4176.9 263.3,4175.5 265.0,4174.1 266.9,4172.6 268.9,4171.2 270.9,4169.6 272.9,4168.1 274.9,4166.4 276.9,4164.6 278.9,4162.7 280.8,4160.6 282.8,4158.5 284.8,4156.3 286.7,4154.1 288.7,4152.0 290.7,4150.0 292.7,4148.0 294.6,4146.0 296.6,4144.0 298.6,4142.0 300.6,4140.1 302.6,4138.2 304.6,4136.3 306.6,4134.5 308.5,4132.6 310.5,4130.8 312.5,4129.0 314.5,4127.1 316.4,4125.2 318.4,4123.3 320.4,4121.5 322.3,4119.9 324.3,4118.7 326.3,4117.8 328.3,4117.3 330.3,4117.0 332.3,4116.8 334.3,4116.7 336.2,4116.4 338.0,4116.0 339.5,4115.6 341.1,4115.2 342.8,4114.9 344.8,4114.7 347.4,4114.8 350.5,4115.1 353.9,4115.5 357.7,4116.2 361.9,4116.9 366.3,4117.8 371.1,4118.7 376.3,4119.8 382.1,4121.0 388.2,4122.3 394.4,4123.7 400.6,4125.1 406.7,4126.6 412.6,4128.1 418.6,4129.7 424.5,4131.3 430.4,4132.9 436.4,4134.5 442.3,4136.1 448.4,4137.6 454.6,4139.1 460.9,4140.6 467.0,4142.0 472.7,4143.4 478.0,4144.8 482.6,4146.1 486.8,4147.2 490.6,4148.3 494.2,4149.4 497.9,4150.6 501.7,4152.0 505.6,4153.5 509.6,4155.2 513.5,4156.9 517.5,4158.7 521.4,4160.5 525.4,4162.2 529.3,4163.9 533.3,4165.7 537.2,4167.4 541.2,4169.1 545.1,4170.8 549.1,4172.5 553.1,4174.1 557.0,4175.8 561.0,4177.4 565.0,4179.0 568.9,4180.5 572.9,4182.0 576.9,4183.4 580.8,4184.8 584.8,4186.1 588.7,4187.4 592.7,4188.7 596.6,4189.9 600.6,4191.1 604.5,4192.2 608.5,4193.3 612.5,4194.4 616.4,4195.4 620.3,4196.3 624.4,4197.1 628.9,4197.9 633.3,4198.7 637.4,4199.3 640.8,4199.8 643.3,4200.2" fill="none" stroke="#ef7a3c" stroke-width="2.2" stroke-linejoin="round" stroke-linecap="round"/>
<polyline points="19.0,4166.2 29.2,4172.5 41.0,4176.5 53.0,4178.9 64.0,4178.1 76.0,4177.3 87.8,4179.7 99.7,4183.6 110.7,4191.5 122.6,4197.8 134.5,4199.4 146.3,4196.3 158.2,4194.7 170.0,4189.9 182.7,4187.6 194.6,4186.0 206.5,4184.4 218.3,4182.0 230.2,4178.9 242.0,4177.3 254.0,4172.5 265.0,4150.4 276.9,4133.0 288.7,4114.8 300.6,4110.8 312.5,4109.2 324.3,4118.7 336.2,4121.1 347.4,4120.3 371.1,4120.3 383.0,4128.2 394.9,4132.2 406.7,4136.9 418.6,4140.1 442.3,4144.0 454.2,4148.8 478.0,4158.3 501.7,4166.2 513.5,4174.1 525.4,4176.5 537.3,4183.6 561.0,4189.9 572.9,4189.9 584.7,4195.5 608.5,4201.8 620.3,4203.4 632.2,4201.8 643.3,4201.8" fill="none" stroke="#4a7fdc" stroke-width="2.2" stroke-linejoin="round" stroke-linecap="round"/>
</g>
<g id="p19">
<path d="M28.5,4255.5V4367.5 M40.3,4255.5V4367.5 M52.2,4255.5V4367.5 M64.0,4255.5V4367.5 M75.8,4255.5V4367.5 M87.7,4255.5V4367.5 M99.5,4255.5V4367.5 M111.3,4255.5V4367.5 M123.1,4255.5V4367.5 M135.0,4255.5V4367.5 M146.8,4255.5V4367.5 M158.6,4255.5V4367.5 M170.5,4255.5V4367.5 M182.3,4255.5V4367.5 M194.1,4255.5V4367.5 M205.9,4255.5V4367.5 M217.8,4255.5V4367.5 M229.6,4255.5V4367.5 M241.4,4255.5V4367.5 M253.3,4255.5V4367.5 M265.1,4255.5V4367.5 M276.9,4255.5V4367.5 M288.8,4255.5V4367.5 M300.6,4255.5V4367.5 M312.4,4255.5V4367.5 M324.2,4255.5V4367.5 M336.1,4255.5V4367.5 M347.9,4255.5V4367.5 M359.7,4255.5V4367.5 M371.6,4255.5V4367.5 M383.4,4255.5V4367.5 M395.2,4255.5V4367.5 M407.1,4255.5V4367.5 M418.9,4255.5V4367.5 M430.7,4255.5V4367.5 M442.6,4255.5V4367.5 M454.4,4255.5V4367.5 M466.2,4255.5V4367.5 M478.0,4255.5V4367.5 M489.9,4255.5V4367.5 M501.7,4255.5V4367.5 M513.5,4255.5V4367.5 M525.4,4255.5V4367.5 M537.2,4255.5V4367.5 M549.0,4255.5V4367.5 M560.9,4255.5V4367.5 M572.7,4255.5V4367.5 M584.5,4255.5V4367.5 M596.3,4255.5V4367.5 M608.2,4255.5V4367.5 M620.0,4255.5V4367.5 M631.8,4255.5V4367.5 M643.7,4255.5V4367.5 M655.5,4255.5V4367.5 M667.3,4255.5V4367.5 M679.1,4255.5V4367.5 M691.0,4255.5V4367.5 M702.8,4255.5V4367.5 M714.6,4255.5V4367.5 M726.5,4255.5V4367.5" stroke="#e2e2e6" stroke-width="1" stroke-dasharray="2.5,3.5" fill="none"/>
<line x1="20" y1="4254.5" x2="730" y2="4254.5" stroke="#ececef" stroke-width="1" stroke-dasharray="3,2"/>
<line x1="20" y1="4367.5" x2="730" y2="4367.5" stroke="#ececef" stroke-width="1" stroke-dasharray="3,2"/>
<circle cx="642.2" cy="4236.6" r="13.3" fill="#e3e3e6"/>
<path d="M635.8,4229.8 L648.6,4229.8 M642.2,4245.1 L642.2,4233.6 M637.5,4238.4 L642.2,4233.6 L646.9,4238.4" stroke="#fff" stroke-width="2.1" fill="none"/>
<circle cx="705" cy="4236.6" r="13.3" fill="#e3e3e6"/>
<path d="M699.3,4230.9 L710.7,4242.3 M710.7,4230.9 L699.3,4242.3" stroke="#fff" stroke-width="2.1"/>
<text x="20.0" y="4249.5" font-size="21.5" fill="#2d2d38" textLength="129.3" lengthAdjust="spacingAndGlyphs">VRSI(6,12,24)</text>
<text x="162.6" y="4249.5" font-size="21.5" fill="#ef7a3c" textLength="115.2" lengthAdjust="spacingAndGlyphs">RSI6:39.074</text>
<text x="291.1" y="4249.5" font-size="21.5" fill="#2a9f93" textLength="127.3" lengthAdjust="spacingAndGlyphs">RSI12:44.272</text>
<text x="431.7" y="4249.5" font-size="21.5" fill="#d23c76" textLength="127.3" lengthAdjust="spacingAndGlyphs">RSI24:46.865</text>
<polyline points="19.0,4320.6 29.2,4327.7 41.0,4328.5 64.0,4332.5 87.8,4330.1 99.7,4335.7 110.7,4330.1 122.6,4334.1 146.3,4330.1 158.2,4335.7 170.0,4331.7 182.7,4334.9 206.5,4332.5 230.2,4331.7 242.0,4333.3 254.0,4330.1 265.0,4304.0 276.9,4320.6 288.7,4319.8 300.6,4326.2 312.5,4331.7 324.3,4334.1 336.2,4336.4 347.4,4336.4 371.1,4336.4 383.0,4334.1 394.9,4338.0 406.7,4335.7 418.6,4339.6 442.3,4338.0 454.2,4334.1 478.0,4334.1 501.7,4338.0 513.5,4328.5 525.4,4334.1 549.1,4336.4 572.9,4336.4 584.7,4334.1 608.5,4334.1 632.2,4334.1 643.3,4338.0" fill="none" stroke="#d23c76" stroke-width="2.2" stroke-linejoin="round" stroke-linecap="round"/>
<polyline points="19.0,4318.2 29.2,4327.7 41.0,4330.1 53.0,4335.7 64.0,4339.6 76.0,4336.4 87.8,4330.1 99.7,4342.0 110.7,4330.1 122.6,4340.4 134.5,4334.1 146.3,4330.1 158.2,4342.0 170.0,4332.5 182.7,4340.4 194.6,4334.1 206.5,4338.0 218.3,4332.5 230.2,4334.1 242.0,4338.0 254.0,4330.1 265.0,4286.6 276.9,4318.2 288.7,4315.9 300.6,4326.2 312.5,4336.4 324.3,4340.4 336.2,4344.4 347.4,4342.0 371.1,4343.6 383.0,4338.0 394.9,4345.9 406.7,4339.6 418.6,4345.9 442.3,4344.4 454.2,4335.7 466.0,4339.6 478.0,4336.4 489.8,4340.4 501.7,4344.4 513.5,4322.2 525.4,4336.4 537.3,4332.5 549.1,4339.6 572.9,4340.4 584.7,4335.7 608.5,4335.7 620.3,4339.6 632.2,4334.1 643.3,4343.6" fill="none" stroke="#2a9f93" stroke-width="2.2" stroke-linejoin="round" stroke-linecap="round"/>
<polyline points="19.0,4314.3 29.2,4330.1 41.0,4334.1 53.0,4344.4 64.0,4353.8 76.0,4345.9 87.8,4330.1 99.7,4352.3 110.7,4328.5 122.6,4347.5 134.5,4336.4 146.3,4328.5 158.2,4349.9 170.0,4334.1 182.7,4348.3 194.6,4334.1 206.5,4342.0 218.3,4330.1 230.2,4338.0 242.0,4343.6 254.0,4328.5 265.0,4262.9 276.9,4316.7 288.7,4312.7 300.6,4327.7 312.5,4343.6 324.3,4349.9 336.3,4357.8 347.4,4352.3 359.3,4352.3 371.1,4353.8 383.0,4339.6 394.9,4356.2 406.7,4340.4 418.6,4356.2 430.5,4353.8 442.3,4351.5 454.2,4330.1 466.0,4339.6 478.0,4334.1 489.8,4344.4 501.7,4352.3 513.5,4302.4 525.4,4336.4 537.3,4327.7 549.1,4340.4 561.0,4342.0 572.9,4344.4 584.7,4334.1 596.6,4338.0 608.5,4330.1 620.3,4342.0 632.2,4326.2 643.3,4352.3" fill="none" stroke="#ef7a3c" stroke-width="2.2" stroke-linejoin="round" stroke-linecap="round"/>
</g>
<text x="40.5" y="4426.0" font-size="24.7" fill="#b0b0bc" textLength="37.9" lengthAdjust="spacingAndGlyphs">MA</text>
<text x="121.4" y="4426.0" font-size="24.7" fill="#2d2d38" textLength="51.2" lengthAdjust="spacingAndGlyphs">LMA</text>
<text x="214.0" y="4426.0" font-size="24.7" fill="#b0b0bc" textLength="37.5" lengthAdjust="spacingAndGlyphs">BBI</text>
<text x="296.8" y="4426.0" font-size="24.7" fill="#b0b0bc" textLength="46.0" lengthAdjust="spacingAndGlyphs">SAR</text>
<rect x="374.5" y="4397.5" width="1.3" height="37.5" fill="#dcdce0"/>
<text x="397.4" y="4426.0" font-size="24.7" fill="#2d2d38" textLength="35.3" lengthAdjust="spacingAndGlyphs">Vol</text>
<text x="476.0" y="4426.0" font-size="24.7" fill="#2d2d38" textLength="70.0" lengthAdjust="spacingAndGlyphs">MACD</text>
<text x="589.0" y="4426.0" font-size="24.7" fill="#2d2d38" textLength="45.3" lengthAdjust="spacingAndGlyphs">KDJ</text>
<text x="678.0" y="4426.0" font-size="24.7" fill="#2d2d38" textLength="36.6" lengthAdjust="spacingAndGlyphs">RSI</text>
<circle cx="52.5" cy="4552.4" r="29.8" fill="#ffd400" stroke="#111" stroke-width="2.6"/>
<path d="M23.6,4558.2 C29,4559.5 33,4559.5 36.6,4559 C42,4558.3 47,4557.5 51,4555.5 C55,4553.5 58,4551.5 60,4549.2 C62,4546 62.3,4543 62.7,4540.2 C63.3,4538.5 64.3,4537 65.4,4536.2 C67,4535 68.5,4534.8 69,4535.1 C72,4535.5 73.5,4536.5 73.5,4537.5 C74,4541 73.8,4544 72.6,4547.4 C70.5,4553.5 67.5,4558.5 63.6,4561.8 C59,4566 55,4569 51,4570.8 C46,4573 41,4574.5 36.6,4574.4 C31,4574 27.5,4572 24.9,4569 Z" fill="#ffd400" stroke="#111" stroke-width="2.4" stroke-linejoin="round"/>
<g stroke="#111" stroke-linecap="butt"><path d="M31,4560 L33.5,4573" stroke-width="3.2"/><path d="M39.5,4559.5 L41,4574.5" stroke-width="3.4"/><path d="M47.5,4557.5 L48,4572" stroke-width="3.4"/><path d="M54.5,4554 L57.5,4567" stroke-width="3.2"/><path d="M60.5,4549.5 L65.5,4559" stroke-width="3"/></g>
<text x="99.0" y="4549.0" font-size="27" fill="#111" font-weight="bold" textLength="75.4" lengthAdjust="spacingAndGlyphs">TIGER</text>
<text x="99.0" y="4578.0" font-size="27.2" fill="#111" font-weight="bold" textLength="120.2" lengthAdjust="spacingAndGlyphs">BROKERS</text>
<text x="255.6" y="4548.4" font-size="23.8" fill="#1d1d29" textLength="332.9" lengthAdjust="spacingAndGlyphs">Scan the QR code and get more</text>
<text x="435.6" y="4575.5" font-size="23.8" fill="#1d1d29" textLength="152.9" lengthAdjust="spacingAndGlyphs">market quotes</text>
<path d="M613.00,4494.20h19.46v2.78h-19.46zM635.24,4494.20h13.90v2.78h-13.90zM651.92,4494.20h5.56v2.78h-5.56zM665.82,4494.20h2.78v2.78h-2.78zM671.38,4494.20h2.78v2.78h-2.78zM676.94,4494.20h11.12v2.78h-11.12zM690.84,4494.20h2.78v2.78h-2.78zM699.18,4494.20h2.78v2.78h-2.78zM707.52,4494.20h19.46v2.78h-19.46zM613.00,4496.98h2.78v2.78h-2.78zM629.68,4496.98h2.78v2.78h-2.78zM635.24,4496.98h2.78v2.78h-2.78zM640.80,4496.98h5.56v2.78h-5.56zM649.14,4496.98h8.34v2.78h-8.34zM668.60,4496.98h2.78v2.78h-2.78zM679.72,4496.98h2.78v2.78h-2.78zM688.06,4496.98h2.78v2.78h-2.78zM693.62,4496.98h2.78v2.78h-2.78zM707.52,4496.98h2.78v2.78h-2.78zM724.20,4496.98h2.78v2.78h-2.78zM613.00,4499.76h2.78v2.78h-2.78zM618.56,4499.76h8.34v2.78h-8.34zM629.68,4499.76h2.78v2.78h-2.78zM646.36,4499.76h8.34v2.78h-8.34zM660.26,4499.76h13.90v2.78h-13.90zM676.94,4499.76h11.12v2.78h-11.12zM707.52,4499.76h2.78v2.78h-2.78zM713.08,4499.76h8.34v2.78h-8.34zM724.20,4499.76h2.78v2.78h-2.78zM613.00,4502.54h2.78v2.78h-2.78zM618.56,4502.54h8.34v2.78h-8.34zM629.68,4502.54h2.78v2.78h-2.78zM635.24,4502.54h11.12v2.78h-11.12zM651.92,4502.54h13.90v2.78h-13.90zM671.38,4502.54h16.68v2.78h-16.68zM690.84,4502.54h5.56v2.78h-5.56zM701.96,4502.54h2.78v2.78h-2.78zM707.52,4502.54h2.78v2.78h-2.78zM713.08,4502.54h8.34v2.78h-8.34zM724.20,4502.54h2.78v2.78h-2.78zM613.00,4505.32h2.78v2.78h-2.78zM618.56,4505.32h8.34v2.78h-8.34zM629.68,4505.32h2.78v2.78h-2.78zM646.36,4505.32h2.78v2.78h-2.78zM651.92,4505.32h13.90v2.78h-13.90zM671.38,4505.32h2.78v2.78h-2.78zM682.50,4505.32h13.90v2.78h-13.90zM707.52,4505.32h2.78v2.78h-2.78zM713.08,4505.32h8.34v2.78h-8.34zM724.20,4505.32h2.78v2.78h-2.78zM613.00,4508.10h2.78v2.78h-2.78zM629.68,4508.10h2.78v2.78h-2.78zM640.80,4508.10h8.34v2.78h-8.34zM654.70,4508.10h2.78v2.78h-2.78zM665.82,4508.10h2.78v2.78h-2.78zM671.38,4508.10h5.56v2.78h-5.56zM688.06,4508.10h2.78v2.78h-2.78zM696.40,4508.10h8.34v2.78h-8.34zM707.52,4508.10h2.78v2.78h-2.78zM724.20,4508.10h2.78v2.78h-2.78zM613.00,4510.88h19.46v2.78h-19.46zM635.24,4510.88h2.78v2.78h-2.78zM640.80,4510.88h2.78v2.78h-2.78zM646.36,4510.88h2.78v2.78h-2.78zM651.92,4510.88h2.78v2.78h-2.78zM657.48,4510.88h2.78v2.78h-2.78zM663.04,4510.88h2.78v2.78h-2.78zM668.60,4510.88h2.78v2.78h-2.78zM674.16,4510.88h2.78v2.78h-2.78zM679.72,4510.88h2.78v2.78h-2.78zM685.28,4510.88h2.78v2.78h-2.78zM690.84,4510.88h2.78v2.78h-2.78zM696.40,4510.88h2.78v2.78h-2.78zM701.96,4510.88h2.78v2.78h-2.78zM707.52,4510.88h19.46v2.78h-19.46zM635.24,4513.66h5.56v2.78h-5.56zM649.14,4513.66h2.78v2.78h-2.78zM657.48,4513.66h2.78v2.78h-2.78zM665.82,4513.66h2.78v2.78h-2.78zM671.38,4513.66h5.56v2.78h-5.56zM682.50,4513.66h5.56v2.78h-5.56zM690.84,4513.66h8.34v2.78h-8.34zM701.96,4513.66h2.78v2.78h-2.78zM618.56,4516.44h8.34v2.78h-8.34zM629.68,4516.44h8.34v2.78h-8.34zM643.58,4516.44h5.56v2.78h-5.56zM657.48,4516.44h5.56v2.78h-5.56zM665.82,4516.44h5.56v2.78h-5.56zM679.72,4516.44h2.78v2.78h-2.78zM685.28,4516.44h2.78v2.78h-2.78zM690.84,4516.44h5.56v2.78h-5.56zM701.96,4516.44h5.56v2.78h-5.56zM710.30,4516.44h16.68v2.78h-16.68zM613.00,4519.22h2.78v2.78h-2.78zM618.56,4519.22h2.78v2.78h-2.78zM624.12,4519.22h5.56v2.78h-5.56zM632.46,4519.22h5.56v2.78h-5.56zM643.58,4519.22h5.56v2.78h-5.56zM651.92,4519.22h2.78v2.78h-2.78zM657.48,4519.22h5.56v2.78h-5.56zM665.82,4519.22h2.78v2.78h-2.78zM676.94,4519.22h2.78v2.78h-2.78zM688.06,4519.22h13.90v2.78h-13.90zM704.74,4519.22h8.34v2.78h-8.34zM721.42,4519.22h5.56v2.78h-5.56zM613.00,4522.00h13.90v2.78h-13.90zM629.68,4522.00h2.78v2.78h-2.78zM635.24,4522.00h2.78v2.78h-2.78zM640.80,4522.00h13.90v2.78h-13.90zM657.48,4522.00h2.78v2.78h-2.78zM663.04,4522.00h22.24v2.78h-22.24zM701.96,4522.00h5.56v2.78h-5.56zM710.30,4522.00h2.78v2.78h-2.78zM718.64,4522.00h2.78v2.78h-2.78zM621.34,4524.78h2.78v2.78h-2.78zM649.14,4524.78h13.90v2.78h-13.90zM676.94,4524.78h5.56v2.78h-5.56zM696.40,4524.78h2.78v2.78h-2.78zM701.96,4524.78h8.34v2.78h-8.34zM713.08,4524.78h2.78v2.78h-2.78zM721.42,4524.78h5.56v2.78h-5.56zM613.00,4527.56h2.78v2.78h-2.78zM626.90,4527.56h8.34v2.78h-8.34zM638.02,4527.56h2.78v2.78h-2.78zM643.58,4527.56h8.34v2.78h-8.34zM660.26,4527.56h2.78v2.78h-2.78zM665.82,4527.56h8.34v2.78h-8.34zM676.94,4527.56h2.78v2.78h-2.78zM685.28,4527.56h5.56v2.78h-5.56zM696.40,4527.56h8.34v2.78h-8.34zM707.52,4527.56h2.78v2.78h-2.78zM713.08,4527.56h2.78v2.78h-2.78zM721.42,4527.56h2.78v2.78h-2.78zM621.34,4530.34h2.78v2.78h-2.78zM626.90,4530.34h2.78v2.78h-2.78zM632.46,4530.34h19.46v2.78h-19.46zM654.70,4530.34h2.78v2.78h-2.78zM663.04,4530.34h2.78v2.78h-2.78zM674.16,4530.34h8.34v2.78h-8.34zM688.06,4530.34h13.90v2.78h-13.90zM704.74,4530.34h2.78v2.78h-2.78zM710.30,4530.34h5.56v2.78h-5.56zM718.64,4530.34h5.56v2.78h-5.56zM629.68,4533.12h5.56v2.78h-5.56zM638.02,4533.12h2.78v2.78h-2.78zM646.36,4533.12h5.56v2.78h-5.56zM654.70,4533.12h11.12v2.78h-11.12zM671.38,4533.12h2.78v2.78h-2.78zM676.94,4533.12h2.78v2.78h-2.78zM682.50,4533.12h11.12v2.78h-11.12zM696.40,4533.12h5.56v2.78h-5.56zM707.52,4533.12h19.46v2.78h-19.46zM613.00,4535.90h2.78v2.78h-2.78zM624.12,4535.90h5.56v2.78h-5.56zM632.46,4535.90h11.12v2.78h-11.12zM646.36,4535.90h2.78v2.78h-2.78zM657.48,4535.90h13.90v2.78h-13.90zM679.72,4535.90h5.56v2.78h-5.56zM690.84,4535.90h2.78v2.78h-2.78zM696.40,4535.90h5.56v2.78h-5.56zM713.08,4535.90h8.34v2.78h-8.34zM624.12,4538.68h2.78v2.78h-2.78zM629.68,4538.68h2.78v2.78h-2.78zM635.24,4538.68h2.78v2.78h-2.78zM643.58,4538.68h8.34v2.78h-8.34zM657.48,4538.68h5.56v2.78h-5.56zM668.60,4538.68h5.56v2.78h-5.56zM676.94,4538.68h8.34v2.78h-8.34zM693.62,4538.68h8.34v2.78h-8.34zM707.52,4538.68h8.34v2.78h-8.34zM718.64,4538.68h5.56v2.78h-5.56zM615.78,4541.46h11.12v2.78h-11.12zM640.80,4541.46h2.78v2.78h-2.78zM646.36,4541.46h2.78v2.78h-2.78zM651.92,4541.46h5.56v2.78h-5.56zM660.26,4541.46h2.78v2.78h-2.78zM665.82,4541.46h11.12v2.78h-11.12zM682.50,4541.46h8.34v2.78h-8.34zM693.62,4541.46h11.12v2.78h-11.12zM718.64,4541.46h5.56v2.78h-5.56zM615.78,4544.24h2.78v2.78h-2.78zM621.34,4544.24h19.46v2.78h-19.46zM643.58,4544.24h2.78v2.78h-2.78zM649.14,4544.24h5.56v2.78h-5.56zM660.26,4544.24h11.12v2.78h-11.12zM674.16,4544.24h5.56v2.78h-5.56zM682.50,4544.24h5.56v2.78h-5.56zM693.62,4544.24h8.34v2.78h-8.34zM704.74,4544.24h2.78v2.78h-2.78zM713.08,4544.24h5.56v2.78h-5.56zM724.20,4544.24h2.78v2.78h-2.78zM615.78,4547.02h8.34v2.78h-8.34zM635.24,4547.02h8.34v2.78h-8.34zM649.14,4547.02h11.12v2.78h-11.12zM663.04,4547.02h2.78v2.78h-2.78zM679.72,4547.02h8.34v2.78h-8.34zM690.84,4547.02h5.56v2.78h-5.56zM699.18,4547.02h8.34v2.78h-8.34zM710.30,4547.02h2.78v2.78h-2.78zM721.42,4547.02h5.56v2.78h-5.56zM613.00,4549.80h5.56v2.78h-5.56zM621.34,4549.80h11.12v2.78h-11.12zM643.58,4549.80h2.78v2.78h-2.78zM649.14,4549.80h2.78v2.78h-2.78zM654.70,4549.80h2.78v2.78h-2.78zM660.26,4549.80h11.12v2.78h-11.12zM676.94,4549.80h5.56v2.78h-5.56zM688.06,4549.80h2.78v2.78h-2.78zM699.18,4549.80h5.56v2.78h-5.56zM713.08,4549.80h11.12v2.78h-11.12zM618.56,4552.58h2.78v2.78h-2.78zM624.12,4552.58h5.56v2.78h-5.56zM635.24,4552.58h2.78v2.78h-2.78zM643.58,4552.58h13.90v2.78h-13.90zM663.04,4552.58h8.34v2.78h-8.34zM674.16,4552.58h8.34v2.78h-8.34zM688.06,4552.58h8.34v2.78h-8.34zM701.96,4552.58h5.56v2.78h-5.56zM710.30,4552.58h8.34v2.78h-8.34zM721.42,4552.58h2.78v2.78h-2.78zM613.00,4555.36h5.56v2.78h-5.56zM624.12,4555.36h13.90v2.78h-13.90zM640.80,4555.36h2.78v2.78h-2.78zM646.36,4555.36h2.78v2.78h-2.78zM651.92,4555.36h8.34v2.78h-8.34zM668.60,4555.36h2.78v2.78h-2.78zM674.16,4555.36h2.78v2.78h-2.78zM679.72,4555.36h5.56v2.78h-5.56zM690.84,4555.36h5.56v2.78h-5.56zM701.96,4555.36h5.56v2.78h-5.56zM713.08,4555.36h5.56v2.78h-5.56zM721.42,4555.36h2.78v2.78h-2.78zM618.56,4558.14h2.78v2.78h-2.78zM624.12,4558.14h5.56v2.78h-5.56zM635.24,4558.14h8.34v2.78h-8.34zM646.36,4558.14h8.34v2.78h-8.34zM660.26,4558.14h2.78v2.78h-2.78zM668.60,4558.14h2.78v2.78h-2.78zM674.16,4558.14h2.78v2.78h-2.78zM685.28,4558.14h5.56v2.78h-5.56zM693.62,4558.14h2.78v2.78h-2.78zM699.18,4558.14h8.34v2.78h-8.34zM710.30,4558.14h5.56v2.78h-5.56zM721.42,4558.14h5.56v2.78h-5.56zM613.00,4560.92h22.24v2.78h-22.24zM638.02,4560.92h2.78v2.78h-2.78zM649.14,4560.92h2.78v2.78h-2.78zM654.70,4560.92h2.78v2.78h-2.78zM660.26,4560.92h2.78v2.78h-2.78zM674.16,4560.92h2.78v2.78h-2.78zM679.72,4560.92h2.78v2.78h-2.78zM688.06,4560.92h2.78v2.78h-2.78zM696.40,4560.92h5.56v2.78h-5.56zM704.74,4560.92h2.78v2.78h-2.78zM710.30,4560.92h2.78v2.78h-2.78zM715.86,4560.92h2.78v2.78h-2.78zM724.20,4560.92h2.78v2.78h-2.78zM613.00,4563.70h2.78v2.78h-2.78zM618.56,4563.70h11.12v2.78h-11.12zM638.02,4563.70h2.78v2.78h-2.78zM643.58,4563.70h2.78v2.78h-2.78zM651.92,4563.70h2.78v2.78h-2.78zM665.82,4563.70h2.78v2.78h-2.78zM674.16,4563.70h2.78v2.78h-2.78zM679.72,4563.70h2.78v2.78h-2.78zM688.06,4563.70h2.78v2.78h-2.78zM693.62,4563.70h5.56v2.78h-5.56zM701.96,4563.70h2.78v2.78h-2.78zM707.52,4563.70h2.78v2.78h-2.78zM721.42,4563.70h5.56v2.78h-5.56zM613.00,4566.48h5.56v2.78h-5.56zM621.34,4566.48h2.78v2.78h-2.78zM629.68,4566.48h5.56v2.78h-5.56zM638.02,4566.48h16.68v2.78h-16.68zM660.26,4566.48h2.78v2.78h-2.78zM665.82,4566.48h5.56v2.78h-5.56zM674.16,4566.48h8.34v2.78h-8.34zM690.84,4566.48h8.34v2.78h-8.34zM704.74,4566.48h2.78v2.78h-2.78zM710.30,4566.48h2.78v2.78h-2.78zM718.64,4566.48h2.78v2.78h-2.78zM724.20,4566.48h2.78v2.78h-2.78zM615.78,4569.26h8.34v2.78h-8.34zM626.90,4569.26h2.78v2.78h-2.78zM635.24,4569.26h5.56v2.78h-5.56zM651.92,4569.26h11.12v2.78h-11.12zM671.38,4569.26h2.78v2.78h-2.78zM679.72,4569.26h2.78v2.78h-2.78zM685.28,4569.26h16.68v2.78h-16.68zM713.08,4569.26h2.78v2.78h-2.78zM718.64,4569.26h2.78v2.78h-2.78zM613.00,4572.04h2.78v2.78h-2.78zM621.34,4572.04h2.78v2.78h-2.78zM626.90,4572.04h8.34v2.78h-8.34zM643.58,4572.04h2.78v2.78h-2.78zM649.14,4572.04h5.56v2.78h-5.56zM668.60,4572.04h2.78v2.78h-2.78zM679.72,4572.04h2.78v2.78h-2.78zM688.06,4572.04h5.56v2.78h-5.56zM696.40,4572.04h2.78v2.78h-2.78zM701.96,4572.04h8.34v2.78h-8.34zM713.08,4572.04h11.12v2.78h-11.12zM621.34,4574.82h2.78v2.78h-2.78zM626.90,4574.82h2.78v2.78h-2.78zM638.02,4574.82h2.78v2.78h-2.78zM649.14,4574.82h11.12v2.78h-11.12zM674.16,4574.82h8.34v2.78h-8.34zM685.28,4574.82h16.68v2.78h-16.68zM704.74,4574.82h5.56v2.78h-5.56zM721.42,4574.82h5.56v2.78h-5.56zM613.00,4577.60h2.78v2.78h-2.78zM618.56,4577.60h2.78v2.78h-2.78zM626.90,4577.60h8.34v2.78h-8.34zM638.02,4577.60h8.34v2.78h-8.34zM651.92,4577.60h8.34v2.78h-8.34zM663.04,4577.60h8.34v2.78h-8.34zM674.16,4577.60h2.78v2.78h-2.78zM679.72,4577.60h5.56v2.78h-5.56zM688.06,4577.60h5.56v2.78h-5.56zM696.40,4577.60h22.24v2.78h-22.24zM721.42,4577.60h2.78v2.78h-2.78zM613.00,4580.38h8.34v2.78h-8.34zM626.90,4580.38h2.78v2.78h-2.78zM632.46,4580.38h5.56v2.78h-5.56zM649.14,4580.38h8.34v2.78h-8.34zM665.82,4580.38h5.56v2.78h-5.56zM676.94,4580.38h5.56v2.78h-5.56zM685.28,4580.38h8.34v2.78h-8.34zM696.40,4580.38h2.78v2.78h-2.78zM707.52,4580.38h2.78v2.78h-2.78zM713.08,4580.38h8.34v2.78h-8.34zM613.00,4583.16h2.78v2.78h-2.78zM618.56,4583.16h5.56v2.78h-5.56zM629.68,4583.16h8.34v2.78h-8.34zM640.80,4583.16h13.90v2.78h-13.90zM665.82,4583.16h5.56v2.78h-5.56zM674.16,4583.16h2.78v2.78h-2.78zM682.50,4583.16h2.78v2.78h-2.78zM690.84,4583.16h8.34v2.78h-8.34zM701.96,4583.16h2.78v2.78h-2.78zM707.52,4583.16h2.78v2.78h-2.78zM715.86,4583.16h5.56v2.78h-5.56zM724.20,4583.16h2.78v2.78h-2.78zM635.24,4585.94h2.78v2.78h-2.78zM643.58,4585.94h2.78v2.78h-2.78zM651.92,4585.94h5.56v2.78h-5.56zM660.26,4585.94h2.78v2.78h-2.78zM665.82,4585.94h2.78v2.78h-2.78zM676.94,4585.94h2.78v2.78h-2.78zM696.40,4585.94h2.78v2.78h-2.78zM707.52,4585.94h5.56v2.78h-5.56zM715.86,4585.94h2.78v2.78h-2.78zM721.42,4585.94h5.56v2.78h-5.56zM613.00,4588.72h19.46v2.78h-19.46zM635.24,4588.72h2.78v2.78h-2.78zM646.36,4588.72h2.78v2.78h-2.78zM651.92,4588.72h8.34v2.78h-8.34zM668.60,4588.72h2.78v2.78h-2.78zM674.16,4588.72h2.78v2.78h-2.78zM679.72,4588.72h2.78v2.78h-2.78zM690.84,4588.72h36.14v2.78h-36.14zM613.00,4591.50h2.78v2.78h-2.78zM629.68,4591.50h2.78v2.78h-2.78zM635.24,4591.50h2.78v2.78h-2.78zM643.58,4591.50h2.78v2.78h-2.78zM654.70,4591.50h2.78v2.78h-2.78zM663.04,4591.50h5.56v2.78h-5.56zM674.16,4591.50h11.12v2.78h-11.12zM688.06,4591.50h5.56v2.78h-5.56zM699.18,4591.50h2.78v2.78h-2.78zM721.42,4591.50h2.78v2.78h-2.78zM613.00,4594.28h2.78v2.78h-2.78zM618.56,4594.28h8.34v2.78h-8.34zM629.68,4594.28h2.78v2.78h-2.78zM635.24,4594.28h16.68v2.78h-16.68zM657.48,4594.28h2.78v2.78h-2.78zM663.04,4594.28h2.78v2.78h-2.78zM674.16,4594.28h5.56v2.78h-5.56zM682.50,4594.28h2.78v2.78h-2.78zM690.84,4594.28h2.78v2.78h-2.78zM701.96,4594.28h2.78v2.78h-2.78zM710.30,4594.28h2.78v2.78h-2.78zM715.86,4594.28h2.78v2.78h-2.78zM724.20,4594.28h2.78v2.78h-2.78zM613.00,4597.06h2.78v2.78h-2.78zM618.56,4597.06h8.34v2.78h-8.34zM629.68,4597.06h2.78v2.78h-2.78zM640.80,4597.06h2.78v2.78h-2.78zM646.36,4597.06h2.78v2.78h-2.78zM651.92,4597.06h2.78v2.78h-2.78zM665.82,4597.06h8.34v2.78h-8.34zM682.50,4597.06h2.78v2.78h-2.78zM693.62,4597.06h11.12v2.78h-11.12zM613.00,4599.84h2.78v2.78h-2.78zM618.56,4599.84h8.34v2.78h-8.34zM629.68,4599.84h2.78v2.78h-2.78zM635.24,4599.84h5.56v2.78h-5.56zM649.14,4599.84h2.78v2.78h-2.78zM660.26,4599.84h13.90v2.78h-13.90zM679.72,4599.84h2.78v2.78h-2.78zM685.28,4599.84h5.56v2.78h-5.56zM699.18,4599.84h8.34v2.78h-8.34zM715.86,4599.84h8.34v2.78h-8.34zM613.00,4602.62h2.78v2.78h-2.78zM629.68,4602.62h2.78v2.78h-2.78zM638.02,4602.62h5.56v2.78h-5.56zM646.36,4602.62h2.78v2.78h-2.78zM651.92,4602.62h5.56v2.78h-5.56zM668.60,4602.62h2.78v2.78h-2.78zM676.94,4602.62h2.78v2.78h-2.78zM682.50,4602.62h2.78v2.78h-2.78zM690.84,4602.62h5.56v2.78h-5.56zM701.96,4602.62h5.56v2.78h-5.56zM710.30,4602.62h2.78v2.78h-2.78zM715.86,4602.62h8.34v2.78h-8.34zM613.00,4605.40h19.46v2.78h-19.46zM635.24,4605.40h2.78v2.78h-2.78zM649.14,4605.40h5.56v2.78h-5.56zM663.04,4605.40h2.78v2.78h-2.78zM676.94,4605.40h5.56v2.78h-5.56zM685.28,4605.40h2.78v2.78h-2.78zM699.18,4605.40h11.12v2.78h-11.12zM718.64,4605.40h2.78v2.78h-2.78z" fill="#111"/>
<circle cx="640" cy="4590" r="9" fill="none" stroke="#d8d8d8" stroke-width="1.4" opacity="0.8"/>
<text x="653" y="4595.5" font-size="11" fill="#ffffff" fill-opacity="0.75" stroke="#cfcfcf" stroke-width="0.4" textLength="78" lengthAdjust="spacingAndGlyphs">Tiger Community</text>
<text x="681.0" y="4621.0" font-size="12.5" fill="#c8c8cc" textLength="54.2" lengthAdjust="spacingAndGlyphs">@AT2020</text>
<rect x="0" y="4471.5" width="14" height="1" fill="#ededed"/><rect x="736" y="4471.5" width="14" height="1" fill="#ededed"/>
</svg></div></body></html>
